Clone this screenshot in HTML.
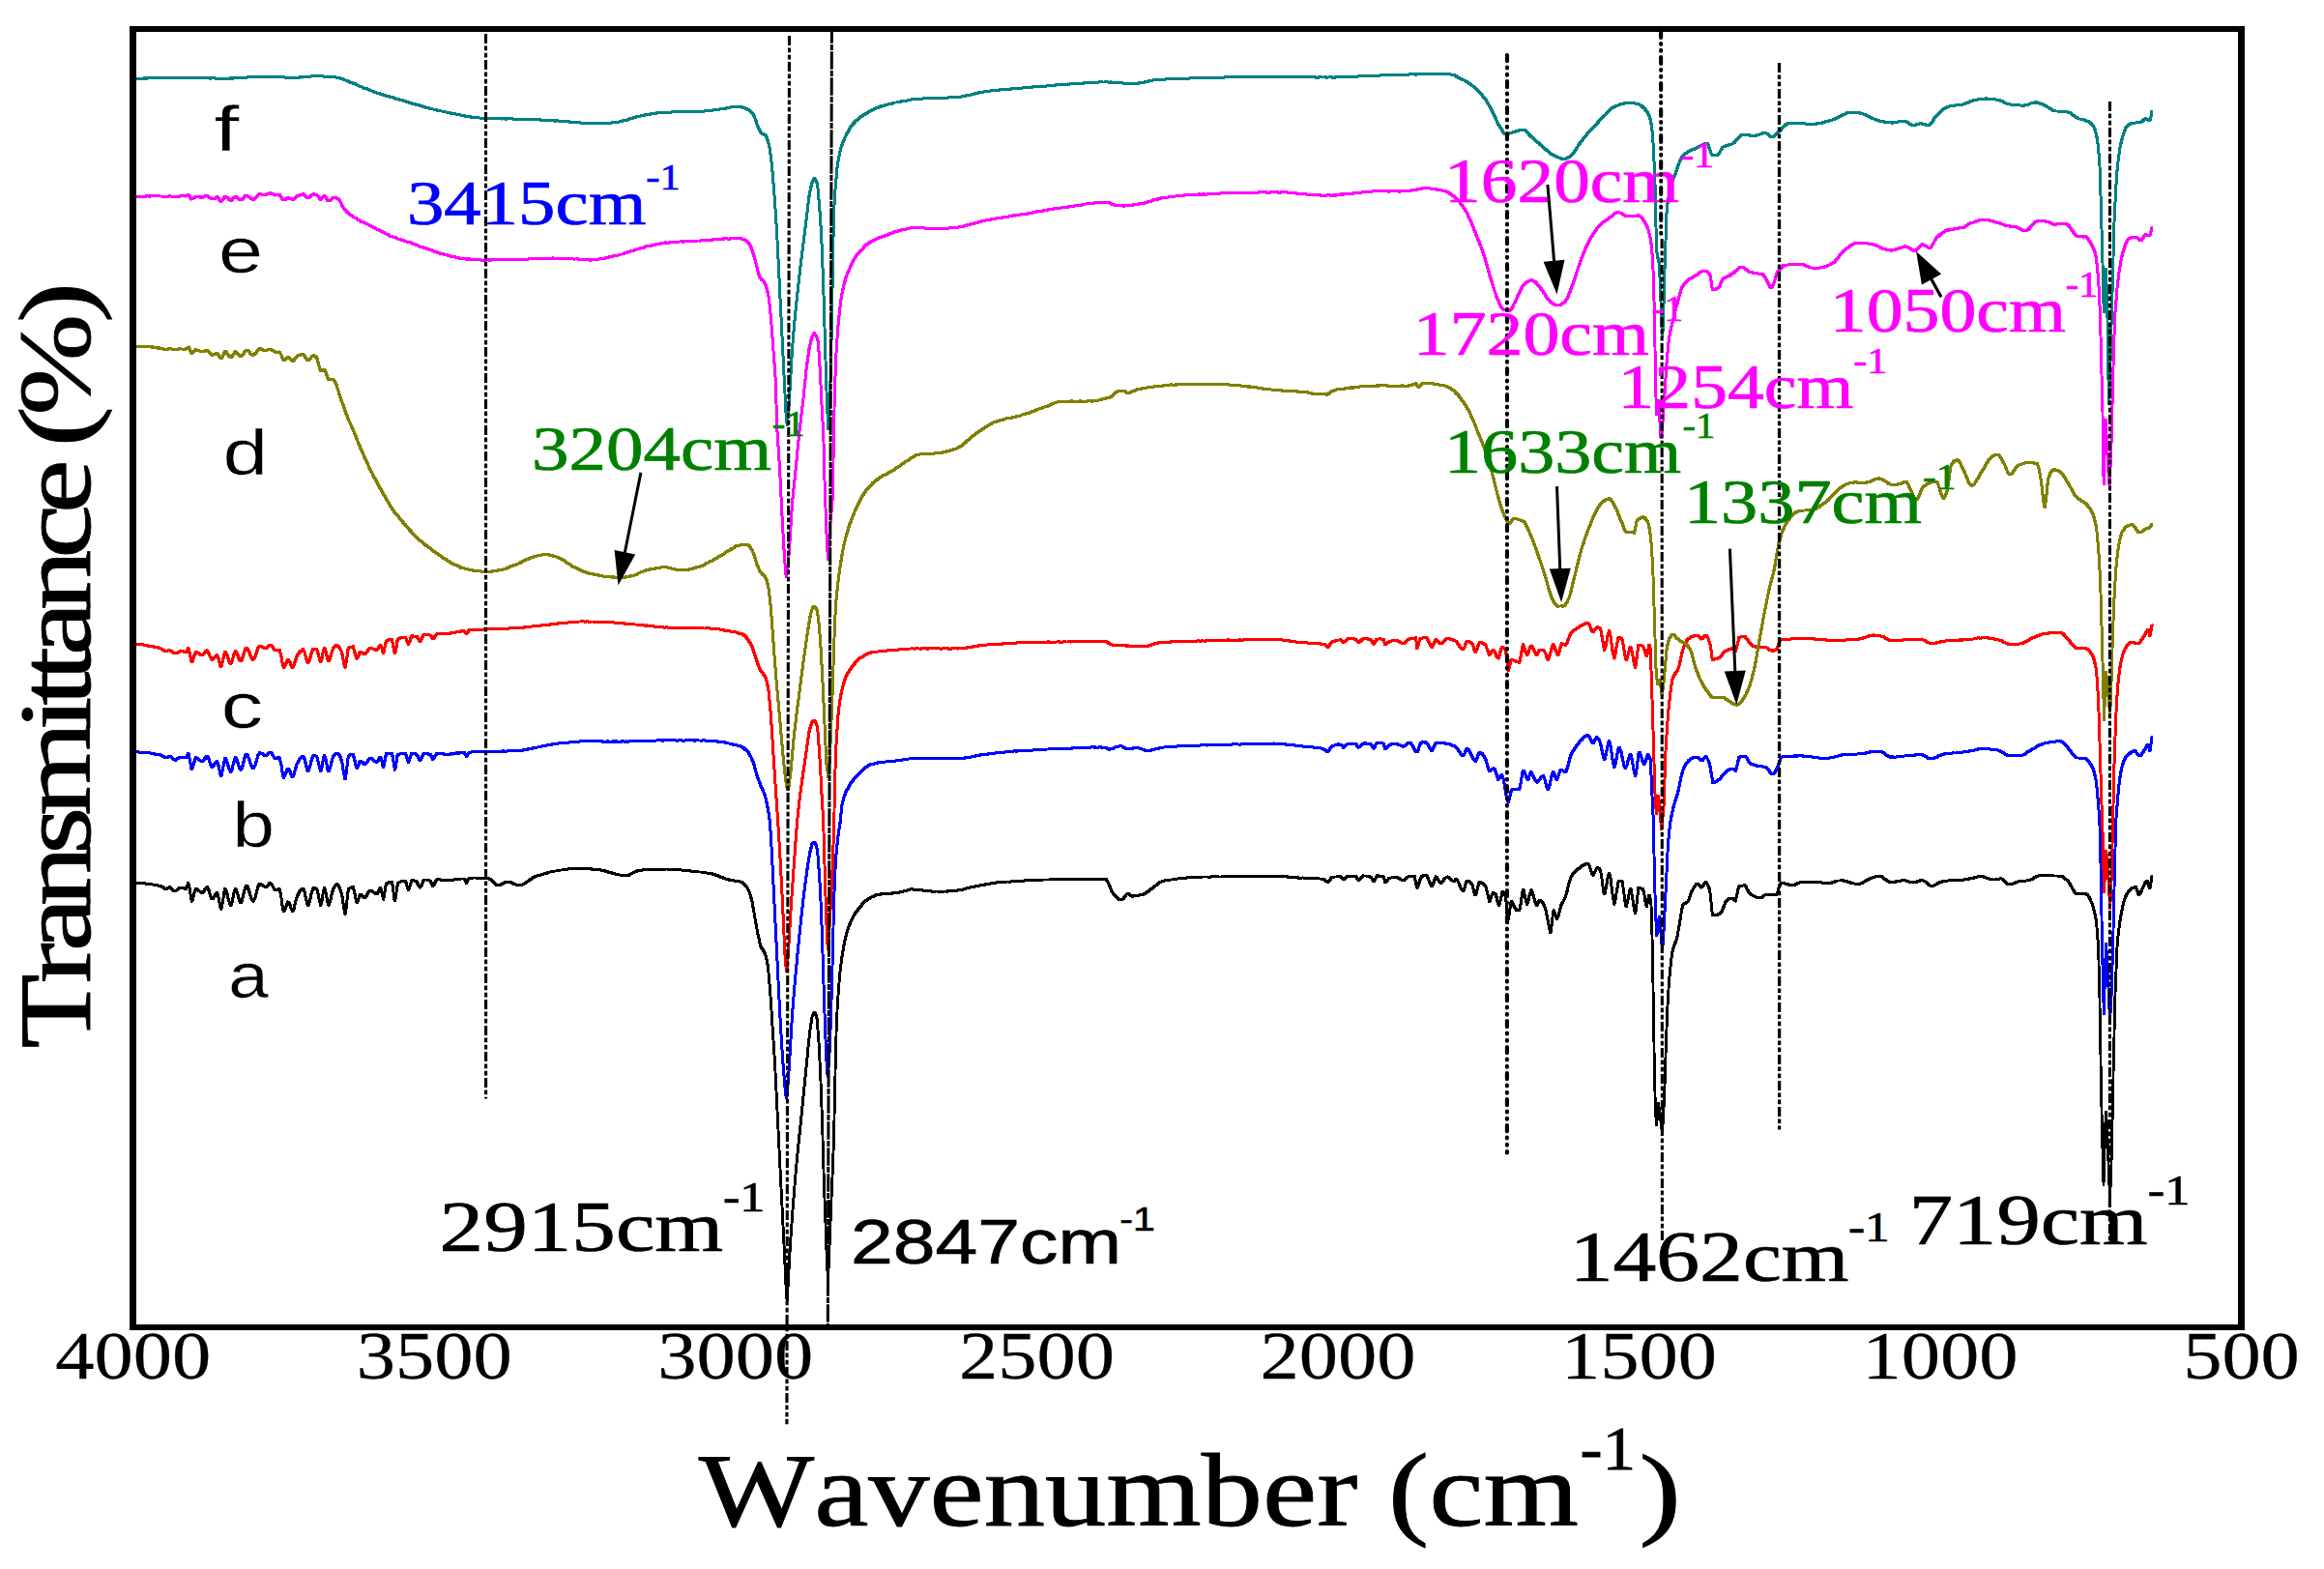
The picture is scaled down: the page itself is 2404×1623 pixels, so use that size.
<!DOCTYPE html>
<html lang="en"><head><meta charset="utf-8"><title>FTIR spectra</title>
<style>html,body{margin:0;padding:0;background:#fff}svg{display:block}text{font-kerning:none;font-variant-ligatures:none}.s{font-family:"Liberation Serif","DejaVu Serif",serif}.a{font-family:"Liberation Sans","DejaVu Sans",sans-serif}</style></head><body>
<svg width="2404" height="1623" viewBox="0 0 2404 1623">
<rect width="2404" height="1623" fill="#fff"/>
<g fill="none" stroke="#000" stroke-width="1.0" stroke-linejoin="round" stroke-linecap="butt" shape-rendering="crispEdges"><polyline id="c1" points="140.7,914.1 142.2,913.4 143.7,913.9 145.2,913.8 146.7,913.9 148.2,914.0 149.7,913.8 151.2,914.2 152.7,914.3 154.2,915.1 155.7,914.8 157.2,914.9 158.7,915.1 160.2,915.3 161.7,915.5 163.2,915.9 164.7,916.3 166.5,916.6 167.7,917.3 169.2,918.4 170.7,919.5 171.6,919.9 173.7,918.6 175.5,917.5 176.7,918.1 178.2,919.9 179.7,921.7 180.7,921.8 182.7,921.0 184.2,920.0 185.7,918.7 187.1,918.4 188.7,918.7 190.2,919.0 191.7,919.2 192.3,919.3 193.2,917.1 194.9,913.5 196.2,919.8 198.2,932.3 199.2,930.9 200.7,924.6 202.6,919.1 203.7,919.4 205.2,920.8 206.7,922.2 208.2,923.6 209.1,923.7 211.2,921.4 212.7,919.0 214.2,917.6 215.7,920.0 217.2,925.3 218.7,929.5 219.4,930.0 220.2,929.5 221.7,927.4 223.2,924.4 224.6,923.7 226.2,928.9 227.7,937.0 228.9,940.4 230.7,931.1 232.2,921.1 232.8,919.4 233.7,920.6 235.2,925.7 236.7,931.9 238.2,935.7 238.8,936.4 239.7,934.9 241.2,927.5 242.7,921.0 243.4,919.5 244.2,920.5 245.7,924.6 247.2,930.4 249.1,933.9 250.2,932.1 251.7,925.8 253.2,919.5 254.8,915.9 256.2,917.6 257.7,922.0 259.2,927.0 260.7,931.1 262.0,932.5 263.7,929.4 265.2,924.0 266.7,917.7 268.5,914.4 269.7,914.7 271.2,915.7 272.7,916.8 274.2,917.3 274.9,917.3 275.7,917.3 277.2,915.7 278.7,913.8 279.6,913.3 281.7,915.7 283.2,918.8 285.2,921.0 286.2,920.9 287.7,920.0 289.1,919.7 290.7,926.7 292.2,938.1 293.5,942.9 295.2,940.1 296.7,935.1 298.1,932.8 299.7,935.1 301.2,940.1 302.8,942.8 304.2,939.9 305.7,932.6 307.2,927.7 308.7,924.8 310.2,921.9 311.7,920.0 313.6,919.1 314.7,921.2 316.2,927.9 317.7,934.8 318.8,936.5 320.7,931.1 322.2,923.4 324.0,918.7 325.2,918.7 326.7,919.3 327.8,919.5 329.7,928.1 331.7,936.4 332.7,933.8 334.2,923.8 335.6,918.4 337.2,923.8 338.7,932.8 340.0,936.4 341.7,931.9 343.2,924.7 344.6,920.1 346.2,917.0 347.7,915.3 348.5,914.9 349.2,915.2 350.7,917.4 352.2,921.0 353.6,924.9 355.2,935.7 357.0,945.5 358.2,939.1 359.7,923.9 360.6,919.6 362.7,918.3 364.2,917.6 365.3,917.5 367.2,925.6 369.1,933.8 370.2,932.3 371.7,927.2 373.0,924.9 374.7,926.6 376.2,928.5 376.9,929.0 377.7,928.1 379.2,926.6 380.7,923.7 382.2,921.6 383.3,921.1 385.2,922.0 386.7,923.2 388.2,924.3 389.8,925.1 391.2,922.9 392.7,919.4 393.7,918.5 395.7,926.6 396.8,930.3 398.7,918.3 399.6,914.3 401.7,913.1 403.2,912.6 404.7,912.5 405.3,912.6 406.2,916.2 407.7,928.9 408.4,931.3 409.2,929.0 410.7,917.4 411.7,913.5 413.7,912.3 415.2,911.8 416.7,911.5 418.2,911.3 419.5,911.4 421.2,917.0 422.6,921.0 424.2,916.2 425.9,910.9 427.2,910.8 428.7,911.1 430.2,911.6 431.1,911.8 433.2,916.6 434.5,918.1 436.2,915.7 437.7,911.4 438.9,910.1 440.7,910.0 442.2,910.2 443.7,910.8 445.3,911.3 446.7,914.4 447.9,916.6 449.7,913.6 451.2,910.3 451.8,909.8 452.7,909.9 454.2,909.7 455.7,910.1 457.2,910.1 458.7,910.6 460.2,910.7 461.7,910.4 463.4,910.7 464.7,910.7 466.2,910.4 467.7,910.5 469.2,910.1 470.7,909.7 472.2,909.7 473.7,909.5 475.2,909.3 476.7,908.9 478.2,909.1 480.2,909.0 481.2,910.3 482.7,913.2 484.2,910.1 485.3,908.0 487.2,908.4 488.7,908.1 490.2,907.9 491.7,908.0 493.2,908.1 494.7,908.4 496.2,908.1 497.7,908.1 499.2,908.2 500.7,908.1 502.1,908.4 503.7,908.2 505.2,908.8 506.7,909.2 507.3,909.5 508.2,909.7 509.7,911.6 511.2,913.0 512.7,914.6 514.2,915.5 515.0,915.7 515.7,915.8 517.2,915.5 518.7,914.8 520.2,914.1 521.7,913.2 523.2,912.4 525.3,912.1 526.2,912.2 527.7,912.4 529.2,913.1 530.7,913.9 532.2,914.4 533.7,915.0 535.2,915.7 537.0,916.1 538.2,915.7 539.7,915.3 541.2,914.6 542.7,914.0 544.2,912.6 545.7,911.9 547.2,910.9 548.7,909.5 550.2,908.8 551.7,907.8 553.7,906.7 554.7,906.5 556.2,905.7 557.7,905.3 559.2,905.2 560.7,904.3 562.2,904.2 563.7,903.5 565.2,903.3 566.7,902.7 568.2,902.0 569.7,901.9 571.2,901.7 572.7,901.2 574.4,900.9 575.7,900.9 577.2,900.5 578.7,900.1 580.2,900.0 581.7,900.0 583.2,899.6 584.7,899.5 586.2,899.4 587.7,899.0 589.2,898.6 590.7,898.5 592.2,898.5 593.7,898.6 595.2,898.4 596.7,898.4 597.6,898.2 598.2,898.3 599.7,898.2 601.2,898.3 602.7,898.2 604.2,898.2 605.7,898.4 607.2,898.4 608.7,898.5 610.2,898.8 611.7,898.8 613.2,899.4 614.7,899.2 615.7,899.0 617.7,899.4 619.2,899.6 620.7,899.7 622.2,900.3 623.7,900.3 625.2,900.4 626.7,901.4 628.2,901.6 629.7,902.3 631.2,902.5 632.7,902.8 634.2,903.7 635.7,903.7 637.2,904.2 638.7,904.8 640.2,904.9 641.7,905.1 643.2,905.3 644.7,905.6 646.7,905.4 647.7,905.5 649.2,905.3 650.7,905.1 652.2,904.1 653.7,903.3 655.2,902.8 656.7,901.9 658.2,901.4 659.7,900.8 661.2,900.6 662.2,900.2 664.2,900.1 665.7,899.6 667.2,899.8 668.7,900.0 670.2,899.6 671.7,899.5 673.2,899.3 674.7,899.5 676.2,899.4 677.7,899.1 679.2,899.4 680.7,899.2 682.2,899.3 683.7,899.0 685.2,899.4 686.7,899.2 688.0,899.1 689.7,899.0 691.2,899.1 692.7,899.3 694.2,899.2 695.7,899.5 697.2,899.5 698.7,899.7 700.2,899.7 701.7,899.7 703.2,899.5 704.7,900.0 706.2,900.2 707.7,900.3 709.2,900.5 710.7,900.5 712.2,900.6 713.7,900.7 715.2,901.2 716.7,901.2 718.2,901.2 720.0,901.3 721.2,901.6 722.7,902.0 724.2,902.0 725.7,902.0 727.2,902.6 728.7,902.8 730.2,902.9 731.7,903.1 733.2,903.4 734.7,903.6 735.5,903.8 736.2,903.7 737.7,904.5 739.2,904.7 740.7,905.5 742.2,905.5 743.7,906.4 745.2,907.1 746.7,907.5 748.2,908.2 749.7,908.8 751.2,909.3 752.7,909.6 753.6,909.9 754.2,910.2 755.7,910.5 757.2,910.6 758.7,910.8 760.2,911.1 761.7,911.4 763.2,911.4 764.7,911.7 766.5,912.5 767.7,912.9 769.2,914.1 770.7,915.6 772.2,917.5 772.9,918.2 773.7,919.9 775.2,923.0 777.3,930.1 778.2,933.7 779.7,942.2 780.7,948.2 782.7,959.3 784.0,966.1 785.7,974.1 787.1,979.2 788.7,981.9 790.2,983.9 791.0,985.7 791.7,987.3 793.2,993.1 794.4,999.6 796.7,1025.8 797.7,1040.7 798.7,1056.7 801.3,1095.3 802.2,1112.1 803.9,1147.0 805.2,1172.6 806.5,1198.6 808.2,1232.5 809.1,1250.1 809.7,1262.0 811.5,1297.0 812.7,1325.1 814.1,1345.4 815.7,1320.9 816.7,1300.0 818.7,1269.4 819.4,1260.0 820.2,1249.3 821.7,1230.0 823.3,1211.5 824.7,1196.2 826.2,1181.4 827.7,1166.8 828.4,1159.6 829.2,1151.9 830.7,1137.1 832.2,1121.9 833.6,1108.0 835.2,1091.7 836.7,1076.5 837.5,1069.3 838.2,1063.6 840.1,1051.4 841.2,1048.9 842.6,1047.6 844.2,1050.3 845.2,1054.3 847.3,1082.6 849.1,1121.2 850.2,1151.4 850.9,1172.9 851.7,1200.8 852.4,1224.2 853.7,1258.1 854.7,1288.2 856.5,1326.2 858.0,1290.0 859.2,1260.1 860.0,1240.0 860.7,1224.4 862.4,1182.0 863.5,1134.0 864.6,1082.4 865.2,1064.0 866.1,1043.6 866.7,1033.3 868.5,1010.1 869.7,999.2 871.0,989.3 872.7,979.1 874.2,971.7 874.9,968.9 875.7,965.7 877.2,960.8 878.7,956.6 880.1,953.4 881.7,950.0 883.2,947.2 884.7,944.6 886.2,942.6 887.8,940.6 889.2,938.7 890.7,936.9 892.2,935.2 893.7,933.4 895.2,932.1 896.7,930.9 898.1,930.0 899.7,929.0 901.2,928.0 902.7,927.6 904.2,927.0 905.7,926.1 907.2,925.7 908.5,925.4 910.2,925.3 911.7,924.7 913.2,925.0 914.7,924.6 916.2,924.7 917.7,924.4 919.2,924.2 920.7,924.1 922.2,924.2 923.7,923.8 925.2,923.7 926.5,923.5 928.2,923.1 929.7,923.2 931.2,922.8 932.7,922.3 934.2,922.1 935.7,921.4 937.2,921.2 938.7,921.1 940.2,920.7 941.7,920.0 943.2,919.7 944.6,920.0 946.2,920.4 947.7,920.2 949.2,920.3 950.7,920.6 952.2,920.5 953.7,920.8 955.2,921.1 956.7,921.2 958.2,921.4 959.7,921.4 961.2,921.8 962.7,921.8 964.2,922.2 965.7,922.5 967.2,922.1 968.7,921.9 970.4,922.2 971.7,922.3 973.2,922.4 974.7,922.4 976.2,922.1 977.7,922.0 979.2,922.2 980.7,921.8 982.2,922.0 983.7,921.7 985.2,921.7 986.7,921.5 988.2,921.4 989.7,921.3 991.1,920.9 992.7,920.8 994.2,920.5 995.7,920.2 997.2,919.9 998.7,919.2 1000.2,918.8 1001.7,918.3 1003.2,918.0 1004.0,918.0 1004.7,917.6 1006.2,917.6 1007.7,917.2 1009.2,916.8 1010.7,916.3 1012.2,916.2 1013.7,916.0 1015.2,915.3 1016.7,915.5 1018.2,915.3 1019.7,914.8 1021.2,914.6 1022.7,914.6 1024.2,914.2 1025.7,913.7 1027.2,913.6 1028.7,913.4 1029.8,913.3 1031.7,912.8 1033.2,913.1 1034.7,912.7 1036.2,912.7 1037.7,912.5 1039.2,912.5 1040.7,912.2 1042.2,912.0 1043.7,912.1 1045.2,912.1 1046.7,911.8 1048.2,911.9 1049.7,911.7 1051.2,911.4 1052.7,911.7 1054.2,911.2 1055.7,911.4 1057.2,911.1 1058.7,911.1 1060.2,910.8 1061.7,910.8 1063.2,911.0 1064.7,910.8 1066.0,910.7 1067.7,910.6 1069.2,910.6 1070.7,910.3 1072.2,910.2 1073.7,910.3 1075.2,910.1 1076.7,910.1 1078.2,910.1 1079.7,910.0 1081.2,909.9 1082.7,910.1 1084.2,910.0 1085.7,910.0 1087.2,909.7 1088.7,909.6 1090.2,909.4 1091.7,909.5 1093.2,909.2 1094.7,909.4 1096.2,909.6 1097.7,909.7 1099.2,909.6 1100.7,909.3 1102.1,909.5 1103.7,909.3 1105.2,909.5 1106.7,909.4 1108.2,909.5 1109.7,909.8 1111.2,909.5 1112.7,909.7 1114.2,909.4 1115.7,909.4 1117.2,909.6 1118.7,909.7 1120.2,909.3 1121.7,909.4 1123.2,909.2 1124.7,909.4 1126.2,909.5 1127.7,909.4 1129.2,909.3 1130.7,909.2 1132.2,909.5 1133.7,909.5 1135.2,909.5 1136.7,909.4 1138.2,909.2 1139.7,909.7 1141.2,909.4 1142.7,909.4 1143.4,909.5 1144.2,909.4 1145.7,911.8 1147.2,915.1 1148.7,918.8 1150.2,922.2 1151.2,923.7 1153.2,925.8 1154.7,927.9 1156.2,929.5 1157.7,930.7 1159.7,931.1 1160.7,930.7 1162.2,929.4 1163.7,927.2 1165.2,925.2 1166.7,924.1 1168.2,925.5 1169.7,926.2 1170.5,926.8 1171.2,927.2 1172.7,926.8 1174.2,926.8 1175.7,926.4 1177.2,926.5 1178.7,925.9 1180.2,925.8 1182.1,925.4 1183.2,924.9 1184.7,924.4 1186.2,923.1 1187.7,922.1 1189.2,920.9 1190.7,919.7 1192.5,918.5 1193.7,917.7 1195.2,916.3 1196.7,915.0 1198.2,913.9 1199.7,912.8 1201.2,912.1 1202.8,911.4 1204.2,911.1 1205.7,910.7 1207.2,910.4 1208.7,910.4 1210.2,909.9 1211.7,909.9 1213.2,909.9 1214.7,909.4 1215.7,909.4 1217.7,908.9 1219.2,908.9 1220.7,908.5 1222.2,908.5 1223.7,908.3 1225.2,908.2 1226.7,908.2 1228.2,907.9 1229.7,907.8 1231.2,907.6 1232.7,907.4 1234.2,907.3 1235.7,907.0 1236.4,907.3 1237.2,907.5 1238.7,907.3 1240.2,907.1 1241.7,907.4 1243.2,907.1 1244.7,907.0 1246.2,906.9 1247.7,906.9 1249.2,907.0 1250.7,907.3 1252.2,907.0 1253.7,906.8 1255.2,906.9 1256.7,906.9 1258.2,906.7 1259.7,906.9 1261.2,907.0 1262.7,906.9 1264.2,906.9 1265.7,906.6 1267.2,906.5 1268.7,907.0 1270.2,906.9 1271.7,906.5 1273.2,906.8 1274.7,906.7 1276.2,906.8 1277.7,906.7 1279.2,906.6 1280.7,906.7 1282.2,906.7 1283.7,906.6 1285.2,906.3 1286.7,906.2 1288.2,906.5 1289.7,906.3 1291.2,906.6 1292.7,906.7 1294.2,906.6 1295.7,906.5 1297.2,906.6 1298.7,906.7 1300.2,906.4 1301.7,906.7 1303.2,906.6 1304.7,906.6 1306.2,906.7 1307.7,906.4 1309.2,906.7 1310.7,906.4 1312.2,906.4 1313.7,906.3 1315.2,906.6 1316.7,906.4 1318.2,906.5 1320.0,906.3 1321.2,906.7 1322.7,906.8 1324.2,906.6 1325.7,906.9 1327.2,906.8 1328.7,907.1 1330.2,906.9 1331.7,906.8 1333.2,907.4 1334.7,907.2 1336.2,907.2 1337.7,907.4 1339.2,907.4 1340.7,907.7 1342.2,907.7 1343.7,908.2 1345.8,908.2 1346.7,907.9 1348.2,908.0 1349.7,908.2 1351.2,908.1 1352.7,908.4 1354.2,908.4 1355.7,908.4 1357.2,908.5 1358.7,908.7 1360.2,908.9 1361.7,909.0 1363.2,908.8 1364.7,909.1 1366.2,909.0 1367.7,909.3 1369.1,909.3 1370.7,910.6 1372.2,911.9 1373.4,912.6 1375.2,911.0 1376.7,908.6 1378.1,907.1 1379.7,907.1 1381.2,907.0 1382.7,906.9 1384.2,906.7 1385.7,906.8 1387.1,906.8 1388.7,909.1 1389.7,910.0 1391.7,908.5 1393.2,906.9 1394.9,906.3 1396.2,906.5 1397.7,906.4 1399.2,906.6 1400.7,906.5 1402.6,906.6 1403.7,908.5 1405.2,910.7 1406.7,909.9 1408.2,907.6 1409.7,906.3 1410.4,905.9 1411.2,906.1 1412.7,906.0 1414.2,906.2 1415.7,906.5 1417.2,907.2 1418.1,907.3 1418.7,907.9 1420.7,911.8 1421.7,910.9 1423.2,908.0 1424.6,905.7 1426.2,905.9 1427.7,906.2 1429.2,906.3 1431.0,906.3 1432.8,912.6 1433.7,912.2 1435.2,910.5 1436.7,908.6 1437.5,908.3 1438.2,908.0 1439.7,907.9 1441.2,907.3 1442.7,907.5 1443.9,907.1 1445.7,907.5 1447.2,908.7 1448.7,909.5 1450.2,910.4 1451.7,910.5 1453.2,910.3 1454.7,908.7 1456.2,907.1 1458.1,906.3 1459.2,906.4 1460.7,906.2 1462.2,906.4 1463.3,906.6 1465.2,916.4 1465.9,918.4 1466.7,917.3 1468.2,912.3 1469.7,907.9 1471.2,906.3 1472.7,905.6 1474.2,904.9 1474.9,905.3 1475.7,905.5 1477.2,908.3 1478.7,912.4 1480.2,916.1 1481.4,917.0 1483.2,912.3 1485.2,906.8 1486.2,907.5 1487.7,909.9 1489.2,912.4 1490.4,913.5 1492.2,912.3 1493.7,909.7 1495.2,908.3 1496.9,906.8 1498.2,907.4 1499.7,908.3 1501.2,909.9 1502.7,911.2 1504.6,912.0 1505.9,909.0 1507.2,910.0 1508.7,912.6 1510.2,916.5 1511.7,920.0 1513.6,921.9 1514.7,919.7 1516.2,913.9 1517.5,911.2 1519.2,911.4 1520.7,912.4 1522.7,914.7 1523.7,917.6 1525.2,924.7 1526.0,926.1 1526.7,925.5 1528.2,919.6 1529.7,913.4 1530.4,912.6 1531.2,912.5 1532.7,913.4 1534.2,914.3 1535.7,915.6 1536.9,917.3 1538.7,924.7 1540.7,932.2 1541.7,930.8 1543.2,926.0 1544.6,923.5 1546.2,924.3 1547.2,924.9 1549.2,932.7 1550.5,936.8 1552.2,930.9 1553.7,923.9 1554.4,922.7 1555.2,923.3 1556.7,925.6 1557.5,927.5 1558.2,935.6 1559.6,954.4 1561.2,945.4 1563.2,932.5 1564.2,933.5 1565.7,936.8 1567.8,940.1 1568.7,941.3 1570.2,941.3 1571.7,941.8 1573.2,934.7 1574.7,923.2 1575.6,920.2 1576.2,920.7 1577.7,928.4 1579.5,935.3 1580.7,932.5 1582.2,925.6 1583.9,920.7 1585.2,923.1 1586.7,928.2 1588.2,933.6 1589.8,936.5 1591.2,933.6 1592.4,931.1 1594.2,932.1 1595.7,933.8 1597.5,936.6 1598.7,940.3 1600.2,947.4 1601.4,953.2 1603.2,963.1 1604.0,964.8 1604.7,961.7 1606.2,946.6 1607.1,941.6 1607.7,942.5 1609.2,947.9 1610.5,950.5 1612.2,946.4 1614.3,937.9 1615.2,935.7 1616.7,933.1 1618.2,930.3 1619.5,927.2 1621.2,921.3 1622.7,914.5 1624.7,908.2 1625.7,906.4 1627.2,904.0 1628.7,902.2 1630.2,900.8 1631.7,899.5 1633.7,897.9 1634.7,897.2 1636.2,896.0 1637.7,895.1 1639.2,894.4 1640.7,893.7 1642.7,893.4 1643.7,894.4 1645.2,898.9 1646.7,903.6 1647.9,905.4 1649.7,902.3 1651.8,898.0 1652.7,897.8 1654.2,898.6 1655.6,900.4 1657.2,910.1 1658.7,922.2 1659.5,925.1 1660.2,923.8 1661.7,916.6 1663.2,907.4 1664.7,903.0 1666.2,909.7 1667.7,923.1 1669.8,935.2 1670.7,932.7 1672.2,922.6 1674.2,911.9 1675.2,911.2 1676.7,910.9 1677.6,910.9 1678.2,912.2 1679.7,922.7 1681.2,934.3 1682.2,937.7 1684.2,929.9 1685.7,921.7 1686.6,919.4 1687.2,920.6 1688.7,928.8 1690.2,939.1 1691.8,945.0 1693.2,933.8 1694.9,918.4 1696.2,918.7 1697.7,919.0 1699.5,919.8 1700.7,924.2 1702.2,933.8 1703.4,938.0 1705.2,928.7 1706.0,926.1 1706.7,927.5 1708.0,935.1 1709.3,979.2 1710.4,1043.8 1711.4,1108.2 1712.4,1146.9 1713.5,1163.8 1714.2,1157.6 1715.5,1141.6 1717.6,1156.8 1718.7,1165.9 1719.7,1170.2 1721.7,1133.7 1723.3,1082.2 1724.8,1043.6 1726.2,1019.6 1727.4,1005.0 1729.2,989.1 1730.5,981.8 1732.2,976.7 1733.7,973.6 1734.4,971.6 1735.2,967.7 1736.7,959.3 1737.7,953.5 1739.7,940.7 1740.8,936.5 1742.7,934.6 1744.2,933.9 1746.0,932.7 1747.2,930.2 1748.7,925.5 1749.9,922.4 1751.7,919.2 1753.2,916.5 1754.7,914.6 1756.3,914.0 1757.7,915.4 1759.2,917.7 1760.2,918.2 1762.2,915.4 1764.1,912.5 1765.2,913.3 1766.7,915.4 1768.7,921.0 1769.7,930.4 1771.3,946.0 1772.7,946.8 1774.4,946.6 1775.7,946.3 1777.2,946.1 1778.7,945.1 1780.2,943.8 1780.9,942.9 1781.7,941.6 1783.2,937.3 1784.7,933.7 1786.2,932.0 1787.7,930.6 1789.2,929.3 1791.2,929.0 1792.2,929.1 1793.7,931.1 1795.0,932.3 1796.7,926.1 1798.2,918.4 1798.9,916.9 1799.7,916.7 1801.2,916.5 1802.7,916.0 1804.2,915.9 1804.9,915.7 1805.7,916.5 1807.2,919.7 1809.2,923.5 1810.2,924.3 1811.7,925.4 1813.2,926.5 1814.7,927.1 1816.2,927.8 1817.7,928.6 1819.2,928.5 1820.9,928.5 1822.2,928.5 1823.7,927.4 1825.2,926.2 1827.3,925.4 1828.2,925.4 1829.7,925.5 1831.2,925.4 1832.7,925.5 1834.2,925.2 1835.7,925.3 1837.7,925.4 1838.7,923.7 1840.2,918.0 1842.0,913.3 1843.2,913.3 1844.7,913.6 1846.2,913.9 1847.7,914.2 1849.2,914.7 1850.7,915.2 1852.2,915.5 1853.7,915.8 1854.4,915.9 1855.2,915.8 1856.7,915.4 1858.2,914.5 1859.7,913.4 1861.2,913.1 1862.2,912.9 1864.2,912.6 1865.7,912.8 1867.2,912.9 1868.7,912.7 1870.2,912.9 1871.7,912.8 1873.2,912.8 1874.7,912.7 1876.2,912.8 1877.7,912.7 1879.2,912.8 1880.7,912.5 1882.8,912.8 1883.7,912.9 1885.2,913.1 1886.7,913.4 1888.2,913.8 1889.7,913.8 1890.6,913.9 1891.2,913.9 1892.7,913.8 1894.2,913.5 1895.7,912.7 1897.2,912.4 1898.7,911.5 1900.2,911.1 1901.7,910.9 1903.5,910.9 1904.7,910.7 1906.2,910.6 1907.7,911.3 1909.2,911.6 1910.7,911.9 1912.2,912.4 1913.7,912.9 1915.2,913.5 1916.7,913.9 1918.2,913.9 1919.7,914.7 1921.5,914.5 1922.7,914.3 1924.2,914.1 1925.7,913.4 1927.2,912.9 1928.7,911.9 1930.2,910.8 1931.7,910.0 1933.1,909.3 1934.7,908.7 1936.2,908.2 1937.7,907.4 1939.2,907.1 1940.7,906.4 1942.2,906.1 1943.4,906.1 1945.2,906.1 1946.7,907.0 1948.2,908.2 1949.7,909.2 1951.2,910.4 1952.7,911.5 1954.2,912.1 1956.3,912.7 1957.2,912.5 1958.7,912.2 1960.2,912.5 1961.7,911.8 1963.2,911.5 1964.7,911.5 1966.2,911.1 1967.7,910.7 1969.2,910.6 1970.7,910.8 1972.2,911.1 1973.7,911.8 1975.2,912.2 1976.7,912.6 1978.3,912.8 1979.7,912.7 1981.2,912.6 1982.7,912.2 1984.2,911.2 1985.7,911.2 1987.2,910.6 1988.6,910.5 1990.2,911.3 1991.7,912.2 1993.2,913.6 1994.7,915.2 1996.2,915.9 1997.6,916.3 1999.2,916.3 2000.7,915.9 2002.2,915.2 2003.7,914.1 2005.2,913.4 2006.7,912.7 2008.2,912.3 2009.7,911.7 2010.5,911.5 2011.2,911.5 2012.7,911.1 2014.2,911.1 2015.7,911.0 2017.2,910.6 2018.7,910.7 2020.2,910.7 2021.7,910.4 2023.2,910.6 2024.7,910.5 2026.2,910.5 2027.7,910.1 2029.2,910.1 2031.2,910.1 2032.2,909.9 2033.7,909.4 2035.2,909.3 2036.7,909.2 2038.2,908.6 2039.7,908.3 2041.2,908.3 2042.7,907.6 2044.2,907.3 2045.7,906.9 2047.2,906.8 2048.7,907.0 2049.3,906.8 2050.2,906.7 2051.7,906.9 2053.2,907.5 2054.7,908.1 2056.2,908.4 2057.7,909.1 2059.2,909.4 2060.7,909.8 2062.2,910.0 2063.7,909.9 2065.2,909.5 2066.7,909.3 2068.2,909.1 2069.9,908.7 2071.2,909.3 2072.7,910.6 2074.2,912.3 2075.7,913.7 2077.2,914.8 2078.2,915.1 2080.2,914.7 2081.7,914.3 2083.2,913.8 2084.7,913.1 2086.2,912.3 2088.0,912.0 2089.2,911.5 2090.7,911.7 2092.2,911.4 2093.7,911.3 2095.2,911.0 2096.7,910.9 2098.3,910.8 2099.7,910.5 2101.2,909.5 2102.7,909.1 2104.2,908.1 2105.7,907.2 2107.2,906.6 2108.7,905.9 2110.2,905.5 2111.2,905.4 2113.2,905.5 2114.7,905.5 2116.2,905.5 2117.7,905.4 2119.2,905.5 2120.7,905.7 2122.2,905.9 2123.7,905.8 2125.2,906.0 2126.7,905.9 2128.2,905.9 2129.7,906.2 2131.2,906.1 2131.9,906.4 2132.7,906.6 2134.2,907.1 2135.7,908.2 2137.2,909.8 2138.6,910.7 2140.2,912.7 2141.7,915.3 2143.2,918.0 2144.7,920.8 2146.2,923.2 2147.7,924.2 2148.7,925.1 2150.7,924.7 2152.2,924.7 2153.7,925.0 2155.2,924.9 2156.7,924.7 2157.7,924.9 2159.7,926.0 2161.2,928.5 2162.7,931.5 2164.2,935.1 2165.7,939.7 2167.2,946.2 2168.0,950.7 2168.7,955.7 2170.6,979.1 2171.9,1030.6 2173.2,1108.2 2174.5,1172.9 2176.0,1225.7 2177.7,1166.2 2178.4,1150.8 2179.2,1159.5 2180.5,1190.1 2182.5,1239.9 2183.7,1215.4 2184.8,1172.6 2186.1,1108.1 2187.9,1030.8 2190.0,979.2 2191.2,966.2 2192.7,954.8 2193.8,948.0 2195.7,937.7 2197.7,930.1 2198.7,927.4 2200.2,924.8 2201.7,922.3 2203.2,920.7 2204.2,919.5 2206.2,918.3 2207.7,918.0 2209.3,917.3 2210.7,921.2 2212.4,926.0 2213.7,924.8 2215.2,921.3 2217.1,917.1 2218.2,915.0 2219.7,911.9 2221.0,910.8 2222.7,916.5 2223.5,918.6 2224.2,917.4 2226.1,905.7"/><use href="#c1" x="-0.9" y="-0.9"/><use href="#c1" x="-0.9" y="0"/><use href="#c1" x="-0.9" y="0.9"/><use href="#c1" x="0" y="-0.9"/><use href="#c1" x="0" y="0.9"/><use href="#c1" x="0.9" y="-0.9"/><use href="#c1" x="0.9" y="0"/><use href="#c1" x="0.9" y="0.9"/></g>
<g fill="none" stroke="#0000ff" stroke-width="1.1" stroke-linejoin="round" stroke-linecap="butt" shape-rendering="crispEdges"><polyline id="c2" points="139.4,777.7 140.9,778.0 142.4,777.8 143.9,778.1 145.4,778.1 146.9,778.0 148.4,778.3 149.9,778.6 151.4,778.7 152.9,778.9 154.4,778.8 155.9,779.1 157.4,779.2 158.9,779.7 160.4,780.1 161.9,780.2 163.4,780.5 164.9,780.6 166.5,781.2 167.9,781.8 169.4,782.7 170.9,783.6 171.6,784.0 172.4,783.7 173.9,783.1 175.5,782.2 176.9,782.7 178.4,784.4 179.9,786.0 180.7,785.9 181.4,786.1 182.9,785.3 184.4,784.5 185.9,783.5 187.1,783.0 188.9,783.4 190.4,783.6 192.3,784.0 193.4,782.0 194.9,779.4 196.4,786.4 198.2,796.0 199.4,793.6 200.9,787.9 202.6,783.9 203.9,784.3 205.4,785.5 206.9,786.7 208.4,787.5 209.1,787.9 209.9,787.4 211.4,785.3 212.9,783.4 214.2,782.4 215.9,784.7 217.4,789.7 219.4,793.5 220.4,793.0 221.9,790.6 223.4,788.6 224.6,787.4 226.4,793.2 227.9,800.6 228.9,802.6 230.9,793.0 232.8,784.0 233.9,785.2 235.4,790.1 236.9,795.2 238.8,798.8 239.9,796.9 241.4,789.8 243.4,783.8 244.4,784.6 245.9,788.8 247.4,793.6 249.1,796.3 250.4,794.1 251.9,788.3 253.4,782.5 254.8,780.1 256.4,781.8 257.9,785.9 259.4,790.6 260.9,793.8 262.0,794.7 263.9,791.8 265.4,786.5 266.9,781.3 268.5,778.9 269.9,779.0 271.4,779.8 272.9,781.1 274.9,781.5 275.9,781.4 277.4,779.6 278.9,778.3 279.6,778.3 280.4,778.7 281.9,780.4 283.4,783.3 285.2,784.6 286.4,784.4 287.9,783.8 289.1,783.7 290.9,790.9 292.4,801.0 293.5,804.2 295.4,800.5 296.9,796.3 298.1,794.9 299.9,797.7 301.4,801.9 302.8,803.9 304.4,800.1 305.9,794.1 307.2,790.0 308.9,787.1 310.4,784.8 311.9,782.9 313.6,782.1 314.9,784.5 316.4,790.7 317.9,796.4 318.8,797.9 320.9,792.2 322.4,785.1 324.0,781.6 325.4,781.5 326.9,782.2 327.8,782.6 329.9,791.2 331.7,797.9 332.9,794.2 334.4,785.2 335.6,781.5 337.4,787.4 338.9,795.4 340.0,797.8 341.9,793.1 343.4,786.2 344.6,782.9 346.4,780.4 347.9,779.2 348.5,779.0 349.4,779.3 350.9,781.0 352.4,784.0 353.6,787.3 355.4,798.5 357.0,805.9 358.4,797.6 359.9,784.7 360.6,782.1 361.4,781.4 362.9,780.8 364.4,780.3 365.3,780.1 367.4,788.7 369.1,794.6 370.4,792.7 371.9,788.3 373.0,787.1 374.9,788.4 376.9,790.5 377.9,790.3 379.4,788.4 380.9,786.3 382.4,784.4 383.3,784.2 385.4,785.3 386.9,786.9 388.4,787.9 389.8,788.5 391.4,786.3 392.9,783.4 393.7,783.1 394.4,784.3 395.9,791.6 396.8,793.7 398.9,782.1 399.6,779.8 400.4,779.2 401.9,779.4 403.4,779.0 405.3,779.0 406.4,783.8 408.4,796.1 409.4,792.4 410.9,782.5 411.7,780.1 412.4,780.1 413.9,779.9 415.4,779.6 416.9,779.4 418.4,779.2 419.5,779.0 421.4,785.3 422.6,788.2 424.4,783.1 425.9,779.4 427.4,779.3 428.9,779.7 430.4,780.0 431.1,780.8 431.9,781.8 433.4,785.2 434.5,786.7 436.4,783.5 437.9,780.1 438.9,779.5 440.9,779.5 442.4,779.8 443.9,780.2 445.3,780.8 446.9,784.0 447.9,785.7 449.9,782.3 451.8,779.5 452.9,779.4 454.4,779.5 455.9,779.3 457.4,779.5 458.9,780.1 460.4,780.3 461.9,780.1 463.4,780.2 464.9,780.2 466.4,779.9 467.9,780.1 469.4,779.5 470.9,779.4 472.4,778.8 473.9,779.3 475.4,778.9 476.9,778.9 478.4,778.4 480.2,778.6 481.4,780.4 482.7,782.5 484.4,779.5 485.3,778.3 487.4,778.0 488.9,777.7 490.4,777.8 491.9,777.9 493.4,777.7 494.9,777.7 496.4,777.7 497.9,777.4 499.4,777.6 500.9,777.8 502.1,777.4 503.9,777.5 505.4,777.6 506.9,777.2 508.4,777.4 509.9,777.1 511.4,777.2 512.9,777.1 514.4,777.1 515.9,777.2 517.4,777.2 518.9,777.2 520.4,776.8 521.9,777.4 523.4,777.1 524.9,776.9 526.4,776.9 527.9,777.0 529.4,776.8 530.9,776.8 532.4,776.8 533.1,776.9 533.9,776.6 535.4,776.7 536.9,776.6 538.4,776.3 539.9,776.3 541.4,775.9 542.9,775.4 544.4,775.4 545.9,775.0 547.4,774.7 548.9,774.4 550.4,774.4 551.9,773.8 553.4,773.5 554.9,773.1 556.4,773.0 557.9,772.6 558.9,772.3 560.9,771.9 562.4,771.9 563.9,771.6 565.4,771.0 566.9,770.8 568.4,770.8 569.9,770.5 571.4,769.9 572.9,769.8 574.4,769.7 575.9,769.3 577.4,769.0 578.9,768.8 580.4,768.5 581.9,768.5 583.4,768.4 584.7,768.0 586.4,768.1 587.9,768.1 589.4,767.8 590.9,767.8 592.4,767.5 593.9,767.6 595.4,767.2 596.9,767.5 598.4,767.1 599.9,766.9 601.4,766.8 602.9,766.8 604.4,766.7 605.9,766.7 607.4,766.7 608.9,766.8 610.5,766.8 611.9,766.7 613.4,766.9 614.9,766.6 616.4,766.6 617.9,766.6 619.4,766.9 620.9,766.6 622.4,766.7 623.9,767.2 625.4,767.3 626.9,767.2 628.4,766.9 629.9,767.1 631.4,767.3 632.9,767.2 634.4,766.9 636.4,767.1 637.4,766.9 638.9,767.0 640.4,767.5 641.9,767.3 643.4,766.9 644.9,766.9 646.4,767.1 647.9,766.9 649.4,767.1 650.9,766.9 652.4,766.9 653.9,766.9 655.4,766.6 656.9,766.5 658.4,766.5 659.9,766.5 661.4,766.5 662.9,766.5 664.4,766.5 665.9,766.5 667.4,766.2 668.9,766.5 670.4,766.5 671.9,766.3 673.4,766.2 674.9,766.3 676.4,766.2 677.9,766.1 679.4,766.0 680.9,765.9 682.4,765.8 683.9,766.0 685.4,766.1 686.9,765.7 688.0,765.9 689.9,765.9 691.4,765.8 692.9,765.8 694.4,765.8 695.9,765.6 697.4,765.9 698.9,765.9 700.4,766.2 701.9,766.0 703.4,765.8 704.9,765.9 706.4,766.2 707.9,766.1 709.4,765.9 710.9,765.9 712.4,765.7 713.9,765.8 715.4,765.9 716.9,765.8 718.4,766.2 720.0,765.6 721.4,765.9 722.9,766.0 724.4,766.0 725.9,766.2 727.4,765.8 728.9,765.9 730.4,766.1 731.9,766.2 733.4,766.1 734.9,766.1 736.4,766.5 738.1,766.2 739.4,766.4 740.9,766.8 742.4,767.1 743.9,767.2 745.4,767.2 746.9,767.5 748.4,767.8 749.9,768.0 751.4,768.5 752.9,769.0 753.6,769.0 754.4,769.0 755.9,769.4 757.4,769.6 758.9,770.3 760.4,770.2 761.9,770.9 763.4,771.1 764.9,771.6 766.5,772.2 767.9,773.2 769.4,773.9 770.9,775.4 772.9,776.6 773.9,777.8 775.4,780.4 776.9,783.3 778.1,785.8 779.9,790.7 781.4,796.5 783.3,802.7 784.4,805.8 785.9,809.7 787.1,813.0 788.9,816.9 790.4,820.4 791.8,824.5 793.4,831.8 794.9,839.9 796.4,849.9 797.9,873.6 798.7,888.7 799.4,902.0 801.3,940.4 802.4,962.4 803.9,991.9 805.4,1022.4 806.5,1043.9 808.4,1076.8 809.1,1087.4 809.9,1098.9 811.7,1121.1 812.9,1132.7 813.5,1135.1 814.4,1129.9 816.0,1108.0 817.4,1085.8 819.4,1051.2 820.4,1038.4 821.9,1020.3 823.3,1004.9 824.9,987.8 826.4,972.5 828.4,953.4 829.4,944.0 830.9,930.7 832.4,918.6 833.6,909.1 835.4,896.2 836.9,886.9 837.5,883.6 838.4,879.0 840.1,873.0 841.4,871.7 842.6,871.2 844.4,874.8 845.2,878.4 845.9,883.3 847.8,909.4 848.9,929.8 850.4,966.3 852.4,1030.8 853.4,1060.0 854.3,1082.4 854.9,1096.0 856.1,1113.2 857.9,1091.8 859.4,1056.5 860.9,1003.3 861.5,979.3 862.8,927.2 863.9,900.7 864.6,888.6 865.4,879.1 867.2,862.8 868.4,855.3 869.2,849.8 869.9,842.9 871.0,832.4 872.9,824.8 874.9,819.2 875.9,817.2 877.4,815.0 878.9,812.2 880.1,810.3 881.9,808.0 883.4,805.6 884.9,804.6 886.4,802.8 887.8,801.1 889.4,799.8 890.9,798.0 892.4,796.4 893.9,795.2 895.4,794.0 896.9,792.8 898.1,792.2 899.9,791.2 901.4,790.6 902.9,790.4 904.4,790.0 905.9,789.5 907.4,789.2 908.5,788.8 910.4,788.6 911.9,788.3 913.4,788.5 914.9,788.0 916.4,788.0 917.9,787.9 919.4,787.5 920.9,787.9 922.4,787.4 923.9,787.2 925.4,787.2 926.5,787.0 928.4,786.9 929.9,786.5 931.4,786.5 932.9,786.2 934.4,785.7 935.9,785.8 937.4,785.5 938.9,785.0 940.4,785.0 941.9,784.9 943.4,784.9 944.9,784.4 946.4,784.6 947.2,784.5 947.9,784.6 949.4,784.5 950.9,784.5 952.4,784.6 953.9,784.3 955.4,784.2 956.9,784.5 958.4,784.4 959.9,784.5 961.4,784.6 962.9,784.5 964.4,784.7 965.9,784.5 967.4,784.5 968.9,784.6 970.4,784.6 971.9,784.5 973.4,784.5 974.9,784.4 976.4,784.4 977.9,784.5 979.4,784.6 980.9,784.4 982.4,784.6 983.9,784.8 985.4,784.8 986.9,784.5 988.4,784.7 989.9,784.6 991.1,784.6 992.9,784.6 994.4,784.5 995.9,784.4 997.4,784.1 998.9,783.8 1000.4,783.7 1001.9,783.5 1003.4,783.3 1004.9,782.9 1006.4,782.6 1007.9,782.4 1009.4,781.7 1010.9,781.5 1012.4,781.3 1013.9,781.0 1015.4,780.6 1016.9,780.6 1018.4,780.2 1019.5,780.0 1021.4,780.2 1022.9,779.5 1024.4,779.6 1025.9,779.3 1027.4,779.3 1028.9,779.2 1030.4,778.8 1031.9,778.8 1033.4,778.6 1034.9,778.3 1036.4,778.5 1037.9,778.2 1039.4,778.0 1040.9,777.9 1042.4,777.8 1043.9,777.7 1045.4,777.5 1046.9,777.6 1048.4,777.0 1049.9,776.9 1051.4,777.1 1052.9,776.7 1054.4,776.9 1055.6,776.7 1057.4,776.8 1058.9,776.6 1060.4,776.7 1061.9,776.5 1063.4,776.5 1064.9,776.3 1066.4,776.2 1067.9,776.1 1069.4,775.8 1070.9,775.6 1072.4,775.5 1073.9,775.7 1075.4,775.2 1076.9,775.5 1078.4,775.3 1079.9,775.4 1081.4,775.2 1082.9,775.0 1084.4,775.0 1085.9,774.6 1087.4,774.9 1088.9,774.9 1090.4,774.5 1091.9,774.8 1093.4,774.6 1094.9,774.5 1096.4,774.2 1097.9,774.5 1099.4,774.4 1100.9,774.3 1102.1,774.1 1103.9,774.2 1105.4,774.3 1106.9,774.1 1108.4,774.1 1109.9,773.8 1111.4,773.8 1112.9,773.8 1114.4,773.7 1115.9,774.0 1117.4,773.6 1118.9,773.4 1120.4,773.5 1121.9,773.2 1123.4,773.3 1124.9,773.3 1126.4,773.1 1127.9,773.1 1129.4,772.9 1130.9,773.1 1132.4,772.9 1133.9,773.2 1135.4,773.1 1136.9,772.9 1138.4,772.7 1139.9,773.2 1140.8,773.1 1141.4,773.0 1142.9,773.3 1144.4,773.8 1145.9,774.3 1147.4,775.1 1148.6,774.9 1150.4,774.4 1151.9,774.0 1153.4,773.0 1154.9,772.8 1156.4,772.2 1157.9,772.0 1158.9,771.9 1160.9,772.0 1162.4,773.1 1163.9,774.1 1165.4,774.8 1166.7,774.8 1168.4,774.8 1169.9,774.4 1171.4,774.1 1172.9,773.6 1174.4,773.4 1175.9,773.4 1177.4,773.7 1178.9,774.1 1180.4,774.6 1181.9,775.2 1183.4,775.7 1184.9,776.2 1186.4,776.3 1187.3,776.3 1187.9,776.0 1189.4,776.2 1190.9,776.1 1192.4,775.5 1193.9,775.2 1195.4,774.8 1196.9,774.5 1198.4,774.2 1199.9,773.7 1201.4,773.6 1202.9,773.1 1204.4,773.0 1205.4,772.8 1207.4,772.6 1208.9,772.8 1210.4,772.5 1211.9,772.5 1213.4,772.3 1214.9,772.3 1216.4,772.2 1217.9,772.0 1219.4,771.7 1220.9,772.0 1222.4,771.9 1223.9,771.8 1225.4,771.8 1226.9,771.7 1228.4,771.6 1229.9,771.4 1231.4,771.5 1232.9,771.5 1234.4,771.3 1236.4,771.2 1237.4,771.6 1238.9,771.3 1240.4,771.1 1241.9,771.0 1243.4,770.7 1244.9,770.8 1246.4,770.9 1247.9,771.1 1249.4,770.5 1250.9,770.7 1252.4,771.0 1253.9,770.8 1255.4,770.7 1256.9,770.8 1258.4,770.5 1259.9,770.5 1261.4,770.6 1262.9,770.5 1264.4,770.2 1265.9,770.5 1267.4,770.0 1268.9,770.1 1270.4,770.6 1271.9,770.0 1273.4,770.2 1274.9,769.9 1276.4,769.9 1277.9,769.8 1279.4,769.9 1280.9,770.0 1282.4,770.1 1283.9,769.9 1285.4,770.0 1286.9,769.7 1288.4,769.9 1289.9,769.7 1291.4,769.8 1292.9,769.5 1294.4,769.5 1295.9,769.7 1297.4,769.6 1298.9,769.5 1300.4,769.4 1301.9,769.4 1303.4,769.5 1304.9,769.5 1306.4,769.3 1307.9,769.3 1309.4,769.4 1310.9,769.2 1312.4,769.5 1313.9,769.3 1315.4,769.3 1316.9,768.9 1318.4,769.1 1320.0,769.1 1321.4,769.2 1322.9,769.2 1324.4,769.5 1325.9,769.5 1327.4,769.6 1328.9,769.5 1330.4,770.1 1331.9,770.0 1333.4,770.3 1334.9,770.3 1336.4,770.6 1337.9,770.9 1339.4,771.0 1340.9,771.3 1342.4,771.4 1343.9,771.9 1345.8,771.5 1346.9,771.8 1348.4,772.2 1349.9,772.1 1351.4,772.2 1352.9,772.2 1354.4,772.7 1355.9,772.4 1357.4,772.9 1358.9,773.0 1360.4,773.3 1361.9,773.5 1363.4,773.4 1364.9,773.7 1366.4,774.0 1367.9,774.1 1369.1,774.8 1370.9,775.9 1372.4,777.2 1373.4,777.4 1375.4,775.5 1376.9,772.9 1378.1,771.8 1379.9,771.0 1381.4,771.0 1382.9,770.4 1384.4,769.9 1385.9,770.2 1387.1,770.1 1388.9,772.1 1389.7,773.2 1390.4,772.6 1391.9,771.3 1393.4,770.0 1394.9,769.5 1396.4,769.4 1397.9,769.7 1399.4,769.7 1400.9,769.5 1402.6,769.8 1403.9,771.7 1405.2,773.2 1406.9,772.1 1408.4,770.5 1410.4,769.1 1411.4,768.8 1412.9,769.0 1414.4,769.2 1415.9,769.5 1417.4,769.8 1418.1,770.3 1418.9,771.0 1420.7,774.1 1421.9,773.1 1423.4,769.7 1424.6,768.6 1426.4,768.9 1427.9,768.6 1429.4,768.7 1431.0,769.1 1432.8,774.5 1433.9,773.9 1435.4,772.3 1437.5,770.2 1438.4,770.2 1439.9,769.8 1441.4,770.0 1442.9,769.6 1443.9,769.4 1445.9,769.9 1447.4,770.6 1448.9,771.2 1450.4,771.9 1451.7,772.5 1453.4,771.3 1454.9,770.1 1456.4,769.0 1458.1,768.3 1459.4,768.7 1460.9,771.2 1462.4,773.8 1463.9,776.6 1465.9,778.1 1466.9,776.4 1468.4,771.4 1469.7,768.6 1471.4,767.9 1472.9,768.1 1474.9,767.6 1475.9,768.4 1477.4,770.6 1478.9,773.5 1480.4,776.0 1481.4,776.7 1483.4,772.4 1485.2,768.8 1486.4,768.5 1487.9,768.5 1489.4,768.4 1490.9,768.7 1492.4,768.8 1493.9,768.5 1495.6,769.2 1496.9,769.3 1498.4,769.8 1499.9,769.8 1501.4,770.6 1502.9,771.3 1504.4,771.8 1505.9,772.8 1507.4,774.2 1508.9,776.7 1510.4,779.0 1511.9,781.1 1513.6,781.8 1514.9,779.7 1516.4,775.8 1517.5,774.3 1519.4,775.8 1520.9,778.5 1522.4,781.4 1523.9,784.6 1525.4,786.4 1526.5,787.1 1528.4,782.8 1530.4,778.0 1531.4,778.3 1532.9,779.3 1534.4,781.4 1535.9,784.0 1536.9,785.6 1538.9,792.7 1540.7,797.8 1541.9,797.1 1543.4,795.9 1544.9,794.9 1545.9,795.0 1547.9,800.4 1549.8,806.4 1550.9,805.5 1552.4,802.4 1553.6,801.4 1555.4,806.5 1556.9,815.8 1558.4,824.9 1560.1,829.7 1561.4,826.4 1562.9,819.3 1564.0,817.0 1565.9,816.7 1567.4,816.7 1568.9,816.7 1570.4,816.7 1571.7,816.6 1573.4,808.6 1574.9,798.8 1575.6,797.4 1576.4,797.9 1577.9,801.1 1579.4,805.3 1580.8,806.6 1582.4,801.0 1583.3,798.6 1583.9,799.1 1585.4,801.1 1586.9,804.8 1588.4,807.8 1589.8,809.2 1591.4,807.9 1592.9,806.1 1594.4,803.6 1596.3,802.6 1597.4,804.4 1598.9,810.0 1600.4,815.1 1601.4,816.9 1603.4,810.9 1604.9,803.2 1606.6,798.6 1607.9,800.7 1609.4,804.9 1610.5,806.6 1612.4,801.3 1614.3,796.2 1615.4,796.5 1616.9,797.2 1618.4,798.4 1619.5,799.0 1621.4,794.4 1622.9,788.2 1624.7,781.8 1625.9,779.3 1627.4,776.7 1628.9,774.3 1630.4,772.0 1631.9,769.9 1633.4,768.2 1635.0,766.1 1636.4,765.1 1637.9,763.4 1639.4,762.0 1640.9,761.0 1642.7,760.4 1643.9,761.8 1645.4,764.9 1646.9,767.9 1647.9,769.0 1649.9,765.6 1651.8,762.6 1652.9,763.6 1654.4,766.1 1655.6,769.0 1657.4,778.0 1659.5,785.6 1660.4,784.3 1661.9,777.4 1663.4,769.6 1664.7,766.7 1666.4,773.3 1667.9,785.1 1669.8,793.5 1670.9,791.0 1672.4,783.1 1673.9,775.0 1675.0,772.9 1676.9,777.6 1678.4,784.7 1679.9,791.8 1681.4,794.7 1682.9,791.8 1684.4,785.7 1685.9,781.4 1686.6,780.7 1687.4,781.9 1688.9,789.6 1690.4,798.5 1691.8,802.7 1693.4,793.2 1694.9,780.3 1695.6,778.0 1696.4,778.6 1697.9,783.1 1699.4,788.6 1700.8,790.6 1702.4,787.1 1703.9,781.8 1704.7,780.4 1705.4,781.1 1707.3,785.8 1708.8,819.5 1710.4,849.9 1711.1,888.7 1712.4,940.5 1713.7,967.8 1714.4,964.1 1716.3,948.1 1717.4,957.5 1719.4,981.7 1720.4,974.0 1721.9,945.7 1722.8,927.5 1723.4,915.3 1725.3,875.9 1726.4,862.7 1727.9,850.0 1729.4,842.1 1730.9,835.6 1731.8,832.3 1732.4,830.3 1733.9,825.4 1735.7,819.5 1736.9,813.9 1738.4,806.3 1739.5,801.5 1741.4,795.0 1743.4,790.9 1744.4,789.5 1745.9,787.7 1747.4,786.1 1748.9,785.2 1749.9,784.7 1751.9,783.7 1753.4,783.4 1754.9,783.0 1756.3,783.5 1757.9,784.6 1759.4,786.7 1760.2,786.9 1760.9,786.7 1762.4,784.5 1764.1,782.5 1765.4,783.4 1766.9,786.1 1768.7,791.2 1769.9,798.3 1771.8,809.3 1772.9,809.3 1774.4,808.8 1775.9,808.0 1777.4,807.0 1778.3,806.3 1778.9,806.0 1780.4,804.3 1781.9,801.8 1783.4,800.3 1784.7,798.9 1786.4,797.2 1787.9,796.4 1789.4,795.7 1790.9,795.2 1792.5,795.0 1793.9,795.8 1795.5,797.4 1796.9,792.2 1798.9,783.3 1799.9,782.9 1801.4,782.9 1802.9,782.8 1804.4,782.8 1805.4,782.5 1807.4,784.8 1808.9,787.6 1810.5,789.6 1811.9,790.6 1813.4,790.9 1814.9,791.6 1816.4,791.7 1818.3,792.4 1819.4,792.6 1820.9,792.5 1822.4,792.9 1823.9,793.1 1826.0,793.3 1826.9,794.1 1828.4,795.5 1829.9,797.3 1831.4,799.3 1832.9,800.7 1833.8,800.8 1834.4,800.5 1835.9,799.3 1837.4,796.3 1838.9,793.5 1840.4,789.2 1841.9,784.5 1842.8,782.9 1843.4,783.0 1844.9,782.9 1846.4,782.6 1847.9,782.6 1849.4,782.4 1850.9,782.3 1852.4,782.2 1853.9,782.2 1855.4,782.2 1856.9,781.7 1858.4,782.3 1859.9,781.8 1861.4,782.0 1862.2,781.6 1862.9,781.8 1864.4,781.8 1865.9,782.2 1867.4,782.3 1868.9,782.3 1870.4,782.5 1871.9,782.8 1873.4,782.8 1874.9,783.1 1876.4,783.3 1877.9,783.7 1879.4,783.8 1880.9,783.8 1882.4,784.2 1883.9,784.4 1885.4,784.6 1886.9,784.4 1888.0,784.6 1889.9,784.7 1891.4,784.2 1892.9,783.9 1894.4,783.8 1895.9,783.3 1897.4,783.0 1898.9,782.5 1900.4,782.1 1901.9,781.9 1903.4,781.4 1904.9,781.0 1906.4,780.8 1907.9,780.6 1908.7,780.6 1909.4,780.7 1910.9,780.7 1912.4,780.2 1913.9,780.3 1915.4,780.0 1916.9,780.3 1918.4,780.3 1919.9,780.1 1921.4,780.0 1922.9,779.9 1924.4,779.7 1925.3,780.0 1925.9,780.1 1927.4,779.4 1928.9,779.5 1930.4,778.9 1931.9,778.2 1933.4,778.1 1934.9,777.8 1936.4,777.5 1938.3,777.3 1939.4,777.6 1940.9,777.3 1942.4,777.6 1943.9,777.8 1946.0,777.9 1946.9,777.9 1948.4,778.7 1949.9,779.8 1951.4,781.0 1952.9,781.7 1954.4,782.7 1956.3,783.4 1957.4,782.9 1958.9,783.2 1960.4,783.1 1961.9,783.0 1963.4,782.5 1964.9,782.7 1966.4,782.2 1967.9,782.5 1969.4,782.0 1970.9,782.0 1971.8,781.8 1972.4,781.9 1973.9,781.5 1975.4,781.6 1976.9,781.5 1978.4,781.2 1979.9,781.3 1981.4,780.9 1982.9,780.9 1984.4,780.7 1985.9,780.9 1987.3,780.5 1988.9,780.8 1990.4,781.5 1991.9,782.5 1993.4,783.4 1994.9,784.4 1996.4,784.9 1997.6,784.9 1999.4,784.8 2000.9,784.4 2002.4,783.3 2003.9,783.1 2005.4,782.0 2006.9,781.3 2008.4,780.7 2010.5,780.1 2011.4,779.7 2012.9,779.7 2014.4,779.7 2015.9,779.5 2017.4,779.4 2018.9,779.0 2020.4,778.9 2021.9,779.0 2023.4,779.0 2024.9,778.6 2026.4,778.3 2027.9,778.1 2029.4,778.4 2031.2,777.8 2032.4,777.9 2033.9,777.7 2035.4,777.8 2036.9,777.0 2038.4,776.7 2039.9,776.4 2041.4,776.1 2042.9,776.0 2044.4,775.6 2045.9,775.1 2047.4,774.7 2048.9,774.9 2050.4,774.6 2051.9,774.9 2053.4,774.5 2054.9,774.8 2056.4,774.7 2057.9,774.8 2059.4,775.4 2060.9,775.3 2062.4,775.4 2063.9,775.8 2065.4,775.8 2067.3,776.1 2068.4,776.4 2069.9,777.5 2071.4,778.1 2072.9,779.2 2074.4,780.3 2075.9,781.0 2077.4,781.6 2079.0,781.6 2080.4,782.0 2081.9,781.9 2083.4,781.8 2084.9,781.9 2086.4,781.4 2087.9,781.7 2089.4,781.3 2090.6,781.2 2092.4,781.0 2093.9,780.6 2095.4,779.4 2096.9,778.4 2098.4,777.3 2099.9,776.7 2101.4,775.5 2103.5,774.3 2104.4,774.1 2105.9,773.0 2107.4,771.8 2108.9,771.3 2110.4,770.4 2111.9,770.2 2113.4,769.1 2114.9,768.9 2116.4,768.4 2117.9,768.2 2119.4,768.0 2120.9,767.8 2122.4,767.5 2123.9,767.2 2125.4,767.1 2126.9,766.9 2128.4,766.9 2129.9,767.0 2131.9,766.9 2132.9,767.2 2134.4,768.1 2135.9,770.1 2137.4,771.5 2138.9,773.3 2139.6,774.4 2140.4,775.0 2141.9,777.0 2143.4,779.2 2144.9,781.1 2146.4,782.7 2147.9,783.9 2148.7,784.0 2149.4,784.0 2150.9,784.0 2152.4,784.2 2153.9,784.0 2155.4,784.3 2156.4,784.3 2158.4,785.5 2159.9,787.0 2161.4,788.7 2162.9,791.1 2164.2,793.3 2165.9,797.5 2168.0,806.4 2168.9,813.4 2170.6,832.4 2171.9,850.1 2173.2,901.6 2174.5,978.7 2176.3,1048.9 2178.4,976.7 2179.4,987.5 2180.5,1010.1 2182.5,1055.5 2183.9,1034.2 2185.6,979.1 2187.4,901.8 2188.7,850.1 2190.5,827.2 2191.4,817.2 2192.6,806.4 2194.4,795.7 2196.4,788.5 2197.4,786.2 2198.9,783.5 2200.4,781.5 2201.9,779.9 2202.9,779.5 2204.9,777.9 2206.4,777.2 2208.0,776.6 2209.4,777.5 2210.9,780.0 2212.4,781.5 2213.2,781.9 2213.9,782.0 2215.4,780.4 2216.9,777.9 2218.4,775.6 2219.9,773.1 2221.4,770.8 2222.3,770.6 2224.0,776.8 2226.1,762.0"/><use href="#c2" x="-0.9" y="-0.9"/><use href="#c2" x="-0.9" y="0"/><use href="#c2" x="-0.9" y="0.9"/><use href="#c2" x="0" y="-0.9"/><use href="#c2" x="0" y="0.9"/><use href="#c2" x="0.9" y="-0.9"/><use href="#c2" x="0.9" y="0"/><use href="#c2" x="0.9" y="0.9"/></g>
<g fill="none" stroke="#ff0000" stroke-width="1.1" stroke-linejoin="round" stroke-linecap="butt" shape-rendering="crispEdges"><polyline id="c3" points="139.4,666.3 140.9,666.4 142.4,666.7 143.9,666.8 145.4,666.9 146.9,666.9 148.4,667.0 149.9,667.2 151.4,667.5 152.9,668.0 154.4,668.3 155.9,668.4 157.4,668.6 158.9,668.9 160.4,669.4 161.9,669.7 163.4,669.9 164.9,670.8 166.5,671.0 167.9,671.7 169.4,672.7 170.9,673.5 171.6,673.9 172.4,673.4 173.9,672.9 175.5,672.5 176.9,673.3 178.4,674.6 179.9,675.8 180.7,675.9 181.4,676.0 182.9,675.5 184.4,674.5 185.9,674.0 187.1,673.7 188.9,673.7 190.4,674.1 192.3,674.6 193.4,673.1 194.9,670.5 196.4,676.6 198.2,684.8 199.4,683.1 200.9,678.0 202.6,674.2 203.9,674.9 205.4,675.7 206.9,677.0 208.4,677.8 209.1,677.9 209.9,677.6 211.4,675.8 212.9,673.6 214.2,672.8 215.9,675.5 217.4,679.4 219.4,682.3 220.4,681.7 221.9,680.2 223.4,678.4 224.6,677.5 226.4,682.2 227.9,688.6 228.9,689.9 230.9,681.7 232.8,674.1 233.9,675.2 235.4,678.8 236.9,684.0 238.8,686.9 239.9,685.0 241.4,678.8 243.4,673.5 244.4,674.2 245.9,677.9 247.4,682.1 249.1,684.1 250.4,682.4 251.9,677.2 253.4,672.2 254.8,670.0 256.4,671.1 257.9,675.0 259.4,679.0 260.9,681.7 262.0,682.5 263.9,679.6 265.4,674.7 266.9,670.4 268.5,668.5 269.9,668.6 271.4,669.4 272.9,670.0 274.9,670.6 275.9,670.0 277.4,668.7 278.9,667.6 279.6,667.3 280.4,667.5 281.9,669.1 283.4,671.4 285.2,673.0 286.4,672.9 287.9,672.0 289.1,672.1 290.9,678.7 292.4,687.4 293.5,690.2 295.4,687.7 296.9,683.8 298.1,682.1 299.9,684.9 301.4,688.9 302.8,690.6 304.4,687.5 305.9,682.0 307.2,678.5 308.9,676.0 310.4,674.0 311.9,672.9 313.6,671.7 314.9,674.1 316.4,679.8 317.9,684.4 318.8,685.4 320.9,680.7 322.4,674.6 324.0,671.2 325.4,671.3 326.9,671.6 327.8,671.9 329.9,679.3 331.7,684.7 332.9,681.6 334.4,673.6 335.6,670.1 337.4,675.2 338.9,682.1 340.0,684.1 341.9,679.5 343.4,674.3 344.6,671.0 346.4,668.6 347.9,667.5 348.5,667.5 349.4,668.0 350.9,669.3 352.4,672.2 353.6,674.7 355.4,684.4 357.0,690.5 358.4,683.8 359.9,672.7 360.6,670.4 361.4,670.0 362.9,669.1 364.4,669.0 365.3,668.8 367.4,676.3 369.1,681.3 370.4,679.7 371.9,675.5 373.0,674.1 374.9,675.6 376.9,676.5 377.9,676.2 379.4,674.9 380.9,672.1 382.4,670.5 383.3,670.3 385.4,671.0 386.9,671.5 388.4,672.3 389.8,672.4 391.4,670.5 392.9,667.8 393.7,667.1 394.4,668.2 395.9,674.1 396.8,675.8 398.9,665.3 399.6,663.0 400.4,662.5 401.9,662.1 403.4,661.4 405.3,661.6 406.4,665.9 408.4,675.8 409.4,672.9 410.9,663.5 411.7,661.2 412.4,660.7 413.9,660.0 415.4,659.3 416.9,659.0 418.4,659.2 419.5,659.1 421.4,664.0 422.6,666.4 424.4,661.7 425.9,657.9 427.4,658.0 428.9,658.3 430.4,658.7 431.1,658.6 431.9,659.4 433.4,662.2 434.5,663.7 436.4,660.8 437.9,657.4 438.9,656.4 440.9,656.7 442.4,656.5 443.9,656.9 445.3,657.1 446.9,659.7 447.9,661.1 449.9,658.3 451.8,656.0 452.9,655.5 454.4,655.5 455.9,655.3 457.4,655.1 458.9,655.5 460.4,655.6 461.9,655.1 463.4,655.2 464.9,655.3 466.4,655.0 467.9,654.4 469.4,654.6 470.9,654.1 472.4,653.9 473.9,653.3 475.4,653.3 476.9,653.1 478.4,652.7 480.2,652.8 481.4,654.2 482.7,655.9 484.4,653.0 485.3,651.9 487.4,651.6 488.9,651.7 490.4,651.4 491.9,651.2 493.4,651.5 494.9,651.3 496.4,651.3 497.9,651.1 499.4,651.2 500.9,651.0 502.1,650.9 503.9,650.9 505.4,650.9 506.9,650.8 508.4,650.9 509.9,650.4 511.4,650.7 512.9,650.4 514.4,650.5 515.9,650.5 517.4,650.4 518.9,650.3 520.4,650.4 521.9,650.2 523.4,650.3 524.9,650.3 526.4,650.0 527.9,649.8 529.4,649.9 530.9,650.0 532.4,649.8 533.1,649.5 533.9,649.4 535.4,649.4 536.9,649.3 538.4,649.4 539.9,649.1 541.4,649.1 542.9,648.8 544.4,648.9 545.9,648.5 547.4,648.4 548.9,648.0 550.4,648.0 551.9,647.9 553.4,647.7 554.9,647.6 556.4,647.1 557.9,647.1 558.9,647.2 560.9,646.7 562.4,646.5 563.9,646.3 565.4,646.1 566.9,646.1 568.4,646.1 569.9,645.8 571.4,645.6 572.9,645.3 574.4,645.1 575.9,645.5 577.4,644.9 578.9,644.8 580.4,644.6 581.9,644.6 583.4,644.3 584.7,644.3 586.4,644.4 587.9,643.9 589.4,644.0 590.9,643.8 592.4,643.8 593.9,643.4 595.4,643.5 596.9,643.2 598.4,643.0 599.9,643.0 601.4,642.9 602.9,642.9 604.4,643.0 605.4,643.2 607.4,642.8 608.9,643.1 610.4,643.1 611.9,643.0 613.4,643.0 614.9,643.2 616.4,643.3 617.9,643.2 619.4,643.3 620.9,643.4 622.4,643.2 623.9,643.5 625.4,643.6 626.9,643.9 628.4,643.5 629.9,643.6 631.2,643.8 632.9,643.8 634.4,643.9 635.9,644.1 637.4,644.1 638.9,644.3 640.4,644.4 641.9,644.3 643.4,644.7 644.9,644.4 646.4,645.1 647.9,645.2 649.4,645.1 650.9,645.5 652.4,645.4 653.9,645.7 655.4,645.9 656.9,646.0 658.4,646.0 659.9,646.3 661.4,646.3 662.2,646.3 662.9,646.3 664.4,646.3 665.9,647.0 667.4,647.1 668.9,646.9 670.4,647.4 671.9,647.5 673.4,647.4 674.9,647.8 676.4,648.0 677.9,648.5 679.4,648.6 680.9,648.7 682.4,648.7 683.9,648.9 685.4,648.7 686.9,649.1 688.0,649.1 689.9,648.9 691.4,649.1 692.9,649.3 694.4,649.4 695.9,649.4 697.4,649.1 698.9,649.2 700.4,649.2 701.9,649.4 703.4,649.1 704.9,649.1 706.4,649.1 707.9,649.3 709.4,649.4 710.9,649.3 712.4,649.3 713.9,649.4 715.4,649.6 716.9,649.2 718.4,649.5 720.0,649.5 721.4,649.6 722.9,649.8 724.4,649.8 725.9,649.7 727.4,650.0 728.9,650.0 730.4,649.9 731.9,650.0 733.4,649.8 734.9,650.1 736.4,650.1 738.1,650.1 739.4,650.4 740.9,650.3 742.4,650.6 743.9,650.9 745.4,651.3 746.9,651.5 748.4,651.9 749.9,652.3 751.4,652.5 752.9,652.5 753.6,652.5 754.4,652.8 755.9,653.1 757.4,653.1 758.9,653.4 760.4,653.6 761.9,654.1 763.4,654.7 764.9,655.2 766.5,655.2 767.9,656.0 769.4,656.9 770.9,658.2 772.9,660.6 773.9,661.9 775.4,664.1 776.9,667.2 778.1,669.5 779.9,674.7 781.4,679.3 783.3,685.2 784.4,687.9 785.9,691.7 787.1,694.2 788.9,696.3 790.4,698.1 791.8,700.6 793.4,705.7 794.9,713.5 796.4,727.8 797.5,741.7 799.4,771.1 800.0,780.6 800.9,794.0 802.6,819.6 803.9,838.2 804.7,850.1 805.4,861.1 806.9,885.6 807.8,901.9 808.4,912.8 810.4,953.3 811.4,976.3 812.4,994.6 813.7,1004.9 814.4,1000.1 815.5,984.2 817.4,952.2 818.1,940.6 818.9,928.4 820.4,907.6 821.2,896.6 821.9,886.5 823.4,864.8 824.6,850.0 826.4,832.6 828.4,816.8 829.4,809.3 830.9,798.7 832.4,788.7 833.6,780.7 835.4,767.2 836.9,757.6 837.5,754.7 838.4,752.0 839.9,747.5 840.6,746.5 841.4,745.8 842.6,745.3 844.4,748.4 845.2,750.9 845.9,755.5 847.8,780.9 848.9,800.2 849.9,819.4 851.7,850.0 853.2,901.4 854.8,953.3 856.3,982.0 857.9,960.9 858.5,949.8 859.4,934.1 860.9,902.7 861.5,888.9 862.8,849.8 863.6,806.4 865.1,767.7 867.2,736.9 868.4,727.3 869.9,718.3 871.0,713.3 872.9,706.3 874.9,700.3 875.9,698.4 877.4,695.6 878.9,693.5 880.1,691.8 881.9,688.7 883.4,687.2 884.9,685.5 886.4,683.7 887.8,682.4 889.4,681.0 890.9,680.0 892.4,679.1 893.9,678.2 895.4,677.4 896.9,676.5 898.1,676.0 899.9,675.7 901.4,674.8 902.9,674.7 904.4,674.7 905.9,674.7 907.4,674.0 908.5,674.0 910.4,673.6 911.9,673.5 913.4,673.4 914.9,673.1 916.4,673.1 917.9,672.9 919.4,672.9 920.9,672.6 922.4,672.3 923.9,672.4 925.4,672.4 926.5,672.1 928.4,672.2 929.9,672.0 931.4,671.7 932.9,671.7 934.4,671.5 935.9,671.3 937.4,671.4 938.9,671.3 940.4,671.0 941.9,671.0 943.4,670.9 944.9,671.0 946.4,671.1 947.2,670.8 947.9,670.9 949.4,670.9 950.9,671.0 952.4,671.1 953.9,670.8 955.4,670.6 956.9,670.9 958.4,670.7 959.9,671.2 961.4,670.8 962.9,670.9 964.4,670.9 965.9,670.9 967.4,670.8 968.9,670.9 970.4,671.0 971.9,670.9 973.4,671.2 974.9,671.0 976.4,670.5 977.9,671.0 979.4,670.6 980.9,671.0 982.4,671.2 983.9,671.1 985.4,670.7 986.9,670.8 988.4,670.9 989.9,671.1 991.1,670.8 992.9,671.0 994.4,670.8 995.9,670.6 997.4,670.5 998.9,670.6 1000.4,669.9 1001.9,669.7 1003.4,669.7 1004.9,669.5 1006.4,668.8 1007.9,668.6 1009.4,668.3 1010.9,668.3 1012.4,667.8 1013.9,667.9 1015.4,667.6 1016.9,667.3 1018.4,667.1 1019.5,667.1 1021.4,667.0 1022.9,666.7 1024.4,666.7 1025.9,666.6 1027.4,666.4 1028.9,666.5 1030.4,666.2 1031.9,666.0 1033.4,666.1 1034.9,666.2 1036.4,666.1 1037.9,665.5 1039.4,665.7 1040.9,665.5 1042.4,665.5 1043.9,665.4 1045.4,665.4 1046.9,665.3 1048.4,665.2 1049.9,665.2 1051.4,665.0 1052.9,664.9 1054.4,664.9 1055.6,664.8 1057.4,665.0 1058.9,664.7 1060.4,664.8 1061.9,664.8 1063.4,664.9 1064.9,664.7 1066.4,664.8 1067.9,664.6 1069.4,664.6 1070.9,664.7 1072.4,664.3 1073.9,664.5 1075.4,664.7 1076.9,664.4 1078.4,664.3 1079.9,664.6 1081.4,664.3 1082.9,664.4 1084.4,663.9 1085.9,664.2 1087.4,664.1 1088.9,664.2 1090.4,664.3 1091.9,664.1 1093.4,664.0 1094.9,663.6 1096.4,664.1 1097.9,664.2 1099.4,664.0 1100.9,663.8 1102.1,664.0 1103.9,664.0 1105.4,663.9 1106.9,664.1 1108.4,663.7 1109.9,663.6 1111.4,663.8 1112.9,663.9 1114.4,663.6 1115.9,663.7 1117.4,663.6 1118.9,663.4 1120.4,663.5 1121.9,663.3 1123.4,663.6 1124.9,663.6 1126.4,663.7 1127.9,663.4 1129.4,663.4 1130.9,663.2 1132.4,663.2 1133.9,663.6 1135.4,663.9 1136.9,663.3 1138.4,663.4 1139.9,663.5 1141.4,663.3 1143.4,663.5 1144.4,663.6 1145.9,664.5 1147.4,665.9 1148.9,666.7 1149.9,666.8 1151.9,667.3 1153.4,667.3 1154.9,667.3 1156.4,667.4 1157.9,667.7 1159.4,667.6 1160.9,667.8 1162.4,668.0 1163.9,667.9 1165.4,668.1 1166.9,667.8 1168.4,668.2 1169.9,668.2 1171.4,668.4 1172.9,668.2 1174.4,668.3 1175.9,668.2 1177.4,668.1 1178.9,668.1 1180.4,668.2 1181.9,668.4 1183.4,668.2 1184.7,668.3 1186.4,668.3 1187.9,668.1 1189.4,667.7 1190.9,667.3 1192.4,666.4 1193.9,666.0 1195.4,665.6 1196.9,665.3 1198.4,664.8 1200.2,664.4 1201.4,664.4 1202.9,664.1 1204.4,664.4 1205.9,663.9 1207.4,664.1 1208.9,664.2 1210.4,664.1 1211.9,663.6 1213.4,663.8 1214.9,663.7 1216.4,663.7 1217.9,663.9 1219.4,663.7 1220.9,663.4 1222.4,663.4 1223.9,663.6 1225.4,663.5 1226.9,663.3 1228.4,663.1 1229.9,663.3 1231.4,663.3 1232.9,663.4 1234.4,663.2 1236.4,663.3 1237.4,663.4 1238.9,662.9 1240.4,663.0 1241.9,663.3 1243.4,662.9 1244.9,663.0 1246.4,663.1 1247.9,662.8 1249.4,662.8 1250.9,662.6 1252.4,662.9 1253.9,662.7 1255.4,662.6 1256.9,662.3 1258.4,662.8 1259.9,662.7 1261.4,662.4 1262.9,662.7 1264.4,662.1 1265.9,662.4 1267.4,662.1 1268.9,662.7 1270.4,661.9 1271.9,662.1 1273.4,662.1 1274.9,662.3 1276.4,662.3 1277.9,662.2 1279.4,662.1 1280.9,662.4 1282.4,661.9 1283.9,662.0 1285.4,662.2 1286.9,661.8 1288.4,661.8 1289.9,662.0 1291.4,661.9 1292.9,661.6 1294.4,661.8 1295.9,662.1 1297.4,661.7 1298.9,661.9 1300.4,661.7 1301.9,661.6 1303.4,661.9 1304.9,661.8 1306.4,661.8 1307.9,661.6 1309.4,661.6 1310.9,661.7 1312.4,661.7 1313.9,661.5 1315.4,661.5 1316.9,661.8 1318.4,661.4 1320.0,661.5 1321.4,661.6 1322.9,661.6 1324.4,661.6 1325.9,661.8 1327.4,662.2 1328.9,662.2 1330.4,662.4 1331.9,663.0 1333.4,662.8 1334.9,663.4 1336.4,663.5 1337.9,663.5 1339.4,663.9 1340.9,664.1 1342.4,664.6 1343.9,664.7 1345.8,664.7 1346.9,664.6 1348.4,664.7 1349.9,665.0 1351.4,664.9 1352.9,665.1 1354.4,665.1 1355.9,665.3 1357.4,665.4 1358.9,665.4 1360.4,665.5 1361.9,665.5 1363.4,665.8 1364.9,665.8 1366.4,666.1 1367.9,666.2 1369.1,666.1 1370.9,667.2 1372.4,668.8 1373.4,669.3 1375.4,667.2 1376.9,665.2 1378.1,663.9 1379.9,663.2 1381.4,662.9 1382.9,662.3 1384.4,662.0 1385.9,662.0 1387.1,661.8 1388.9,663.9 1389.7,664.4 1390.4,663.9 1391.9,662.8 1393.4,661.5 1394.9,660.3 1396.4,660.6 1397.9,660.5 1399.4,660.5 1400.9,661.1 1402.6,661.2 1403.9,662.8 1405.2,664.5 1406.9,663.8 1408.4,662.0 1410.4,660.5 1411.4,660.6 1412.9,660.6 1414.4,660.8 1415.9,661.3 1417.4,661.5 1418.1,661.9 1418.9,662.9 1420.7,666.1 1421.9,664.9 1423.4,662.1 1424.6,661.0 1426.4,661.0 1427.9,660.8 1429.4,661.2 1431.0,661.2 1432.8,666.8 1433.9,666.4 1435.4,665.0 1437.5,663.2 1438.4,663.1 1439.9,663.0 1441.4,662.8 1442.9,662.5 1443.9,662.6 1445.9,663.0 1447.4,663.9 1448.9,664.8 1450.4,665.3 1451.7,665.4 1453.4,664.9 1454.9,663.5 1456.4,662.0 1458.1,660.9 1459.4,660.4 1460.9,660.0 1462.4,660.1 1463.9,659.9 1464.6,659.8 1465.9,670.9 1466.9,668.2 1468.5,661.5 1469.9,660.6 1471.4,660.0 1472.9,659.5 1474.9,659.4 1475.9,660.0 1477.4,662.8 1478.9,666.2 1480.4,668.9 1481.4,669.7 1483.4,665.6 1485.2,661.8 1486.4,662.3 1487.9,663.7 1489.4,665.5 1490.4,665.7 1492.4,664.7 1493.9,662.7 1495.4,661.4 1496.9,660.5 1498.4,660.6 1499.9,661.0 1501.4,661.3 1502.9,661.8 1504.4,662.6 1505.9,663.2 1507.4,664.7 1508.9,667.1 1510.4,669.1 1511.9,671.2 1513.6,672.0 1514.9,669.7 1516.4,665.0 1517.5,663.2 1519.4,663.6 1520.9,664.4 1522.7,665.6 1523.9,668.1 1525.4,673.3 1526.5,674.8 1528.4,670.0 1530.4,664.5 1531.4,664.7 1532.9,664.8 1534.4,665.5 1535.9,666.3 1536.9,667.1 1538.9,673.1 1540.7,677.5 1541.9,675.8 1543.4,673.4 1544.6,672.2 1546.4,674.8 1547.9,678.5 1549.8,681.1 1550.9,678.7 1552.4,672.3 1553.6,669.5 1555.4,670.4 1557.5,672.3 1558.4,678.8 1560.1,694.2 1561.4,690.0 1563.2,682.5 1564.4,682.6 1565.9,683.1 1567.4,683.6 1568.9,684.3 1570.4,684.8 1571.7,685.2 1573.4,677.8 1574.9,668.7 1575.6,666.9 1576.4,668.3 1577.9,673.4 1579.5,677.4 1580.9,675.2 1582.4,670.4 1583.9,667.8 1585.4,669.5 1586.9,672.8 1588.4,676.0 1589.8,677.4 1591.4,673.8 1592.4,672.2 1594.4,672.3 1595.9,672.7 1597.5,673.4 1598.9,676.2 1600.4,681.5 1601.4,682.6 1603.4,677.1 1604.9,671.0 1606.6,666.9 1607.9,668.4 1609.4,672.9 1610.9,676.7 1611.7,677.5 1612.4,676.6 1613.9,670.3 1615.6,665.7 1616.9,666.1 1618.4,666.8 1619.5,667.1 1621.4,664.0 1622.9,659.7 1624.7,655.2 1625.9,653.8 1627.4,652.9 1628.9,651.5 1630.4,650.5 1631.9,649.5 1633.4,648.5 1635.0,647.6 1636.4,646.9 1637.9,645.9 1639.4,645.2 1640.9,644.6 1642.7,644.4 1643.9,645.7 1645.4,649.5 1646.9,652.6 1647.9,653.6 1649.9,651.4 1651.8,649.1 1652.9,648.8 1654.4,649.7 1655.6,650.3 1657.4,660.3 1659.5,672.1 1660.4,670.6 1661.9,663.8 1663.4,655.9 1664.7,652.8 1666.4,660.3 1667.9,672.5 1669.8,681.1 1670.9,677.6 1672.4,667.2 1674.2,659.4 1675.4,659.5 1676.9,660.3 1677.6,660.7 1678.4,662.7 1679.9,671.8 1681.4,680.8 1682.2,682.8 1682.9,681.5 1684.4,675.9 1685.9,670.5 1686.6,669.8 1687.4,670.9 1688.9,678.0 1690.4,686.5 1691.8,690.3 1693.4,678.1 1694.9,667.2 1696.4,667.5 1697.9,667.8 1699.5,668.4 1700.9,671.7 1702.4,677.0 1703.4,678.8 1706.0,667.2 1707.3,672.3 1708.8,716.1 1710.4,767.8 1711.9,819.4 1713.3,841.5 1714.4,832.8 1715.6,823.0 1717.4,844.1 1718.7,857.2 1721.0,835.0 1721.9,809.1 1722.8,780.8 1723.4,769.2 1725.3,742.1 1726.4,729.4 1727.9,716.3 1729.4,705.5 1730.5,700.5 1732.4,697.2 1733.9,695.5 1735.7,692.7 1736.9,688.8 1738.4,682.2 1739.5,677.2 1741.4,670.2 1743.4,664.5 1744.4,663.3 1745.9,661.4 1747.4,660.1 1748.6,659.5 1750.4,658.3 1752.0,658.0 1753.4,657.4 1754.9,657.2 1756.3,657.3 1757.9,658.6 1759.4,660.8 1760.2,661.1 1760.9,660.8 1762.4,658.9 1764.1,657.2 1765.4,657.9 1766.9,660.3 1768.4,664.5 1769.2,667.1 1769.9,671.9 1771.3,682.4 1772.9,682.0 1774.4,681.8 1775.9,681.5 1777.4,680.7 1778.3,680.6 1778.9,680.1 1780.4,678.6 1781.9,676.4 1783.4,674.4 1784.7,673.5 1786.4,672.7 1787.9,671.9 1789.4,671.5 1790.9,670.9 1792.5,670.8 1793.9,672.3 1795.5,673.6 1796.9,668.2 1798.9,659.4 1799.9,659.1 1801.4,658.9 1802.9,659.0 1804.4,658.4 1805.4,658.9 1807.4,661.1 1808.9,663.6 1810.5,665.4 1811.9,666.9 1813.4,668.1 1814.9,668.7 1816.4,669.1 1818.3,669.5 1819.4,669.6 1820.9,669.6 1822.4,669.8 1823.9,669.7 1826.0,669.3 1826.9,669.7 1828.4,670.5 1829.9,671.8 1831.4,672.5 1832.9,673.1 1833.8,673.4 1834.4,673.5 1835.9,672.4 1837.4,671.5 1838.9,669.6 1840.4,664.7 1841.5,662.0 1843.4,661.7 1844.9,661.7 1846.4,661.6 1847.9,661.2 1849.4,661.1 1850.9,661.2 1852.4,661.0 1853.9,660.8 1855.4,660.8 1856.9,660.6 1858.4,660.6 1859.9,660.2 1861.4,660.7 1862.9,660.9 1864.4,660.7 1865.9,660.7 1867.4,660.6 1868.5,660.5 1870.4,660.7 1871.9,660.7 1873.4,660.7 1874.9,660.9 1876.4,660.9 1877.9,661.2 1879.4,661.4 1880.9,661.6 1882.4,661.6 1883.9,661.9 1885.4,661.9 1886.9,661.7 1888.4,661.9 1889.9,662.2 1891.4,662.2 1892.9,662.5 1894.4,662.2 1895.9,662.3 1897.4,662.3 1898.9,662.3 1900.4,662.3 1901.9,662.3 1903.4,662.3 1904.9,662.1 1906.4,662.2 1907.9,662.2 1909.4,662.0 1910.9,661.9 1912.4,661.8 1913.9,661.7 1915.4,661.6 1916.9,661.6 1918.4,661.9 1920.2,661.6 1921.4,661.3 1922.9,661.1 1924.4,660.7 1925.9,660.4 1927.4,660.0 1928.9,659.1 1930.4,659.1 1931.9,658.2 1933.4,657.9 1934.9,657.4 1936.4,657.1 1938.3,656.9 1939.4,657.5 1940.9,657.5 1942.4,657.3 1943.9,657.5 1946.0,658.2 1946.9,658.1 1948.4,658.9 1949.9,660.0 1951.4,660.7 1952.9,661.6 1954.4,662.1 1956.3,662.2 1957.4,662.3 1958.9,662.1 1960.4,662.4 1961.9,662.1 1963.4,662.3 1964.9,662.1 1966.4,662.0 1967.9,662.1 1969.4,661.9 1970.9,661.8 1971.8,662.0 1972.4,661.9 1973.9,661.6 1975.4,661.9 1976.9,661.5 1978.4,661.7 1979.9,661.7 1981.4,661.5 1982.9,661.3 1984.4,661.4 1985.9,661.4 1987.3,661.2 1988.9,661.8 1990.4,662.2 1991.9,663.1 1993.4,664.3 1994.9,664.9 1996.4,665.3 1997.6,665.7 1999.4,665.6 2000.9,665.4 2002.4,665.3 2003.9,664.6 2005.4,664.5 2006.9,664.0 2008.4,663.8 2010.5,663.2 2011.4,663.1 2012.9,662.9 2014.4,662.9 2015.9,662.9 2017.4,662.8 2018.9,662.2 2020.4,662.6 2021.9,662.4 2023.4,662.2 2024.9,662.0 2026.4,662.1 2027.9,661.7 2029.4,662.1 2030.9,661.7 2032.4,661.7 2033.9,661.6 2035.4,661.6 2036.4,661.2 2038.4,661.3 2039.9,661.1 2041.4,661.0 2042.9,660.7 2044.4,660.4 2045.9,659.9 2047.4,660.0 2048.9,660.2 2050.4,659.8 2051.9,659.7 2053.4,659.8 2054.9,660.0 2056.4,659.8 2057.9,660.5 2059.4,660.5 2060.9,660.8 2062.4,660.9 2063.9,661.5 2065.4,661.5 2067.3,662.0 2068.4,662.2 2069.9,662.6 2071.4,663.5 2072.9,664.4 2074.4,665.0 2075.9,665.6 2077.4,666.1 2079.0,666.2 2080.4,666.1 2081.9,666.3 2083.4,666.1 2084.9,666.2 2086.4,666.1 2087.9,666.1 2089.4,666.0 2090.6,665.7 2092.4,665.4 2093.9,664.6 2095.4,664.0 2096.9,663.0 2098.4,662.3 2099.9,661.1 2101.4,660.3 2103.5,659.2 2104.4,659.1 2105.9,658.5 2107.4,657.7 2108.9,657.5 2110.4,656.8 2111.9,656.1 2113.4,655.8 2114.9,655.3 2116.4,655.1 2117.9,655.3 2119.4,654.8 2120.9,655.1 2122.4,654.7 2123.9,654.8 2125.4,655.0 2126.9,654.6 2128.4,654.6 2129.9,654.8 2131.9,654.6 2132.9,654.9 2134.4,655.8 2135.9,657.5 2137.4,659.4 2138.9,661.2 2139.6,661.8 2140.4,662.7 2141.9,664.6 2143.4,666.4 2144.9,668.1 2146.4,669.3 2147.9,670.4 2148.7,670.5 2149.4,670.3 2150.9,670.1 2152.4,670.4 2153.9,670.6 2155.4,670.5 2156.4,670.2 2158.4,671.2 2159.9,671.9 2161.4,673.7 2162.9,675.4 2164.2,677.5 2165.9,681.4 2168.0,690.3 2168.9,698.0 2170.6,723.7 2172.4,780.5 2174.0,832.3 2174.8,849.9 2176.5,922.4 2177.9,894.5 2178.8,880.0 2180.7,904.9 2182.7,939.2 2183.9,916.7 2185.6,850.1 2186.9,793.5 2188.7,741.9 2189.9,720.9 2191.3,703.1 2192.9,690.6 2193.9,684.8 2195.9,676.9 2197.7,672.1 2198.9,670.0 2200.4,667.7 2201.9,665.7 2203.4,664.7 2204.2,664.4 2204.9,664.5 2206.4,664.5 2207.9,665.1 2209.4,665.5 2210.9,665.5 2211.9,665.6 2213.9,664.0 2215.4,661.9 2217.1,659.1 2218.4,657.1 2219.9,654.1 2221.4,652.0 2222.3,651.4 2224.0,657.7 2226.1,646.4"/><use href="#c3" x="-0.9" y="-0.9"/><use href="#c3" x="-0.9" y="0"/><use href="#c3" x="-0.9" y="0.9"/><use href="#c3" x="0" y="-0.9"/><use href="#c3" x="0" y="0.9"/><use href="#c3" x="0.9" y="-0.9"/><use href="#c3" x="0.9" y="0"/><use href="#c3" x="0.9" y="0.9"/></g>
<g fill="none" stroke="#808000" stroke-width="1.1" stroke-linejoin="round" stroke-linecap="butt" shape-rendering="crispEdges"><polyline id="c4" points="139.4,357.9 140.9,358.4 142.4,358.1 143.9,358.4 145.4,358.3 146.9,358.2 148.4,358.0 149.9,358.4 151.4,358.7 152.9,358.7 154.4,358.9 155.9,359.1 157.4,358.9 158.9,359.4 160.4,359.4 161.9,359.7 163.4,360.2 164.9,359.8 166.5,360.3 167.9,360.7 169.4,361.3 170.9,361.4 171.6,361.3 172.4,361.5 173.9,361.1 175.5,360.3 176.9,360.9 178.4,361.2 179.9,361.5 180.7,361.9 181.4,361.9 182.9,361.3 184.4,361.7 185.9,360.7 187.1,360.9 188.9,361.1 190.4,361.5 192.3,361.0 193.4,360.6 194.9,358.8 196.4,362.0 198.2,365.8 199.4,364.9 200.9,363.1 202.6,361.9 203.9,362.2 205.4,362.6 206.9,363.1 208.4,363.7 209.1,364.0 209.9,363.9 211.4,363.4 212.9,362.7 214.2,362.3 215.9,363.8 217.4,365.7 219.4,367.6 220.4,366.9 221.9,366.5 223.4,365.7 224.6,365.6 226.4,367.8 227.9,370.0 228.9,370.8 230.9,367.3 232.8,363.6 233.9,363.8 235.4,366.4 236.9,368.4 238.8,369.9 239.9,368.9 241.4,366.4 243.4,363.8 244.4,364.2 245.9,366.2 247.4,367.5 249.1,368.9 250.4,367.6 251.9,365.9 253.4,363.2 254.8,362.0 256.4,362.5 257.9,364.3 259.4,366.3 260.9,367.2 262.0,367.2 263.9,365.7 265.4,364.5 266.9,361.8 268.5,360.6 269.9,361.1 271.4,361.6 272.9,362.3 274.9,362.3 275.9,362.1 277.4,361.9 278.9,361.2 279.6,361.3 280.4,361.5 281.9,362.6 283.4,363.5 285.2,364.2 286.4,364.4 287.9,364.3 289.1,363.8 290.9,367.1 292.4,371.3 293.5,372.5 295.4,371.9 296.9,370.1 298.1,369.6 299.9,370.7 301.4,372.6 302.8,373.5 304.4,372.4 305.9,369.9 307.2,368.9 308.9,367.6 310.4,367.3 311.9,366.7 313.6,366.4 314.9,367.8 316.4,370.3 317.9,372.5 318.8,372.9 320.9,371.4 322.4,368.8 324.0,367.9 325.4,368.0 326.9,369.3 327.8,370.0 329.9,378.2 331.7,384.0 332.9,383.6 334.4,382.3 335.6,382.0 337.4,385.5 338.9,391.0 340.0,392.8 341.9,392.3 343.4,392.2 344.6,392.5 346.4,394.1 347.9,397.8 349.4,402.7 350.9,407.4 352.4,411.9 353.9,416.3 355.4,420.4 356.9,424.9 358.8,429.9 359.9,432.5 361.4,436.4 362.9,439.2 364.4,442.9 365.3,444.8 367.4,449.9 368.9,453.5 370.4,457.4 371.7,460.6 373.4,464.7 374.9,467.6 376.4,471.5 377.9,474.8 379.4,478.0 380.8,481.1 382.4,484.4 383.9,487.4 385.4,490.3 386.9,493.6 388.4,496.0 389.9,498.9 391.4,501.3 392.9,504.5 393.7,505.6 394.4,506.9 395.9,509.5 397.4,512.4 398.9,514.9 400.4,517.5 401.9,520.0 403.4,522.7 404.9,525.1 406.6,527.7 407.9,529.7 409.4,531.7 410.9,533.1 412.4,534.9 413.9,536.9 415.4,538.3 416.9,540.4 418.4,542.1 419.5,542.9 421.4,545.5 422.9,547.3 424.4,548.9 425.9,550.5 427.4,552.2 428.9,553.9 430.4,555.2 432.4,557.4 433.4,558.2 434.9,559.4 436.4,560.6 437.9,562.1 439.4,563.0 440.9,564.4 442.4,565.1 443.9,566.5 445.3,567.6 446.9,568.9 448.4,570.1 449.9,571.1 451.4,572.2 452.9,573.1 454.4,574.0 455.9,575.0 457.4,576.0 458.2,576.8 458.9,577.4 460.4,578.2 461.9,579.2 463.4,580.2 464.9,581.0 466.4,582.0 467.9,582.8 469.4,583.6 471.1,584.4 472.4,584.7 473.9,585.6 475.4,586.1 476.9,587.3 478.4,587.8 479.9,587.9 481.4,588.3 482.9,588.9 484.0,588.8 485.9,589.7 487.4,589.7 488.9,589.9 490.4,590.5 491.9,590.8 493.4,590.8 494.9,591.1 496.4,590.8 497.9,591.1 499.4,591.2 500.9,591.1 502.1,591.6 503.9,591.8 505.4,591.0 506.9,591.1 508.4,591.2 509.9,590.8 511.4,590.6 512.9,590.2 514.4,590.2 515.9,589.7 517.6,589.8 518.9,589.5 520.4,589.1 521.9,588.4 523.4,588.1 524.9,587.7 526.4,586.9 527.9,586.3 529.4,585.4 530.9,585.2 532.4,584.6 533.1,584.6 533.9,583.8 535.4,583.1 536.9,582.9 538.4,582.1 539.9,580.9 541.4,580.3 542.9,579.2 544.4,578.9 545.9,578.5 547.4,577.8 548.6,577.0 550.4,576.7 551.9,576.0 553.4,575.7 554.9,575.1 556.4,574.9 557.9,574.7 559.4,574.1 560.9,573.9 562.4,573.7 564.1,573.8 565.4,573.6 566.9,573.8 568.4,574.1 569.9,574.7 571.4,574.9 572.9,575.4 574.4,575.7 575.9,576.1 577.0,576.6 578.9,577.6 580.4,578.1 581.9,578.9 583.4,579.9 584.9,581.1 586.4,582.1 587.9,583.0 589.4,583.7 590.9,584.7 592.5,586.4 593.9,586.4 595.4,587.3 596.9,588.0 598.4,588.4 599.9,589.7 601.4,590.2 602.9,590.7 604.4,591.6 605.9,591.9 607.4,592.6 608.0,592.4 608.9,592.9 610.4,593.5 611.9,593.7 613.4,593.9 614.9,594.3 616.4,595.0 617.9,594.8 619.4,595.1 620.9,595.8 622.4,595.9 623.4,596.0 625.4,596.2 626.9,596.5 628.4,596.8 629.9,596.8 631.4,596.6 632.9,597.2 634.4,596.8 635.9,597.6 637.4,597.2 638.9,597.4 640.4,597.3 641.9,597.1 643.4,597.3 644.9,597.0 646.4,597.2 647.9,596.7 649.4,596.4 650.9,596.6 651.8,596.3 652.4,595.9 653.9,595.4 655.4,595.5 656.9,594.8 658.4,594.2 659.9,593.3 661.4,592.6 662.9,591.8 664.4,591.6 665.9,590.8 667.4,590.4 668.9,589.4 669.9,589.8 671.9,589.1 673.4,588.3 674.9,588.3 676.4,588.4 677.9,588.3 679.4,587.2 680.9,587.3 682.4,587.4 683.9,586.9 685.4,587.0 686.9,586.8 688.0,587.0 689.9,586.8 691.4,587.2 692.9,587.4 694.4,588.0 695.9,588.3 697.4,588.9 698.9,589.1 700.4,589.7 701.9,589.2 703.5,589.5 704.9,589.7 706.4,589.5 707.9,588.9 709.4,589.3 710.9,589.0 712.4,589.4 713.9,588.6 715.4,588.5 716.9,587.9 718.4,588.0 720.0,586.9 721.4,587.0 722.9,586.6 724.4,585.8 725.9,585.7 727.4,584.8 728.9,584.3 730.4,582.9 731.9,582.2 733.4,581.7 734.9,580.7 735.5,580.7 736.4,580.2 737.9,579.1 739.4,578.4 740.9,577.6 742.4,576.7 743.9,575.7 745.4,574.7 746.9,573.9 748.4,573.2 749.9,572.5 751.0,571.2 752.9,570.1 754.4,569.3 755.9,568.6 757.4,567.2 758.9,566.9 760.4,566.0 761.9,564.4 763.9,564.4 764.9,564.2 766.4,563.8 767.9,563.2 769.4,563.5 770.9,563.2 772.9,563.4 773.9,563.6 775.4,564.7 776.9,567.4 778.1,569.3 779.9,573.7 781.4,578.5 783.3,584.6 784.4,587.2 785.9,590.5 787.1,592.3 788.9,594.5 790.4,595.2 791.8,597.5 793.4,601.1 794.9,607.8 796.4,619.3 797.5,630.7 799.4,656.0 800.0,664.4 800.9,676.7 802.6,698.1 803.9,713.1 805.4,729.9 806.5,741.7 808.4,763.8 810.4,785.6 811.4,795.7 812.9,808.1 813.5,811.6 814.4,815.7 815.0,816.7 815.9,814.3 817.6,801.4 818.9,788.1 820.7,767.5 821.9,756.7 823.4,743.7 824.9,731.8 825.9,724.0 827.9,708.2 829.4,696.9 831.0,685.0 832.4,674.7 833.9,663.9 835.4,654.3 836.2,648.8 836.9,644.6 838.4,635.6 839.3,632.3 839.9,630.7 841.4,627.6 842.6,627.4 844.4,629.3 845.7,633.6 847.4,647.9 848.3,659.4 848.9,667.4 850.9,703.5 851.9,724.7 853.0,749.3 854.8,788.7 856.8,803.5 857.9,792.1 859.0,770.2 860.7,728.9 862.8,664.8 863.9,638.2 864.6,625.6 865.4,616.2 867.2,599.9 868.4,590.5 869.9,580.7 871.0,574.0 872.9,564.1 874.4,557.6 876.2,551.4 877.4,547.4 878.9,542.2 880.4,538.7 881.9,535.0 882.7,532.7 883.4,531.2 884.9,527.3 886.4,524.0 887.9,521.0 889.4,517.8 890.4,516.0 892.4,512.6 893.9,510.1 895.4,508.0 896.9,506.2 898.1,504.9 899.9,502.7 901.4,501.8 902.9,499.6 904.4,498.3 905.9,497.2 907.4,496.2 908.5,495.0 910.4,494.0 911.9,492.9 913.4,492.0 914.9,491.4 916.4,490.7 917.9,489.9 919.4,488.7 920.9,488.3 922.4,487.5 924.0,486.4 925.4,485.5 926.9,484.4 928.4,483.4 929.9,482.6 931.4,481.7 932.9,480.3 934.4,479.4 935.9,478.5 937.4,477.0 938.9,476.7 939.5,476.1 940.4,475.7 941.9,474.4 943.4,473.2 944.9,472.4 946.4,471.6 947.9,470.6 949.8,470.5 950.9,470.2 952.4,469.7 953.9,469.9 955.4,469.7 956.9,469.6 958.4,469.4 959.9,469.3 961.4,469.1 962.9,469.3 964.4,469.1 965.9,469.1 967.8,468.7 968.9,468.8 970.4,468.7 971.9,468.0 973.4,468.1 974.9,468.2 976.4,467.4 977.9,467.2 979.4,466.9 980.9,466.5 982.4,466.4 983.9,465.8 985.4,465.4 986.9,464.8 988.5,464.5 989.9,463.8 991.4,462.9 992.9,462.0 994.4,461.3 995.9,459.8 997.4,458.6 998.9,457.6 1000.4,456.0 1001.4,455.5 1003.4,453.5 1004.9,452.6 1006.4,450.8 1007.9,450.0 1009.4,448.6 1010.9,447.4 1012.4,446.6 1014.3,445.2 1015.4,444.4 1016.9,443.6 1018.4,442.4 1019.9,441.5 1021.4,440.4 1022.9,439.9 1024.4,438.9 1025.9,437.8 1027.4,437.1 1028.9,436.5 1029.8,436.1 1030.4,436.4 1031.9,435.7 1033.4,435.4 1034.9,434.6 1036.4,434.2 1037.9,434.2 1039.4,433.2 1040.9,433.0 1042.4,432.5 1043.9,432.5 1045.4,432.9 1046.9,431.9 1048.4,431.9 1049.9,431.7 1051.4,430.9 1052.9,430.5 1054.4,430.3 1055.6,430.0 1057.4,429.0 1058.9,428.7 1060.4,428.7 1061.9,427.7 1063.4,427.4 1064.9,427.0 1066.4,426.2 1067.9,425.7 1069.4,425.1 1070.9,424.5 1072.4,423.9 1073.9,423.2 1075.4,422.8 1076.9,422.4 1078.4,422.0 1079.9,421.2 1081.4,420.7 1082.9,420.6 1084.4,419.6 1085.9,419.0 1087.4,418.2 1088.9,417.7 1090.4,417.0 1091.9,416.5 1093.4,416.0 1094.9,415.6 1096.9,415.5 1097.9,415.3 1099.4,415.8 1100.9,415.2 1102.4,415.8 1103.9,415.4 1105.4,415.5 1106.9,415.6 1108.4,414.9 1109.9,415.6 1111.4,415.3 1112.9,415.1 1114.4,415.1 1115.9,415.3 1117.4,414.9 1118.9,415.5 1120.4,415.1 1121.9,415.3 1123.4,415.1 1124.9,414.9 1126.4,414.9 1127.9,414.7 1129.4,415.1 1130.9,414.7 1132.4,414.6 1133.9,414.4 1135.4,414.2 1136.9,413.9 1138.4,413.8 1139.9,413.0 1141.4,412.6 1142.9,412.3 1144.4,411.9 1145.9,411.5 1147.4,411.2 1148.6,410.7 1150.4,409.5 1151.9,407.9 1153.4,406.8 1154.9,405.5 1156.3,405.0 1157.9,404.4 1159.4,404.1 1161.5,404.0 1162.4,404.1 1163.9,405.0 1165.4,406.3 1166.7,406.6 1168.4,406.5 1169.9,405.7 1171.4,404.6 1172.9,404.4 1174.4,403.8 1175.9,402.9 1177.4,402.6 1178.9,402.6 1180.4,402.1 1181.9,401.5 1183.4,401.7 1184.9,401.2 1186.4,401.0 1187.9,400.9 1189.4,400.3 1190.9,400.1 1192.4,400.1 1193.9,400.0 1195.4,399.7 1196.9,399.7 1197.6,399.5 1198.4,399.5 1199.9,399.0 1201.4,399.0 1202.9,399.1 1204.4,398.6 1205.9,398.4 1207.4,398.5 1208.9,398.3 1210.4,398.0 1211.9,397.8 1213.4,398.2 1214.9,397.9 1216.4,398.1 1217.9,397.6 1219.4,397.7 1220.9,397.6 1222.4,397.6 1223.5,397.3 1225.4,397.8 1226.9,397.5 1228.4,397.6 1229.9,397.4 1231.4,397.9 1232.9,397.3 1234.4,398.0 1235.9,397.5 1237.4,397.5 1238.9,397.5 1240.4,397.9 1241.9,397.4 1243.4,397.4 1244.9,397.4 1246.4,397.7 1247.9,397.7 1249.4,397.5 1250.9,397.7 1252.4,397.9 1253.9,397.7 1255.4,397.7 1256.9,397.4 1258.4,397.9 1259.9,397.7 1261.4,397.3 1262.2,397.5 1262.9,397.1 1264.4,397.7 1265.9,397.4 1267.4,397.7 1268.9,398.1 1270.4,397.6 1271.9,398.2 1273.4,398.1 1274.9,398.1 1276.4,398.7 1277.9,398.6 1279.4,398.6 1280.9,399.0 1282.4,398.9 1283.9,399.0 1285.4,399.3 1286.9,399.7 1288.0,399.3 1289.9,399.5 1291.4,400.1 1292.9,399.8 1294.4,400.2 1295.9,400.4 1297.4,400.4 1298.9,400.7 1300.4,401.0 1301.9,401.3 1303.4,401.6 1304.9,401.7 1306.4,402.1 1307.9,402.1 1309.4,402.2 1310.9,402.6 1312.4,402.8 1313.9,403.0 1315.4,403.0 1316.9,403.2 1318.4,403.3 1320.0,403.2 1321.4,403.7 1322.9,403.6 1324.4,403.7 1325.9,403.9 1327.4,404.5 1328.9,404.0 1330.4,404.5 1331.9,403.9 1333.4,404.4 1334.9,404.9 1336.4,404.7 1337.9,404.8 1339.4,404.7 1340.9,404.5 1342.4,405.1 1343.9,405.3 1345.8,405.5 1346.9,405.8 1348.4,405.5 1349.9,405.8 1351.4,405.5 1352.9,406.0 1354.4,406.3 1355.9,406.7 1357.4,407.1 1358.9,407.2 1360.4,407.2 1361.9,407.2 1363.4,407.4 1364.9,407.6 1366.4,407.7 1367.9,408.0 1369.4,407.8 1370.9,407.6 1371.6,407.7 1372.4,408.4 1373.9,407.5 1375.4,406.2 1376.9,405.2 1378.4,404.5 1379.4,404.1 1381.4,403.6 1382.9,402.8 1384.4,402.6 1385.9,402.6 1387.4,402.4 1388.9,402.1 1390.4,402.1 1391.9,401.6 1393.4,401.4 1394.9,401.2 1396.4,401.2 1397.9,400.7 1399.4,401.1 1400.9,400.3 1402.4,400.6 1403.9,400.4 1405.2,400.5 1406.9,399.8 1408.4,399.8 1409.9,399.8 1411.4,399.9 1412.9,399.8 1414.4,399.0 1415.9,399.4 1417.4,399.4 1418.9,399.3 1420.4,399.3 1421.9,399.1 1423.4,399.1 1424.9,398.6 1426.4,399.1 1427.9,398.4 1429.4,398.9 1431.0,398.7 1432.4,399.0 1433.9,398.7 1435.4,399.1 1436.9,399.0 1438.4,399.1 1439.9,399.3 1441.4,399.3 1442.9,399.1 1444.4,399.4 1445.9,399.3 1447.4,399.4 1448.9,399.4 1450.4,398.8 1451.9,399.3 1453.4,399.4 1454.3,399.3 1454.9,399.2 1456.4,399.2 1457.9,398.6 1459.4,398.4 1460.9,398.0 1462.4,397.4 1463.9,397.3 1464.6,396.9 1465.4,397.7 1467.2,400.6 1468.4,399.9 1469.9,398.3 1471.4,396.7 1472.3,396.6 1472.9,396.2 1474.4,396.6 1475.9,396.2 1477.4,396.5 1478.9,396.9 1480.4,397.0 1481.9,396.7 1483.4,397.3 1485.2,397.7 1486.4,397.5 1487.9,397.9 1489.4,398.1 1490.9,398.5 1492.4,399.0 1493.9,398.8 1495.4,399.2 1496.9,400.1 1498.1,400.4 1499.9,401.4 1501.4,402.1 1502.9,403.6 1504.4,404.4 1505.9,406.5 1507.4,407.8 1508.5,408.9 1510.4,411.1 1511.9,413.4 1513.4,415.6 1514.9,417.4 1516.2,419.4 1517.9,422.6 1519.4,425.0 1520.9,428.2 1522.4,431.5 1524.0,435.2 1525.4,438.5 1526.9,442.1 1527.8,445.0 1528.4,446.6 1529.9,449.9 1531.4,453.3 1532.9,456.8 1534.3,460.6 1535.9,464.9 1537.4,469.2 1538.9,473.6 1540.4,478.6 1542.0,483.8 1543.4,488.9 1544.9,494.8 1546.4,501.2 1548.5,509.5 1549.4,513.0 1550.9,518.2 1552.4,523.1 1553.9,527.8 1554.9,530.3 1556.9,534.9 1558.4,538.5 1559.9,540.6 1561.4,541.8 1562.9,540.5 1564.4,537.6 1565.3,536.8 1565.9,536.9 1567.4,537.0 1568.9,536.8 1570.4,537.3 1571.9,537.7 1573.4,538.4 1574.9,539.1 1575.6,539.6 1576.4,539.7 1577.9,541.5 1579.4,544.6 1580.9,547.9 1582.4,551.4 1583.3,553.4 1583.9,554.8 1585.4,558.3 1586.9,562.4 1588.4,566.6 1589.9,570.7 1591.1,574.2 1592.9,579.1 1594.4,583.8 1595.9,588.2 1597.4,592.7 1598.8,597.3 1600.4,603.1 1601.9,608.9 1604.0,615.3 1604.9,617.7 1606.4,620.7 1607.9,623.5 1609.4,625.6 1610.9,626.8 1611.7,627.2 1612.4,627.0 1613.9,627.0 1615.4,626.9 1616.9,627.2 1618.4,626.5 1619.9,624.6 1621.4,622.1 1622.1,620.1 1622.9,618.8 1624.4,614.2 1625.9,608.2 1627.4,601.4 1628.5,597.4 1630.4,589.8 1631.9,583.4 1633.4,577.2 1635.0,571.4 1636.4,566.2 1637.9,562.1 1639.4,557.3 1640.9,553.1 1642.7,548.3 1643.9,545.2 1645.4,541.7 1646.9,537.7 1648.4,534.4 1650.5,529.8 1651.4,528.3 1652.9,525.2 1654.4,523.1 1655.9,520.9 1656.9,519.8 1658.9,518.6 1660.4,517.2 1661.9,516.6 1663.4,516.0 1664.7,515.8 1666.4,516.9 1667.9,519.0 1669.4,521.8 1671.1,524.8 1672.4,527.3 1673.9,531.5 1675.4,535.2 1676.9,538.8 1677.6,540.5 1678.4,542.2 1679.9,546.5 1681.4,549.5 1682.7,551.0 1684.4,551.0 1685.9,550.9 1687.4,551.0 1688.9,550.9 1690.5,551.2 1691.9,545.0 1693.1,538.9 1694.9,536.9 1696.4,536.2 1697.9,535.0 1699.5,534.9 1700.9,535.2 1702.4,537.0 1703.9,539.2 1704.7,540.7 1705.4,542.5 1706.9,551.2 1707.8,558.9 1708.4,565.1 1709.8,589.2 1711.4,638.9 1712.9,690.5 1714.5,708.0 1715.9,705.5 1717.1,703.3 1719.1,718.7 1720.4,711.8 1721.5,700.8 1724.0,672.0 1724.9,667.4 1726.4,661.7 1727.4,659.5 1729.4,656.6 1730.5,656.4 1732.4,657.3 1733.9,659.6 1735.7,661.1 1736.9,662.3 1738.4,663.4 1739.9,664.0 1741.4,664.2 1743.4,665.1 1744.4,666.6 1745.9,668.4 1747.4,670.2 1748.6,672.3 1750.4,677.3 1751.9,683.6 1753.7,690.0 1754.9,693.4 1756.4,697.4 1757.9,701.3 1759.4,704.3 1760.2,705.6 1760.9,707.1 1762.4,709.6 1763.9,712.1 1765.4,714.5 1766.6,715.8 1768.4,718.7 1769.9,720.5 1771.8,722.0 1772.9,721.6 1774.4,721.8 1775.9,721.6 1777.4,721.9 1778.9,721.4 1780.4,721.7 1782.1,721.6 1783.4,721.7 1784.9,722.8 1786.4,723.9 1787.9,725.0 1789.9,726.2 1790.9,726.8 1792.4,727.6 1793.9,728.6 1795.4,729.0 1796.3,729.3 1796.9,729.1 1798.4,728.6 1799.9,727.0 1801.4,725.5 1802.8,723.8 1804.4,721.5 1805.9,718.8 1807.4,715.4 1809.2,711.0 1810.4,707.6 1811.9,702.8 1813.4,696.7 1814.4,692.9 1816.4,682.9 1817.9,674.1 1819.6,664.4 1820.9,657.3 1822.4,648.9 1823.9,640.4 1824.7,636.3 1825.4,632.5 1826.9,624.9 1828.4,617.4 1829.9,610.4 1831.4,604.1 1832.9,598.4 1834.4,593.0 1835.1,589.5 1835.9,585.7 1837.4,576.5 1838.9,567.8 1840.2,561.2 1841.9,555.1 1843.4,550.2 1845.4,545.8 1846.4,543.7 1847.9,540.8 1849.4,538.5 1850.9,536.7 1851.8,535.5 1852.4,534.9 1853.9,533.1 1855.4,531.6 1856.9,530.5 1858.4,529.3 1859.6,529.2 1861.4,528.5 1862.9,528.7 1864.4,528.1 1865.9,528.0 1867.4,528.0 1868.9,527.8 1870.4,527.7 1871.9,527.6 1873.4,527.7 1875.1,527.0 1876.4,527.0 1877.9,526.4 1879.4,525.6 1880.9,524.7 1882.4,524.2 1883.9,522.3 1885.4,521.7 1886.9,520.7 1888.0,520.0 1889.9,518.4 1891.4,517.1 1892.9,515.4 1894.4,513.8 1895.9,511.8 1897.4,510.4 1898.9,509.1 1900.9,506.9 1901.9,506.3 1903.4,504.8 1904.9,504.1 1906.4,502.8 1907.9,502.1 1909.4,501.0 1911.2,500.5 1912.4,500.0 1913.9,499.7 1915.4,499.4 1916.9,499.5 1918.4,498.9 1920.0,498.8 1921.4,499.2 1922.9,499.2 1924.4,499.1 1925.9,499.7 1927.9,499.7 1928.9,499.8 1930.4,499.5 1931.9,498.6 1933.4,498.3 1934.9,498.2 1936.4,497.4 1937.9,496.4 1939.4,495.9 1940.9,495.6 1942.4,495.1 1943.4,494.7 1945.4,495.7 1946.9,495.9 1948.4,496.8 1949.9,497.6 1951.4,498.6 1952.9,499.5 1954.4,500.8 1955.9,501.1 1957.4,501.7 1958.9,501.8 1960.4,501.9 1961.9,501.4 1963.4,500.5 1964.9,500.8 1966.4,500.2 1967.9,499.5 1969.4,498.7 1970.9,499.0 1971.8,498.8 1972.4,498.8 1973.9,501.1 1975.4,504.9 1976.5,506.9 1978.4,511.2 1979.9,514.6 1981.4,517.1 1982.1,517.1 1982.9,517.0 1984.4,514.6 1985.9,511.5 1987.4,507.2 1988.9,504.3 1989.9,503.3 1991.9,501.9 1993.4,500.6 1994.9,500.1 1996.4,499.4 1997.9,498.9 1999.4,498.3 2000.9,498.3 2002.8,498.2 2003.9,498.8 2005.4,502.3 2006.9,507.4 2008.4,512.2 2010.5,515.4 2011.4,514.4 2012.9,511.4 2014.4,506.6 2015.9,497.0 2017.4,485.2 2018.3,481.5 2018.9,480.3 2020.4,478.1 2021.9,476.6 2023.4,476.2 2024.7,475.8 2026.4,476.8 2027.9,479.3 2029.4,482.5 2031.2,486.3 2032.4,489.2 2033.9,492.4 2035.4,496.2 2036.9,499.7 2038.4,501.7 2039.5,502.5 2041.4,501.2 2042.9,499.7 2044.4,497.2 2045.9,494.9 2047.4,492.0 2049.3,488.8 2050.4,487.1 2051.9,484.7 2053.4,482.4 2054.9,479.6 2056.4,477.2 2057.9,474.9 2059.6,473.1 2060.9,472.1 2062.4,471.2 2063.9,470.6 2066.0,470.0 2066.9,470.5 2068.4,471.6 2069.9,474.1 2071.4,476.7 2072.5,478.4 2074.4,482.2 2075.9,486.3 2077.4,489.8 2079.0,490.6 2080.4,490.6 2081.9,489.0 2083.4,486.6 2084.9,484.4 2086.4,482.3 2088.0,481.1 2089.4,480.8 2090.9,480.2 2092.4,479.7 2093.9,479.2 2095.4,478.8 2096.9,478.7 2098.3,478.3 2099.9,478.5 2101.4,478.7 2102.9,478.5 2104.4,479.1 2105.9,479.4 2107.4,479.9 2108.9,483.8 2110.4,491.9 2111.2,497.0 2111.9,501.2 2113.4,515.6 2115.1,524.6 2116.4,517.8 2117.9,501.8 2119.0,494.4 2120.9,489.3 2122.4,487.0 2124.1,485.6 2125.4,485.9 2126.9,486.4 2128.4,486.6 2129.9,487.6 2131.9,488.8 2132.9,489.8 2134.4,491.8 2135.9,493.7 2137.4,496.7 2138.9,499.1 2139.6,500.0 2140.4,501.6 2141.9,504.3 2143.4,507.0 2144.9,509.7 2146.4,512.4 2147.4,513.4 2149.4,515.4 2150.9,516.6 2152.4,517.3 2153.9,518.7 2155.4,519.3 2156.9,520.5 2157.7,521.0 2158.4,521.8 2159.9,523.6 2161.4,525.5 2162.9,527.8 2164.2,530.3 2165.9,534.3 2168.0,542.9 2168.9,548.9 2170.6,566.2 2171.9,587.2 2172.7,605.1 2173.4,625.1 2174.5,664.7 2175.8,715.9 2176.5,744.5 2178.4,695.0 2179.4,701.9 2180.5,715.2 2182.7,739.3 2183.9,710.4 2184.8,677.4 2186.6,625.6 2188.7,589.7 2189.9,576.9 2191.3,566.4 2192.9,558.0 2194.4,552.5 2195.1,550.3 2195.9,549.4 2197.4,546.9 2198.9,545.3 2200.3,544.5 2201.9,543.6 2203.4,543.0 2205.5,542.4 2206.4,543.0 2207.9,544.5 2209.4,546.8 2210.9,549.1 2212.4,551.0 2213.2,550.7 2213.9,550.8 2215.4,550.1 2216.9,549.1 2218.4,547.8 2219.7,546.9 2221.4,546.5 2223.5,546.0 2224.4,545.0 2226.1,541.7"/><use href="#c4" x="-0.9" y="-0.9"/><use href="#c4" x="-0.9" y="0"/><use href="#c4" x="-0.9" y="0.9"/><use href="#c4" x="0" y="-0.9"/><use href="#c4" x="0" y="0.9"/><use href="#c4" x="0.9" y="-0.9"/><use href="#c4" x="0.9" y="0"/><use href="#c4" x="0.9" y="0.9"/></g>
<g fill="none" stroke="#ff00ff" stroke-width="1.1" stroke-linejoin="round" stroke-linecap="butt" shape-rendering="crispEdges"><polyline id="c5" points="139.4,203.3 140.9,203.1 142.4,203.4 143.9,203.0 145.4,203.3 146.9,203.3 148.4,203.0 149.9,203.4 151.4,202.9 152.9,202.9 154.4,203.1 155.9,202.8 157.4,202.9 158.9,202.7 160.4,202.8 161.9,202.9 163.4,202.6 164.9,203.0 166.5,203.0 167.9,203.0 169.4,203.4 170.9,203.6 171.6,203.4 172.4,203.6 173.9,203.2 175.5,202.8 176.9,203.1 178.4,203.2 179.9,203.2 180.7,203.9 181.4,203.8 182.9,203.9 184.4,203.2 185.9,203.1 187.1,202.7 188.9,202.7 190.4,202.9 192.3,203.1 193.4,202.4 194.9,201.8 196.4,203.9 198.2,206.1 199.4,205.6 200.9,204.5 202.6,203.3 203.9,202.9 205.4,203.3 206.9,204.2 208.4,203.9 209.1,204.4 209.9,203.7 211.4,203.5 212.9,202.7 214.2,202.8 215.9,203.7 217.4,204.9 219.4,206.0 220.4,205.9 221.9,205.4 223.4,204.6 224.6,203.9 226.4,205.6 227.9,208.1 228.9,208.6 230.9,206.1 232.8,203.3 233.9,203.6 235.4,204.7 236.9,206.4 238.8,207.6 239.9,206.9 241.4,204.8 243.4,203.7 244.4,203.7 245.9,204.9 247.4,206.2 249.1,207.0 250.4,206.1 251.9,204.9 253.4,202.9 254.8,202.1 256.4,203.0 257.9,203.8 259.4,205.1 260.9,205.4 262.0,206.4 263.9,204.9 265.4,203.2 266.9,201.7 268.5,200.9 269.9,200.9 271.4,201.3 272.9,201.6 274.9,201.3 275.9,201.2 277.4,200.6 278.9,200.1 279.6,199.7 280.4,200.4 281.9,200.3 283.4,201.1 285.2,202.1 286.4,201.6 287.9,201.2 289.1,201.3 290.9,203.9 292.4,206.2 293.5,206.8 295.4,206.1 296.9,204.9 298.1,204.3 299.9,205.3 301.4,205.9 302.8,207.0 304.4,205.9 305.9,204.1 307.2,202.8 308.9,202.4 310.4,201.6 311.9,201.3 313.6,200.7 314.9,201.6 316.4,203.6 317.9,205.1 318.8,205.0 320.9,203.7 322.4,201.8 324.0,200.9 325.4,201.0 326.9,201.7 327.8,201.9 329.9,204.3 331.7,206.6 332.9,205.4 334.4,203.2 335.6,202.3 337.4,204.4 338.9,207.5 340.0,208.0 341.9,206.9 343.4,205.4 344.6,204.3 346.4,204.7 347.9,204.9 348.5,205.3 349.4,205.5 350.9,206.7 352.4,209.1 353.9,212.4 355.4,215.2 356.9,217.1 357.5,217.8 358.4,219.0 359.9,220.0 361.4,221.5 362.9,222.5 364.4,223.5 365.9,224.9 367.4,225.3 368.9,226.1 370.4,227.1 371.9,227.6 373.4,229.0 374.9,229.7 376.4,230.3 377.9,231.0 379.4,231.7 380.9,232.1 382.4,233.1 383.3,233.6 385.4,234.8 386.9,235.5 388.4,236.4 389.9,237.2 391.4,237.4 392.9,238.5 394.4,239.5 395.9,240.1 397.4,240.9 398.9,241.9 400.4,242.2 401.9,243.1 403.4,244.1 404.0,244.0 404.9,244.2 406.4,245.0 407.9,245.5 409.4,245.9 410.9,246.8 412.4,247.2 413.9,247.3 415.4,248.4 416.9,248.5 418.4,249.2 419.9,249.8 421.4,250.2 422.9,250.4 424.4,250.7 425.9,251.6 427.4,252.2 428.9,252.4 429.8,252.9 431.9,254.0 433.4,254.1 434.9,255.6 436.4,255.4 437.9,255.7 439.4,256.6 440.9,257.0 442.4,257.8 443.9,257.9 445.4,258.8 446.9,259.0 448.4,259.8 449.9,260.5 451.4,260.7 452.9,261.5 454.4,261.6 455.6,262.2 457.4,262.4 458.9,262.9 460.4,263.4 461.9,263.6 463.4,264.1 464.9,264.6 466.4,265.5 467.9,265.6 469.4,265.7 470.9,266.0 472.4,266.6 473.9,266.6 475.4,267.1 476.3,267.0 478.4,267.2 479.9,267.8 481.4,267.4 482.9,268.4 484.4,267.9 485.9,267.9 487.4,268.4 488.9,268.7 490.4,268.8 491.9,268.8 493.4,268.6 494.9,268.8 496.4,268.9 497.9,269.1 499.4,269.2 500.9,269.1 502.1,269.2 503.9,268.5 505.4,268.9 506.9,269.2 508.4,268.9 509.9,268.9 511.4,268.8 512.9,268.9 514.4,268.8 515.9,268.4 517.4,268.9 518.9,268.9 520.4,268.6 521.9,268.3 523.4,268.6 524.9,268.4 526.4,268.8 527.9,268.6 529.4,268.2 530.9,268.4 532.4,268.9 533.1,268.4 533.9,268.3 535.4,268.4 536.9,268.1 538.4,268.5 539.9,268.0 541.4,268.3 542.9,268.4 544.4,268.3 545.9,268.0 547.4,267.9 548.9,267.9 550.4,267.9 551.9,267.9 553.4,267.7 554.9,267.7 556.4,267.5 557.9,267.3 559.4,267.7 560.9,267.5 562.4,267.5 563.9,267.6 565.4,267.1 566.9,267.1 568.4,267.1 569.9,267.4 571.8,266.9 572.9,267.1 574.4,267.4 575.9,266.9 577.4,267.4 578.9,267.6 580.4,267.4 581.9,267.2 583.4,267.4 584.9,267.3 586.4,267.6 587.9,267.9 589.4,268.0 590.9,267.4 592.4,267.8 593.9,268.1 595.4,268.0 596.9,267.6 598.4,268.2 599.9,268.4 601.4,268.3 602.9,268.4 604.4,268.6 605.9,268.2 607.4,268.4 608.9,268.6 610.5,269.2 611.9,268.3 613.4,268.6 614.9,268.7 616.4,268.3 617.9,268.2 619.4,268.1 620.9,267.3 622.4,267.5 623.9,267.0 625.4,267.2 626.9,266.6 628.4,266.3 629.9,266.0 631.4,265.4 632.9,265.5 634.4,264.7 636.4,264.6 637.4,264.3 638.9,264.2 640.4,263.7 641.9,263.1 643.4,263.0 644.9,262.7 646.4,261.7 647.9,261.7 649.4,260.8 650.9,260.3 652.4,259.8 653.9,259.2 655.4,259.2 656.9,258.6 658.4,258.1 659.9,257.2 661.4,257.2 662.2,256.7 662.9,257.0 664.4,256.0 665.9,256.1 667.4,255.2 668.9,254.8 670.4,254.8 671.9,254.5 673.4,254.2 674.9,253.5 676.4,253.1 677.9,253.1 679.4,252.4 680.9,252.1 682.4,252.1 683.9,251.8 685.4,251.5 686.9,251.6 688.0,250.9 689.9,251.1 691.4,251.3 692.9,250.7 694.4,250.4 695.9,250.8 697.4,250.5 698.9,250.6 700.4,250.4 701.9,250.0 703.4,250.0 704.9,249.7 706.4,250.4 707.9,249.6 709.4,249.7 710.9,249.5 712.4,249.7 713.9,249.8 715.4,249.3 716.9,249.4 718.4,249.4 720.0,249.6 721.4,249.0 722.9,249.0 724.4,249.1 725.9,248.4 727.4,248.6 728.9,248.5 730.4,248.1 731.9,248.2 733.4,248.2 734.9,248.2 736.4,248.1 737.9,247.7 739.4,247.5 740.9,247.8 742.4,247.2 743.9,247.3 745.8,247.1 746.9,246.9 748.4,247.2 749.9,246.8 751.4,246.9 752.9,247.1 754.4,247.1 755.9,246.5 757.4,246.5 758.9,246.4 760.4,246.3 761.9,246.8 763.9,246.7 764.9,246.6 766.4,246.6 767.9,247.3 769.4,247.7 770.9,248.3 771.6,248.7 772.4,249.4 773.9,250.7 775.4,253.0 776.8,255.4 778.4,260.0 779.9,264.9 781.4,269.8 782.0,272.4 782.9,276.1 784.4,282.0 785.8,286.3 787.4,289.1 788.9,290.2 790.4,291.7 791.0,293.0 791.9,295.0 793.4,299.3 794.9,305.7 796.4,317.6 797.5,329.2 799.4,354.7 800.0,363.0 800.9,373.9 802.1,391.3 803.9,444.9 805.4,467.5 806.5,483.7 808.4,521.6 809.1,535.3 809.9,550.1 811.7,579.6 813.2,596.6 814.4,591.2 816.0,574.2 817.4,553.9 819.4,522.4 820.4,511.7 821.9,497.2 823.3,484.1 824.9,467.0 826.4,451.5 827.1,444.9 827.9,438.0 829.4,425.6 831.0,412.2 832.4,398.2 833.9,383.5 834.9,375.8 836.9,361.7 838.8,352.5 839.9,349.6 841.4,346.0 842.6,344.9 844.4,347.8 846.0,352.5 847.4,367.6 848.6,388.7 850.4,427.8 851.7,445.0 853.0,497.0 854.8,548.3 856.4,578.4 857.9,559.6 859.0,540.2 860.9,520.3 861.5,509.6 862.5,445.0 863.5,401.4 865.1,362.7 866.9,337.7 867.7,329.2 868.4,322.4 869.9,310.3 871.0,303.6 872.9,294.7 874.9,287.7 875.9,284.8 877.4,281.0 878.9,277.8 880.1,274.7 881.9,271.6 883.4,268.6 884.9,265.9 886.4,263.7 887.8,262.2 889.4,260.0 890.9,258.8 892.4,257.4 893.9,255.4 895.4,254.0 896.9,252.7 898.4,252.0 899.9,250.7 900.7,250.3 901.4,249.8 902.9,249.4 904.4,248.4 905.9,247.7 907.4,246.5 908.9,246.0 910.4,245.5 911.9,244.9 913.4,244.4 914.9,244.2 916.2,243.5 917.9,243.0 919.4,242.3 920.9,241.7 922.4,241.2 923.9,240.7 925.4,239.9 926.9,239.6 928.4,239.3 929.9,238.7 931.4,238.3 932.9,237.5 934.4,237.4 935.9,237.2 937.4,237.0 938.9,236.5 940.4,236.2 941.9,235.9 943.4,235.9 944.9,235.7 946.4,235.8 947.2,235.6 947.9,235.8 949.4,235.6 950.9,235.5 952.4,235.6 953.9,236.1 955.4,235.9 956.9,236.0 958.4,236.8 959.9,236.1 961.4,236.5 962.9,236.3 964.4,236.5 965.9,236.8 967.8,236.6 968.9,237.1 970.4,236.5 971.9,236.5 973.4,236.3 974.9,236.5 976.4,236.2 977.9,236.3 979.4,236.0 980.9,236.2 982.4,235.8 983.9,235.8 985.4,235.7 986.9,235.4 988.5,235.4 989.9,235.2 991.4,235.1 992.9,234.4 994.4,234.8 995.9,234.2 997.4,233.9 998.9,233.6 1000.4,232.8 1001.9,232.8 1003.4,232.3 1004.9,231.7 1006.4,231.6 1007.9,230.9 1009.4,230.3 1010.9,230.3 1012.4,229.8 1013.9,229.4 1015.4,228.9 1016.9,228.9 1018.4,228.1 1019.5,228.0 1021.4,227.6 1022.9,227.3 1024.4,227.2 1025.9,226.6 1027.4,226.6 1028.9,226.3 1030.4,226.0 1031.9,225.6 1033.4,225.2 1034.9,225.3 1036.4,225.4 1037.9,224.7 1039.4,224.4 1040.9,224.2 1042.4,224.1 1043.9,224.0 1045.4,223.7 1046.9,223.4 1048.4,222.9 1049.9,223.1 1051.4,222.6 1052.9,222.5 1054.4,222.2 1055.6,222.0 1057.4,221.9 1058.9,221.5 1060.4,221.6 1061.9,221.2 1063.4,220.9 1064.9,220.4 1066.4,220.3 1067.9,220.0 1069.4,219.8 1070.9,219.4 1072.4,218.9 1073.9,218.7 1075.4,218.6 1076.9,218.5 1078.4,218.1 1079.9,217.7 1081.4,217.5 1082.9,217.4 1084.4,216.9 1085.9,216.7 1087.4,216.6 1088.9,216.4 1090.4,215.8 1091.9,215.7 1093.4,215.6 1094.9,215.2 1096.4,215.2 1097.9,215.0 1099.4,214.5 1100.9,214.9 1102.4,214.3 1103.9,214.3 1105.4,213.9 1107.3,213.1 1108.4,213.1 1109.9,213.2 1111.4,213.0 1112.9,212.8 1114.4,212.1 1115.9,212.1 1117.4,212.1 1118.9,212.1 1120.4,211.7 1121.9,211.1 1123.4,211.0 1124.9,210.9 1126.4,210.6 1127.9,210.7 1129.4,210.6 1130.9,210.4 1132.4,209.8 1133.9,209.6 1135.4,209.4 1136.9,209.6 1138.4,209.6 1139.9,209.2 1141.4,209.5 1143.4,209.5 1144.4,209.4 1145.9,209.7 1147.4,209.8 1148.9,210.2 1150.4,211.2 1151.9,211.4 1153.4,212.2 1154.9,212.3 1156.4,212.3 1157.9,213.1 1158.9,212.8 1160.9,212.8 1162.4,213.1 1163.9,212.5 1165.4,212.7 1166.9,212.8 1168.4,212.8 1169.9,212.1 1171.4,212.1 1172.9,211.7 1174.4,211.9 1175.9,211.3 1177.4,211.4 1178.9,210.7 1180.4,210.8 1182.1,210.7 1183.4,210.3 1184.9,209.8 1186.4,209.2 1187.9,208.5 1189.4,208.5 1190.9,207.9 1192.4,207.3 1193.9,206.5 1195.4,206.1 1196.9,205.9 1197.6,206.1 1198.4,206.0 1199.9,205.6 1201.4,204.9 1202.9,204.5 1204.4,204.7 1205.9,204.5 1207.4,204.6 1208.9,203.8 1210.4,204.0 1211.9,203.5 1213.4,203.5 1214.9,203.1 1216.4,203.0 1217.9,202.8 1219.4,202.7 1220.9,202.4 1222.4,202.3 1223.9,202.3 1225.4,201.9 1226.9,201.9 1228.4,201.8 1229.9,201.7 1231.4,201.9 1232.9,201.4 1234.4,201.8 1236.4,201.0 1237.4,201.2 1238.9,201.4 1240.4,200.7 1241.9,201.1 1243.4,201.1 1244.9,200.7 1246.4,201.2 1247.9,201.2 1249.4,200.8 1250.9,200.7 1252.4,200.8 1253.9,200.7 1255.4,200.4 1256.9,200.3 1258.4,200.7 1259.9,200.3 1261.4,200.2 1262.9,200.0 1264.4,199.5 1265.9,200.0 1267.4,200.0 1268.9,199.9 1270.4,199.8 1271.9,199.9 1273.4,199.8 1274.9,199.7 1276.4,199.6 1277.9,199.5 1279.4,199.5 1280.9,199.3 1282.4,199.6 1283.9,199.4 1285.4,199.3 1286.9,199.7 1288.4,199.4 1289.9,199.0 1291.4,199.0 1292.9,199.1 1294.4,199.0 1295.9,199.3 1297.4,199.2 1298.9,199.2 1300.4,199.2 1301.9,199.1 1303.4,198.6 1304.9,198.6 1306.4,198.7 1307.9,199.0 1309.4,198.9 1310.9,199.2 1312.4,199.1 1313.9,199.1 1315.4,198.7 1316.9,198.8 1318.4,199.0 1320.0,198.6 1321.4,198.7 1322.9,199.2 1324.4,199.3 1325.9,198.6 1327.4,199.0 1328.9,198.8 1330.4,198.7 1331.9,199.1 1333.4,199.5 1334.9,199.6 1336.4,199.6 1337.9,200.0 1339.4,199.7 1340.9,199.9 1342.4,200.4 1343.9,200.4 1345.4,200.2 1346.9,200.3 1348.4,200.7 1349.9,200.9 1351.4,201.0 1352.9,201.1 1354.4,201.3 1355.9,201.2 1357.4,201.5 1358.9,201.5 1360.4,201.4 1361.9,201.8 1363.4,201.7 1364.9,201.8 1366.4,202.1 1367.9,202.1 1369.4,202.5 1370.9,202.4 1371.6,202.0 1372.4,202.0 1373.9,201.9 1375.4,201.8 1376.9,202.3 1378.4,202.1 1379.9,201.7 1381.4,202.1 1382.9,201.8 1384.4,201.7 1385.9,201.3 1387.4,200.8 1388.9,201.3 1390.4,200.8 1391.9,200.5 1393.4,200.8 1394.9,200.6 1396.4,200.1 1397.9,200.1 1399.4,200.1 1400.9,199.8 1402.4,199.5 1403.9,199.8 1405.4,199.3 1406.9,199.4 1408.4,199.0 1409.9,198.8 1411.4,199.0 1412.9,198.5 1414.4,198.5 1415.9,198.5 1417.4,198.5 1418.9,198.2 1420.4,197.8 1421.9,197.7 1423.3,197.6 1424.9,197.7 1426.4,197.9 1427.9,197.8 1429.4,197.8 1430.9,197.8 1432.4,197.7 1433.9,197.8 1435.4,197.8 1436.9,198.2 1438.4,197.7 1439.9,197.7 1441.4,197.7 1442.9,197.5 1444.4,197.9 1445.9,197.4 1447.4,198.1 1448.9,197.3 1450.4,197.6 1451.9,197.8 1453.4,197.6 1454.3,197.6 1454.9,197.2 1456.4,197.5 1457.9,197.3 1459.4,197.3 1460.9,196.8 1462.4,196.5 1463.9,195.9 1465.4,196.1 1466.9,195.5 1468.4,195.5 1469.9,195.6 1471.4,194.9 1472.9,195.0 1474.9,194.8 1475.9,194.8 1477.4,194.6 1478.9,194.9 1480.4,195.2 1481.9,195.6 1483.4,195.8 1484.9,195.7 1486.4,196.1 1487.9,196.2 1489.4,196.3 1490.9,196.7 1492.4,197.4 1493.9,197.7 1495.6,197.6 1496.9,198.6 1498.4,199.1 1499.9,200.3 1501.4,201.3 1502.9,202.3 1504.4,203.6 1505.9,205.2 1507.4,206.6 1508.9,208.2 1510.4,209.7 1511.9,212.1 1513.4,213.4 1514.9,216.3 1516.2,218.1 1517.9,221.0 1519.4,224.6 1520.9,227.6 1522.4,231.2 1523.9,234.8 1525.4,238.8 1526.5,241.5 1528.4,246.4 1529.9,250.1 1531.4,253.8 1532.9,257.8 1534.3,261.9 1535.9,266.9 1537.4,272.0 1538.9,277.3 1540.4,282.7 1542.0,287.9 1543.4,292.3 1544.9,297.3 1546.4,301.5 1547.9,306.4 1549.8,310.6 1550.9,313.5 1552.4,317.0 1553.9,319.3 1554.9,319.9 1556.9,320.7 1558.4,321.1 1559.9,321.2 1561.4,321.4 1562.9,320.3 1564.4,317.9 1565.9,314.7 1567.8,311.2 1568.9,308.7 1570.4,305.3 1571.9,302.3 1573.4,298.7 1574.9,296.1 1575.6,295.7 1576.4,294.7 1577.9,293.3 1579.4,292.0 1580.9,291.2 1582.4,290.5 1583.9,290.1 1584.6,289.7 1585.4,290.5 1586.9,290.6 1588.4,291.8 1589.9,293.6 1591.4,295.1 1592.9,297.1 1593.7,298.1 1594.4,299.0 1595.9,301.3 1597.4,303.5 1598.9,305.8 1600.4,308.2 1601.9,310.0 1604.0,312.7 1604.9,313.1 1606.4,314.2 1607.9,314.9 1609.4,315.6 1610.9,315.9 1611.7,316.0 1612.4,316.0 1613.9,315.8 1615.4,314.6 1616.9,313.7 1618.4,312.4 1619.5,311.2 1621.4,308.3 1622.9,304.3 1624.4,300.8 1625.9,296.4 1627.2,293.3 1628.9,288.3 1630.4,283.5 1631.9,278.8 1633.4,274.3 1635.0,270.2 1636.4,266.1 1637.9,262.5 1639.4,258.7 1640.9,255.4 1642.4,252.1 1643.9,249.1 1645.3,246.5 1646.9,244.1 1648.4,241.7 1649.9,239.3 1651.4,237.0 1652.9,235.3 1654.4,233.6 1655.6,232.5 1657.4,230.8 1658.9,229.4 1660.4,228.5 1661.9,227.7 1663.4,226.5 1664.9,225.2 1666.0,224.5 1667.9,223.3 1669.4,222.0 1670.9,220.2 1672.4,219.9 1673.7,219.8 1675.4,220.0 1676.9,220.2 1678.4,221.3 1679.9,222.6 1681.4,223.3 1682.9,223.6 1684.0,223.6 1685.9,223.7 1687.4,223.7 1688.9,223.2 1690.4,223.1 1691.9,223.2 1693.4,223.1 1694.4,222.9 1696.4,223.9 1697.9,224.9 1699.4,226.7 1700.9,229.0 1702.1,230.8 1703.9,234.4 1705.4,238.7 1707.3,246.9 1708.4,254.6 1709.8,272.9 1711.4,323.8 1712.7,401.7 1713.6,428.9 1714.4,423.5 1715.6,414.1 1718.0,452.9 1718.9,448.6 1720.6,428.5 1721.9,408.8 1724.0,375.6 1724.9,365.1 1726.6,349.5 1727.9,342.6 1729.4,336.0 1730.5,331.7 1732.4,323.6 1733.9,317.8 1735.7,311.2 1736.9,307.1 1738.4,301.3 1739.9,297.1 1740.8,295.9 1741.4,295.0 1742.9,292.9 1744.4,292.0 1745.9,289.7 1747.4,289.0 1748.9,288.1 1750.4,287.3 1751.9,286.1 1753.7,285.3 1754.9,284.6 1756.4,283.8 1757.9,282.2 1759.4,281.5 1760.9,280.7 1762.4,280.5 1764.1,280.5 1765.4,280.8 1766.9,281.6 1768.4,283.9 1769.2,285.3 1769.9,289.6 1771.3,299.4 1772.9,299.4 1774.4,299.1 1775.9,298.7 1777.0,298.2 1778.9,296.0 1780.4,291.7 1782.1,289.0 1783.4,287.8 1784.9,286.9 1786.4,286.2 1787.9,285.2 1789.4,285.1 1790.9,283.7 1792.5,283.0 1793.9,281.6 1795.4,280.1 1796.9,279.3 1798.4,277.4 1799.9,276.3 1801.5,276.1 1802.9,276.5 1804.4,277.6 1805.9,278.3 1807.4,279.5 1808.9,280.7 1810.5,281.6 1811.9,281.6 1813.4,282.2 1814.9,282.2 1816.4,282.6 1817.9,282.8 1819.4,283.2 1820.9,283.6 1822.4,283.6 1823.4,283.8 1825.4,286.1 1826.9,288.9 1828.4,292.1 1829.9,295.1 1831.4,297.0 1832.5,297.6 1834.4,294.6 1835.9,289.8 1837.4,284.7 1838.9,281.6 1840.4,279.4 1841.9,277.8 1843.4,276.1 1844.9,274.7 1846.7,274.3 1847.9,274.1 1849.4,274.0 1850.9,273.7 1852.4,273.9 1853.9,273.9 1855.4,273.6 1856.9,273.8 1858.4,273.8 1859.9,273.5 1861.4,273.5 1862.2,273.8 1862.9,273.9 1864.4,274.0 1865.9,273.9 1867.4,274.5 1868.9,275.3 1870.4,275.6 1871.9,276.5 1873.4,277.0 1874.9,277.0 1876.4,277.5 1877.7,277.6 1879.4,277.5 1880.9,277.2 1882.4,277.0 1883.9,276.8 1885.4,276.7 1886.9,276.1 1888.4,275.7 1889.9,275.0 1891.4,274.4 1892.9,273.9 1894.4,273.0 1895.7,272.3 1897.4,271.3 1898.9,269.6 1900.4,267.8 1901.9,265.7 1903.4,263.6 1904.9,262.0 1906.4,260.1 1907.3,259.3 1907.9,259.0 1909.4,257.6 1910.9,256.7 1912.4,255.5 1913.9,254.0 1915.4,253.2 1916.9,252.4 1918.4,251.9 1920.2,251.7 1921.4,251.8 1922.9,251.6 1924.4,251.8 1925.9,251.3 1927.4,251.5 1928.9,251.9 1930.5,251.6 1931.9,251.8 1933.4,252.2 1934.9,252.6 1936.4,252.4 1937.9,253.0 1939.4,253.5 1940.9,254.1 1942.4,254.9 1943.9,255.1 1945.4,256.2 1946.9,256.7 1948.4,257.6 1949.9,257.5 1951.4,258.3 1952.9,258.5 1954.4,258.7 1956.3,259.1 1957.4,259.0 1958.9,258.3 1960.4,258.4 1961.9,257.7 1963.4,257.2 1964.9,256.6 1966.4,256.1 1967.9,255.6 1969.4,255.4 1970.9,254.7 1971.8,255.3 1972.4,255.2 1973.9,255.6 1975.4,256.7 1976.9,257.7 1978.4,258.8 1979.9,259.6 1980.9,259.6 1982.9,257.8 1984.4,256.9 1985.9,254.8 1987.4,253.6 1988.6,252.8 1990.4,253.4 1991.9,254.3 1993.4,255.4 1994.9,256.2 1996.3,256.5 1997.9,255.2 1999.4,252.8 2000.9,249.7 2002.8,246.6 2003.9,245.3 2005.4,244.1 2006.9,242.5 2008.4,241.5 2009.9,240.7 2011.4,239.2 2013.1,238.6 2014.4,237.9 2015.9,238.3 2017.4,237.6 2018.9,237.4 2020.4,237.1 2021.9,236.8 2023.4,236.4 2024.9,236.3 2026.4,235.9 2027.9,235.9 2029.4,235.7 2031.2,235.3 2032.4,234.3 2033.9,233.7 2035.4,232.7 2036.9,231.7 2038.4,231.0 2039.9,230.4 2041.5,230.0 2042.9,229.5 2044.4,228.6 2045.9,228.4 2047.4,227.8 2048.9,227.5 2050.4,227.5 2051.9,227.4 2053.4,227.4 2054.9,227.4 2056.4,227.7 2057.9,228.0 2059.4,228.4 2060.9,228.6 2062.4,229.2 2063.9,229.5 2065.4,230.2 2067.3,230.3 2068.4,230.7 2069.9,231.4 2071.4,232.0 2072.9,232.2 2074.4,233.4 2075.9,234.0 2077.7,233.8 2078.9,234.0 2080.4,234.6 2081.9,234.2 2083.4,234.7 2085.4,234.9 2086.4,235.1 2087.9,235.9 2089.4,236.5 2090.9,237.3 2092.4,238.2 2094.5,238.7 2095.4,238.7 2096.9,238.2 2098.4,237.2 2099.9,235.6 2101.4,233.8 2102.9,232.3 2104.4,230.5 2105.9,229.4 2107.4,228.6 2108.7,228.2 2110.4,228.7 2111.9,228.3 2113.4,228.4 2114.9,228.5 2116.4,229.2 2117.9,229.3 2119.0,229.2 2120.9,230.4 2122.4,231.2 2124.1,232.1 2125.4,232.3 2126.9,232.0 2128.4,231.8 2129.9,231.8 2131.4,232.0 2132.9,232.0 2134.4,231.4 2135.9,231.9 2137.0,231.3 2138.9,232.4 2140.4,233.8 2141.9,235.7 2143.4,238.3 2144.9,240.4 2146.4,242.2 2147.9,244.0 2150.0,244.5 2150.9,244.8 2152.4,245.0 2153.9,244.8 2155.4,245.1 2156.4,244.5 2158.4,245.3 2159.9,247.1 2161.4,249.3 2162.9,251.8 2164.2,254.6 2165.9,257.9 2167.4,262.3 2168.5,267.1 2170.6,288.0 2172.4,323.7 2173.7,375.7 2175.0,427.1 2176.1,501.0 2178.2,434.0 2180.0,469.7 2180.9,487.7 2182.2,503.6 2184.0,460.0 2184.8,427.4 2186.1,375.6 2186.9,348.9 2187.9,323.9 2190.0,298.0 2191.4,285.8 2192.6,277.7 2194.4,267.7 2196.4,259.7 2197.4,256.5 2198.9,252.3 2200.4,249.2 2201.9,247.2 2202.9,246.4 2204.9,245.6 2206.4,245.5 2207.9,245.6 2209.3,245.2 2210.9,246.1 2212.4,247.8 2214.5,248.5 2215.4,248.3 2216.9,245.7 2218.4,243.4 2219.7,242.7 2221.4,243.4 2223.5,244.0 2224.4,242.4 2226.1,235.0"/><use href="#c5" x="-0.9" y="-0.9"/><use href="#c5" x="-0.9" y="0"/><use href="#c5" x="-0.9" y="0.9"/><use href="#c5" x="0" y="-0.9"/><use href="#c5" x="0" y="0.9"/><use href="#c5" x="0.9" y="-0.9"/><use href="#c5" x="0.9" y="0"/><use href="#c5" x="0.9" y="0.9"/></g>
<g fill="none" stroke="#008080" stroke-width="1.1" stroke-linejoin="round" stroke-linecap="butt" shape-rendering="crispEdges"><polyline id="c6" points="139.4,81.5 140.9,81.4 142.4,81.0 143.9,81.2 145.4,81.0 146.9,81.1 148.4,81.1 149.9,80.7 151.4,81.1 152.9,80.5 154.4,80.8 155.9,80.4 157.4,80.6 158.9,80.9 160.4,80.8 161.9,80.8 163.4,80.5 164.9,80.4 166.4,80.3 167.9,80.9 169.4,80.6 170.9,80.3 172.4,80.4 173.9,80.4 175.4,80.5 176.9,80.3 178.4,80.1 179.9,80.2 181.4,80.4 182.9,80.3 184.4,80.2 185.9,80.1 187.4,80.5 188.9,80.4 190.4,80.2 191.9,80.2 193.4,80.6 194.9,80.3 196.4,80.5 197.5,80.3 199.4,80.3 200.9,80.3 202.4,80.4 203.9,80.5 205.4,80.3 206.9,80.7 208.4,80.5 209.9,80.5 211.4,80.8 212.9,80.6 214.4,80.8 215.9,80.9 217.4,81.1 218.9,80.8 220.4,80.9 221.9,80.8 223.4,81.2 224.9,81.3 226.4,81.3 227.9,81.3 229.4,81.2 231.0,81.4 232.4,81.1 233.9,81.1 235.4,81.2 236.9,81.3 238.4,80.9 239.9,81.5 241.4,80.9 242.9,80.7 244.4,80.8 245.9,80.6 247.4,80.7 248.9,80.7 250.4,80.3 251.9,80.4 253.4,80.1 254.9,80.1 256.4,79.9 257.9,79.9 259.4,79.8 260.9,79.9 262.4,79.5 263.9,79.6 265.4,79.7 266.9,79.3 268.4,79.5 269.9,79.2 271.4,79.3 272.9,79.3 274.9,79.2 275.9,79.4 277.4,79.4 278.9,79.3 280.4,79.3 281.9,79.4 283.4,79.6 284.9,79.6 286.4,79.5 287.9,79.9 289.4,79.9 290.9,79.9 292.4,80.0 293.9,79.9 295.4,80.3 296.9,80.2 298.4,80.3 299.9,80.8 301.4,80.3 303.3,80.2 304.4,80.6 305.9,80.2 307.4,80.3 308.9,80.2 310.4,79.9 311.9,80.1 313.4,79.8 314.9,79.6 316.4,79.3 317.9,79.1 319.4,79.0 320.9,79.2 322.4,78.8 323.9,78.8 325.4,78.8 326.5,78.5 328.4,78.8 329.9,78.6 331.4,78.5 332.9,78.6 334.4,79.0 335.9,79.3 337.4,79.2 338.9,79.4 340.4,79.1 341.9,79.0 343.4,79.9 344.9,79.9 346.4,79.7 347.2,80.0 347.9,80.1 349.4,80.3 350.9,80.6 352.4,81.2 353.9,81.8 355.4,82.1 356.9,82.9 358.4,83.2 359.9,84.2 361.4,84.7 362.7,85.3 364.4,85.9 365.9,86.2 367.4,86.9 368.9,87.7 370.4,88.4 371.9,89.2 373.4,89.4 374.9,90.2 376.4,91.2 378.2,91.6 379.4,91.9 380.9,92.4 382.4,93.3 383.9,93.9 385.4,94.2 386.9,95.0 388.4,95.6 389.9,96.2 391.4,96.6 392.9,97.0 393.7,97.2 394.4,97.7 395.9,97.8 397.4,98.7 398.9,99.0 400.4,99.3 401.9,99.5 403.4,100.1 404.9,100.4 406.4,100.9 407.9,101.5 409.4,102.2 410.9,102.1 412.4,102.6 413.9,103.4 415.4,103.6 416.9,104.0 418.4,104.3 419.9,105.1 421.4,105.4 422.9,105.9 424.4,106.4 425.9,107.0 427.4,107.3 428.9,107.6 430.4,108.3 431.9,108.7 433.4,108.9 434.9,109.5 436.4,109.8 437.9,110.5 439.4,110.8 440.9,111.3 442.7,111.5 443.9,112.2 445.4,112.5 446.9,113.0 448.4,113.0 449.9,113.5 451.4,113.8 452.9,114.3 454.4,114.4 455.9,115.0 457.4,115.0 458.9,115.6 460.4,115.9 461.9,116.1 463.4,116.4 464.9,116.7 466.4,117.2 467.9,117.5 468.5,117.6 469.4,117.7 470.9,117.9 472.4,118.2 473.9,118.5 475.4,118.9 476.9,119.1 478.4,119.3 479.9,119.6 481.4,120.2 482.9,120.2 484.4,120.6 485.9,120.8 487.4,121.1 489.2,121.2 490.4,121.6 491.9,121.7 493.4,121.7 494.9,122.0 496.4,122.0 497.9,122.3 499.4,122.6 500.9,122.3 502.1,122.7 503.9,122.6 505.4,122.8 506.9,122.7 508.4,122.9 509.9,122.8 511.4,123.0 512.9,122.8 514.4,122.7 515.9,122.9 517.4,122.9 518.9,123.1 520.4,122.8 521.9,122.7 523.4,123.1 524.9,122.9 526.4,122.7 527.9,122.8 529.4,122.9 530.9,123.0 532.4,123.4 533.1,123.0 533.9,123.2 535.4,123.2 536.9,123.1 538.4,123.0 539.9,123.5 541.4,123.2 542.9,123.2 544.4,123.5 545.9,123.3 547.4,123.4 548.9,123.7 550.4,123.6 551.9,123.7 553.4,123.7 554.9,124.1 556.4,123.7 557.9,123.6 559.4,124.1 560.9,124.1 562.4,124.6 563.9,124.3 565.4,124.4 566.9,124.5 568.4,124.5 569.9,124.7 571.8,124.5 572.9,124.7 574.4,125.1 575.9,124.8 577.4,125.0 578.9,125.2 580.4,125.4 581.9,125.4 583.4,125.6 584.9,125.8 586.4,125.8 587.9,125.8 589.4,126.1 590.9,126.1 592.4,126.2 593.9,126.6 595.4,126.6 596.9,126.5 597.6,126.4 598.4,126.6 599.9,126.9 601.4,127.1 602.9,127.1 604.4,127.5 605.9,127.3 607.4,127.3 608.9,127.5 610.4,127.8 611.9,127.8 613.4,127.8 614.9,128.0 615.7,127.9 616.4,128.0 617.9,127.7 619.4,127.8 620.9,127.7 622.4,127.6 623.9,127.8 625.4,127.5 626.9,127.4 628.4,127.1 629.9,127.1 631.4,127.1 632.9,126.9 634.4,126.6 636.4,126.6 637.4,126.4 638.9,126.3 640.4,126.0 641.9,125.7 643.4,125.1 644.9,124.7 646.4,124.5 647.9,124.4 649.4,123.6 650.9,123.1 652.4,122.5 653.9,122.4 655.4,121.7 656.9,121.3 658.4,120.9 659.9,120.4 661.4,120.3 662.2,120.1 662.9,119.9 664.4,119.4 665.9,119.2 667.4,119.0 668.9,118.4 670.4,118.4 671.9,118.2 673.4,117.9 674.9,118.0 676.4,117.2 677.9,117.2 679.4,116.9 680.9,116.9 682.4,116.6 683.9,116.4 685.4,116.4 686.9,116.2 688.0,116.5 689.9,116.1 691.4,116.1 692.9,116.2 694.4,116.0 695.9,115.9 697.4,115.9 698.9,115.9 700.4,115.7 701.9,115.8 703.4,116.0 704.9,116.0 706.4,115.6 707.9,115.9 709.4,115.7 710.9,115.7 712.4,115.6 713.9,115.7 715.4,115.4 716.9,115.4 718.4,115.7 720.0,115.1 721.4,115.3 722.9,115.3 724.4,115.1 725.9,115.0 727.4,115.2 728.9,115.0 730.4,114.7 731.9,114.6 733.4,114.3 734.9,114.1 736.4,114.1 737.9,114.0 739.4,113.4 740.9,113.6 742.4,113.5 743.9,113.2 745.8,112.6 746.9,112.8 748.4,112.4 749.9,112.4 751.4,111.9 752.9,111.6 754.4,111.2 755.9,111.0 757.4,110.8 758.9,110.4 760.4,110.3 761.9,110.1 763.9,110.4 764.9,110.3 766.4,110.4 767.9,111.0 769.4,111.4 770.9,111.9 772.9,112.8 773.9,113.5 775.4,114.4 776.9,115.4 778.4,117.3 779.4,118.7 781.4,123.3 783.3,129.3 784.4,131.9 785.9,134.8 787.1,137.0 788.9,138.3 790.4,139.1 792.3,140.6 793.4,143.1 794.9,147.9 796.2,153.5 797.9,166.7 798.7,174.3 799.4,181.5 801.3,205.3 802.4,221.4 803.9,246.2 805.4,275.7 806.5,298.3 808.4,336.0 809.1,350.0 809.9,365.8 811.7,401.6 813.3,432.2 814.3,440.0 815.6,427.2 817.4,397.8 819.4,362.9 820.4,349.9 821.9,332.8 823.3,318.9 824.9,303.4 826.4,289.6 828.4,272.2 829.4,264.2 830.9,252.0 832.4,240.4 833.6,231.0 835.4,215.8 836.9,203.7 837.5,200.3 838.4,195.3 840.1,188.8 841.4,185.6 842.6,184.3 844.4,187.3 845.2,189.5 845.9,193.8 847.8,215.3 848.9,231.4 850.4,259.5 852.2,311.2 853.7,362.7 855.3,414.2 856.8,443.2 858.3,414.2 859.6,375.8 860.9,306.7 861.5,272.4 862.5,220.8 864.1,194.8 865.9,174.3 866.9,167.3 868.4,159.1 869.7,153.3 871.4,148.7 872.9,144.9 874.9,140.7 875.9,138.6 877.4,136.0 878.9,133.3 880.4,130.8 881.9,128.9 882.7,127.7 883.4,127.2 884.9,125.4 886.4,124.1 887.9,123.1 889.4,121.6 890.9,120.4 892.4,119.5 893.9,118.6 895.6,117.6 896.9,116.8 898.4,115.9 899.9,115.1 901.4,114.7 902.9,113.3 904.4,112.9 905.9,112.3 907.4,111.4 908.9,111.1 910.4,110.5 911.0,109.8 911.9,110.2 913.4,109.6 914.9,109.1 916.4,108.5 917.9,108.2 919.4,107.7 920.9,107.3 922.4,107.2 923.9,106.4 925.4,106.0 926.9,106.0 928.4,105.9 929.9,105.3 931.7,105.2 932.9,104.8 934.4,104.6 935.9,104.3 937.4,104.1 938.9,103.9 940.4,103.5 941.9,103.1 943.4,102.8 944.9,103.0 946.4,102.7 947.9,102.6 949.4,102.2 950.9,102.2 952.4,102.2 953.9,102.1 955.4,101.9 956.9,102.0 958.4,101.5 959.9,101.6 961.4,101.5 962.9,101.4 964.4,101.5 965.9,101.6 967.4,101.3 968.9,101.3 970.4,101.3 971.9,101.3 973.4,101.4 974.9,101.4 976.4,101.0 977.9,101.3 979.4,101.2 980.9,101.0 982.4,100.8 983.9,100.9 985.4,100.7 986.9,100.9 988.5,100.8 989.9,100.8 991.4,100.4 992.9,100.3 994.4,100.0 995.9,99.8 997.4,99.4 998.9,99.1 1000.4,98.7 1001.9,98.5 1003.4,98.2 1004.9,98.0 1006.4,97.5 1007.9,97.0 1009.4,96.8 1010.9,96.5 1012.4,95.9 1013.9,95.7 1015.4,95.3 1016.9,95.1 1018.4,94.9 1019.5,94.7 1021.4,94.4 1022.9,94.3 1024.4,94.0 1025.9,93.6 1027.4,93.7 1028.9,93.7 1030.4,93.5 1031.9,93.4 1033.4,93.1 1034.9,92.8 1036.4,92.6 1037.9,92.5 1039.4,92.5 1040.9,92.4 1042.4,92.3 1043.9,92.0 1045.4,92.3 1046.9,91.7 1048.4,91.9 1049.9,91.6 1051.4,91.7 1052.9,91.6 1054.4,91.5 1055.6,91.3 1057.4,91.0 1058.9,90.6 1060.4,90.4 1061.9,90.6 1063.4,90.6 1064.9,90.1 1066.4,90.3 1067.9,90.0 1069.4,89.7 1070.9,89.8 1072.4,90.0 1073.9,89.4 1075.4,89.5 1076.9,89.3 1078.4,89.1 1079.9,89.2 1081.4,89.1 1082.9,88.9 1084.4,88.9 1085.9,88.6 1087.4,88.6 1088.9,88.2 1090.4,88.4 1091.9,88.1 1093.4,87.7 1094.9,87.9 1096.4,87.5 1097.9,87.5 1099.4,87.7 1100.9,87.6 1102.4,87.2 1103.9,86.9 1105.4,87.2 1107.3,86.8 1108.4,87.0 1109.9,86.9 1111.4,86.8 1112.9,86.9 1114.4,86.6 1115.9,86.3 1117.4,86.2 1118.9,86.1 1120.4,86.1 1121.9,85.7 1123.4,85.7 1124.9,85.7 1126.4,85.3 1127.9,85.3 1129.4,85.4 1130.9,85.1 1132.4,85.4 1133.9,85.2 1135.4,85.1 1136.9,84.9 1138.4,84.8 1139.9,85.0 1141.4,85.0 1143.4,85.0 1144.4,84.5 1145.9,85.0 1147.4,85.1 1148.9,84.9 1150.4,85.2 1151.9,85.1 1153.4,85.3 1154.9,85.2 1156.4,85.7 1157.9,85.7 1159.4,85.8 1160.9,85.9 1162.4,86.1 1163.9,86.4 1165.4,86.5 1166.9,86.4 1168.4,86.3 1169.9,86.6 1171.8,86.2 1172.9,86.7 1174.4,86.5 1175.9,86.2 1177.4,86.1 1178.9,85.8 1180.4,85.7 1181.9,85.2 1183.4,85.1 1184.9,84.6 1186.4,84.1 1187.9,84.1 1189.4,83.7 1190.9,83.4 1192.4,83.0 1193.9,82.9 1195.4,82.7 1196.9,82.5 1197.6,82.5 1198.4,82.5 1199.9,82.3 1201.4,82.4 1202.9,82.3 1204.4,82.2 1205.9,81.9 1207.4,81.9 1208.9,81.9 1210.4,81.8 1211.9,81.6 1213.4,81.5 1214.9,81.7 1216.4,81.6 1217.9,81.7 1219.4,81.3 1220.9,81.4 1222.4,81.4 1223.9,81.2 1225.4,81.2 1226.9,81.1 1228.4,81.2 1229.9,81.1 1231.4,80.8 1232.9,80.9 1234.4,80.7 1236.4,80.8 1237.4,80.7 1238.9,80.8 1240.4,80.9 1241.9,80.6 1243.4,80.8 1244.9,80.6 1246.4,80.5 1247.9,80.5 1249.4,80.4 1250.9,80.5 1252.4,80.6 1253.9,80.3 1255.4,80.2 1256.9,80.4 1258.4,80.3 1259.9,80.0 1261.4,80.2 1262.9,80.0 1264.4,80.1 1265.9,80.1 1267.4,79.9 1268.9,79.9 1270.4,80.0 1271.9,79.6 1273.4,79.8 1274.9,79.5 1276.4,79.8 1277.9,79.7 1279.4,79.5 1280.9,79.5 1282.4,79.3 1283.9,79.6 1285.4,79.4 1286.9,79.5 1288.4,79.6 1289.9,79.4 1291.4,79.3 1292.9,79.6 1294.4,79.3 1295.9,79.5 1297.4,79.4 1298.9,79.5 1300.4,79.2 1301.9,79.0 1303.4,79.2 1304.9,79.3 1306.4,79.5 1307.9,79.1 1309.4,79.3 1310.9,79.0 1312.4,79.2 1313.9,79.4 1315.4,79.3 1316.9,79.3 1318.4,79.2 1320.0,79.3 1321.4,79.3 1322.9,79.2 1324.4,79.2 1325.9,79.2 1327.4,79.3 1328.9,79.0 1330.4,79.2 1331.9,79.3 1333.4,79.3 1334.9,79.3 1336.4,79.5 1337.9,79.5 1339.4,79.5 1340.9,79.9 1342.4,79.6 1343.9,79.7 1345.4,79.6 1346.9,79.7 1348.4,79.8 1349.9,79.6 1351.4,79.5 1352.9,80.1 1354.4,79.5 1355.9,79.6 1357.4,79.8 1358.9,79.8 1360.4,79.9 1361.9,80.2 1363.4,80.1 1364.9,79.7 1366.4,79.9 1367.9,80.0 1369.4,80.0 1370.9,79.7 1371.6,79.9 1372.4,80.2 1373.9,80.0 1375.4,79.9 1376.9,79.8 1378.4,80.1 1379.9,80.3 1381.4,79.8 1382.9,80.0 1384.4,79.8 1385.9,79.6 1387.4,79.5 1388.9,79.7 1390.4,79.6 1391.9,79.4 1393.4,79.5 1394.9,79.5 1396.4,79.7 1397.9,79.3 1399.4,79.1 1400.9,79.0 1402.4,79.2 1403.9,79.1 1405.4,78.9 1406.9,79.0 1408.4,78.8 1409.9,78.7 1411.4,78.6 1412.9,78.6 1414.4,78.6 1415.9,78.4 1417.4,78.3 1418.9,78.2 1420.4,78.5 1421.9,78.2 1423.3,78.5 1424.9,77.9 1426.4,78.1 1427.9,78.0 1429.4,77.8 1430.9,77.7 1432.4,77.7 1433.9,78.0 1435.4,77.6 1436.9,77.7 1438.4,77.7 1439.9,77.7 1441.4,77.2 1442.9,77.4 1444.4,77.1 1445.9,77.4 1447.4,77.4 1448.9,77.4 1450.4,77.3 1451.9,77.3 1453.4,77.3 1454.9,77.1 1456.4,77.2 1457.9,76.9 1459.4,77.0 1460.9,76.8 1462.4,76.8 1463.9,76.9 1464.6,77.1 1465.4,76.9 1466.9,77.0 1468.4,76.9 1469.9,77.0 1471.4,76.9 1472.9,76.7 1474.4,77.0 1475.9,76.8 1477.4,76.8 1478.9,77.0 1480.4,76.8 1481.9,76.7 1483.4,76.4 1484.9,76.5 1486.4,76.9 1487.9,76.2 1489.4,76.9 1490.9,76.5 1492.4,76.5 1493.9,76.8 1495.4,76.4 1496.9,76.6 1498.1,76.6 1499.9,76.8 1501.4,77.3 1502.9,77.8 1504.4,77.8 1505.9,78.5 1507.4,79.8 1508.9,80.3 1510.4,81.3 1511.9,82.0 1513.6,82.6 1514.9,83.2 1516.4,84.3 1517.9,85.1 1519.4,86.3 1520.9,87.2 1522.4,88.6 1523.9,89.2 1525.4,90.4 1526.5,91.5 1528.4,93.2 1529.9,94.8 1531.4,96.3 1532.9,98.3 1534.4,100.0 1535.9,102.0 1536.9,103.2 1538.9,106.5 1540.4,109.2 1541.9,112.0 1543.4,115.2 1544.6,117.2 1546.4,121.1 1547.9,124.2 1549.4,127.6 1551.1,130.4 1552.4,132.3 1553.9,135.1 1555.4,137.3 1557.5,138.7 1558.4,138.7 1559.9,138.4 1561.4,138.0 1562.9,137.7 1564.4,137.0 1565.3,136.9 1565.9,136.7 1567.4,136.3 1568.9,135.8 1570.4,135.2 1571.9,134.7 1573.4,134.4 1574.9,133.9 1575.6,134.3 1576.4,134.5 1577.9,135.1 1579.4,136.5 1580.9,138.2 1582.4,140.0 1583.3,140.6 1583.9,141.4 1585.4,142.3 1586.9,143.8 1588.4,145.5 1589.9,146.6 1591.4,147.8 1592.9,149.4 1594.4,150.6 1596.3,152.3 1597.4,153.3 1598.9,154.4 1600.4,155.9 1601.9,157.0 1603.4,158.3 1604.9,159.4 1606.4,160.2 1607.9,161.2 1609.2,161.8 1610.9,162.7 1612.4,163.0 1613.9,163.5 1615.4,164.1 1616.9,164.4 1618.2,164.4 1619.9,164.0 1621.4,163.2 1622.9,162.6 1624.7,161.5 1625.9,160.2 1627.4,158.6 1628.9,156.3 1630.4,154.0 1631.9,151.7 1633.4,149.3 1635.0,147.2 1636.4,145.4 1637.9,143.4 1639.4,141.6 1640.9,140.0 1642.4,137.9 1643.9,136.5 1645.4,134.6 1646.9,132.8 1648.4,131.2 1649.9,129.7 1651.4,128.5 1653.0,126.5 1654.4,124.8 1655.9,123.5 1657.4,121.5 1658.9,119.8 1660.4,118.4 1661.9,116.9 1663.4,115.5 1664.9,113.8 1666.4,112.3 1667.9,111.4 1669.4,110.6 1671.1,109.9 1672.4,109.1 1673.9,109.0 1675.4,108.3 1676.9,107.7 1678.4,107.6 1679.9,107.2 1681.4,106.6 1682.9,106.5 1684.4,106.5 1685.9,106.5 1686.6,106.2 1687.4,106.6 1688.9,106.4 1690.4,106.6 1691.9,107.1 1693.4,107.5 1694.4,107.5 1696.4,108.4 1697.9,109.5 1699.4,110.9 1700.9,112.2 1702.1,113.6 1703.9,115.9 1705.4,118.4 1707.3,124.0 1708.4,129.9 1709.8,143.4 1711.9,184.5 1712.9,231.5 1713.7,259.5 1714.4,264.3 1716.3,272.2 1717.4,294.7 1718.9,337.8 1719.7,347.5 1720.4,337.1 1722.2,272.3 1724.0,220.4 1724.9,211.5 1726.4,201.9 1727.9,194.8 1729.4,189.5 1730.9,184.8 1732.4,181.3 1733.1,179.6 1733.9,177.3 1735.4,172.9 1736.9,168.7 1738.4,165.3 1739.9,162.3 1740.8,161.1 1741.4,160.7 1742.9,159.2 1744.4,158.1 1745.9,157.2 1747.4,156.3 1748.9,155.4 1750.4,154.8 1751.9,154.4 1753.4,153.7 1754.9,153.1 1756.3,152.4 1757.9,151.5 1759.4,150.8 1760.9,149.9 1762.4,149.2 1763.9,148.7 1765.4,148.3 1766.6,148.7 1768.4,153.8 1770.5,159.9 1771.4,160.2 1772.9,160.1 1774.4,160.2 1775.9,160.2 1777.0,160.2 1778.9,157.8 1780.4,154.7 1782.1,152.2 1783.4,151.7 1784.9,150.9 1786.4,150.4 1787.9,150.0 1789.4,149.7 1790.9,149.2 1792.5,148.6 1793.9,147.7 1795.4,146.0 1796.9,144.0 1798.4,142.2 1799.9,140.8 1801.4,139.8 1802.8,139.4 1804.4,139.5 1805.9,139.5 1807.4,139.8 1808.9,139.8 1810.4,140.1 1811.9,140.1 1813.4,140.1 1814.9,140.2 1815.7,140.1 1816.4,140.2 1817.9,139.5 1819.4,139.4 1820.9,138.9 1822.4,138.3 1823.9,137.5 1826.0,137.1 1826.9,137.7 1828.4,138.5 1829.9,140.3 1831.4,141.6 1832.5,142.0 1834.4,141.5 1835.9,140.4 1837.4,138.6 1838.9,137.5 1840.4,136.0 1841.9,134.7 1843.4,133.0 1844.9,131.5 1846.4,130.0 1847.9,128.7 1849.4,127.8 1850.9,127.1 1851.8,127.1 1852.4,127.2 1853.9,127.0 1855.4,127.1 1856.9,127.0 1858.4,127.1 1859.9,127.5 1861.4,127.7 1862.9,127.6 1864.4,127.5 1865.9,127.7 1867.4,128.0 1868.9,128.1 1870.4,128.0 1871.9,128.2 1873.4,128.3 1875.1,128.1 1876.4,128.1 1877.9,128.2 1879.4,127.9 1880.9,127.7 1882.4,127.7 1883.9,127.3 1885.4,126.9 1886.9,126.2 1888.4,125.9 1889.9,125.6 1891.4,125.1 1892.9,124.8 1894.4,124.4 1895.7,124.0 1897.4,123.5 1898.9,122.7 1900.4,121.8 1901.9,121.4 1903.4,120.4 1904.9,119.6 1906.4,118.8 1907.9,118.1 1909.4,117.8 1910.9,116.6 1912.4,116.6 1913.9,116.3 1915.0,116.3 1916.9,116.2 1918.4,116.3 1919.9,116.4 1921.4,116.5 1922.8,116.6 1924.4,117.2 1925.9,117.5 1927.4,118.0 1928.9,118.6 1930.4,119.1 1931.9,119.8 1933.4,120.8 1934.9,121.4 1936.4,122.2 1937.9,122.8 1939.4,123.4 1940.8,123.8 1942.4,124.5 1943.9,125.0 1945.4,125.2 1946.9,125.6 1948.4,125.9 1949.9,126.3 1951.4,126.5 1952.9,126.8 1954.4,126.7 1956.3,126.6 1957.4,127.2 1958.9,126.8 1960.4,126.6 1961.9,126.4 1963.4,126.0 1964.9,125.8 1966.4,125.2 1967.9,125.1 1969.2,125.4 1970.9,125.6 1972.4,126.1 1973.9,126.9 1975.4,128.3 1976.9,129.0 1978.4,129.5 1979.6,129.4 1981.4,129.3 1982.9,128.7 1984.4,128.1 1985.9,127.9 1987.3,127.7 1988.9,128.3 1990.4,128.2 1991.9,129.1 1993.4,129.4 1995.0,129.7 1996.4,129.0 1997.9,127.4 1999.4,124.9 2000.9,122.6 2002.8,120.1 2003.9,118.8 2005.4,117.5 2006.9,116.4 2008.4,115.0 2009.9,113.3 2011.4,112.4 2012.9,111.7 2014.4,110.7 2015.7,110.1 2017.4,109.9 2018.9,109.5 2020.4,109.0 2021.9,109.1 2023.4,108.9 2024.9,108.7 2026.4,108.7 2027.9,108.5 2029.4,108.2 2031.2,107.9 2032.4,107.1 2033.9,106.6 2035.4,106.1 2036.9,105.4 2038.4,104.9 2039.9,104.2 2041.5,103.9 2042.9,103.8 2044.4,103.2 2045.9,102.9 2047.4,102.6 2048.9,102.1 2050.4,102.2 2051.9,102.1 2053.4,102.1 2054.4,101.9 2056.4,102.3 2057.9,102.3 2059.4,102.5 2060.9,102.0 2062.4,102.5 2063.9,102.9 2065.4,103.1 2067.3,103.4 2068.4,103.6 2069.9,104.3 2071.4,104.8 2072.9,105.6 2074.4,106.8 2075.9,107.1 2077.7,107.8 2078.9,107.8 2080.4,108.2 2081.9,108.3 2083.4,108.6 2084.9,108.9 2086.4,108.8 2087.9,108.9 2089.4,109.0 2090.9,109.0 2092.4,109.4 2093.2,109.5 2093.9,108.9 2095.4,108.8 2096.9,108.6 2098.4,108.1 2099.9,107.2 2101.4,106.8 2102.9,106.4 2104.4,106.1 2106.1,105.7 2107.4,106.1 2108.9,106.2 2110.4,107.1 2111.9,107.5 2113.8,108.4 2114.9,109.0 2116.4,109.7 2117.9,110.7 2119.4,111.5 2120.9,112.4 2122.4,113.5 2123.9,114.3 2125.4,114.7 2126.7,115.0 2128.4,115.0 2129.9,115.6 2131.4,115.4 2132.9,115.6 2134.4,115.8 2135.9,115.3 2137.4,115.8 2138.9,115.9 2139.6,116.1 2140.4,116.4 2141.9,116.9 2143.4,118.3 2144.9,119.6 2146.4,120.4 2147.9,121.5 2150.0,122.9 2150.9,123.0 2152.4,123.1 2153.9,123.7 2155.4,123.9 2156.9,124.6 2157.7,124.6 2158.4,125.2 2159.9,125.5 2161.4,126.5 2162.9,127.3 2164.4,129.5 2165.5,130.4 2167.4,134.9 2169.3,143.4 2170.4,151.0 2171.9,169.2 2173.2,208.2 2175.0,272.7 2176.2,322.9 2177.9,287.3 2178.6,278.0 2180.0,330.1 2180.9,389.7 2181.6,418.0 2182.4,400.3 2183.6,350.1 2185.5,286.9 2186.8,233.9 2188.7,194.9 2189.9,177.9 2191.3,164.2 2192.9,153.0 2194.4,146.4 2195.1,143.6 2195.9,140.8 2197.4,136.2 2198.9,132.6 2200.3,130.4 2201.9,129.1 2203.4,128.4 2204.9,127.4 2206.8,127.4 2207.9,127.1 2209.4,127.0 2210.9,126.8 2212.4,126.6 2214.5,126.5 2215.4,126.0 2216.9,124.6 2218.4,123.2 2219.7,122.7 2221.4,123.9 2223.5,125.0 2224.4,123.6 2226.1,114.6"/><use href="#c6" x="-0.9" y="-0.9"/><use href="#c6" x="-0.9" y="0"/><use href="#c6" x="-0.9" y="0.9"/><use href="#c6" x="0" y="-0.9"/><use href="#c6" x="0" y="0.9"/><use href="#c6" x="0.9" y="-0.9"/><use href="#c6" x="0.9" y="0"/><use href="#c6" x="0.9" y="0.9"/></g>
<line x1="502.5" y1="33" x2="502.6" y2="1136.6" stroke="#000" stroke-width="3.1" stroke-dasharray="10 2.5 4.7 2.5 4.7 2.6" stroke-dashoffset="-2" stroke-linecap="butt"/>
<line x1="816.5" y1="36" x2="813.9" y2="1473.3" stroke="#000" stroke-width="3.1" stroke-dasharray="10 2.5 4.7 2.5 4.7 2.6" stroke-dashoffset="-1.1" stroke-linecap="butt"/>
<line x1="860.4" y1="33" x2="856.3" y2="1370" stroke="#000" stroke-width="3.0" stroke-dasharray="18.6 1.3 5.8 1.3" stroke-dashoffset="-20.2" stroke-linecap="butt"/>
<line x1="1559" y1="57" x2="1558.9" y2="1192.5" stroke="#000" stroke-width="4.1" stroke-dasharray="6.2 6.3 1 6.3 1 6.2" stroke-dashoffset="0" stroke-linecap="round"/>
<line x1="1719.1" y1="247" x2="1719.4" y2="1285" stroke="#000" stroke-width="3.1" stroke-dasharray="10 2.5 4.7 2.5 4.7 2.6" stroke-dashoffset="0" stroke-linecap="butt"/>
<line x1="1840.5" y1="64.9" x2="1840.6" y2="1168.5" stroke="#000" stroke-width="3.3" stroke-dasharray="10 2.5 4.7 2.5 4.7 2.6" stroke-dashoffset="0" stroke-linecap="butt"/>
<line x1="2182.5" y1="105" x2="2182.4" y2="1285" stroke="#000" stroke-width="3.1" stroke-dasharray="10 2.5 4.7 2.5 4.7 2.6" stroke-dashoffset="0" stroke-linecap="butt"/>
<rect x="134" y="27" width="7" height="1349" fill="#000"/>
<rect x="2315" y="27" width="7" height="1349" fill="#000"/>
<rect x="134" y="27" width="2188" height="6" fill="#000"/>
<rect x="134" y="1370" width="2188" height="6" fill="#000"/>
<text class="s" transform="translate(137.7,1425.8) scale(1.17,1)" font-size="68.8" fill="#000" text-anchor="middle" stroke="#000" stroke-width="0.25">4000</text>
<text class="s" transform="translate(449.2,1425.8) scale(1.17,1)" font-size="68.8" fill="#000" text-anchor="middle" stroke="#000" stroke-width="0.25">3500</text>
<text class="s" transform="translate(760.8,1425.8) scale(1.17,1)" font-size="68.8" fill="#000" text-anchor="middle" stroke="#000" stroke-width="0.25">3000</text>
<text class="s" transform="translate(1072.4,1425.8) scale(1.17,1)" font-size="68.8" fill="#000" text-anchor="middle" stroke="#000" stroke-width="0.25">2500</text>
<text class="s" transform="translate(1383.9,1425.8) scale(1.17,1)" font-size="68.8" fill="#000" text-anchor="middle" stroke="#000" stroke-width="0.25">2000</text>
<text class="s" transform="translate(1695.5,1425.8) scale(1.17,1)" font-size="68.8" fill="#000" text-anchor="middle" stroke="#000" stroke-width="0.25">1500</text>
<text class="s" transform="translate(2007.0,1425.8) scale(1.17,1)" font-size="68.8" fill="#000" text-anchor="middle" stroke="#000" stroke-width="0.25">1000</text>
<text class="s" transform="translate(2318.5,1425.8) scale(1.17,1)" font-size="68.8" fill="#000" text-anchor="middle" stroke="#000" stroke-width="0.25">500</text>
<text class="a" transform="translate(221.5,156.4) scale(1.39,1)" font-size="67" fill="#000" text-anchor="start" stroke="#fff" stroke-width="0.4">f</text>
<text class="a" transform="translate(226,282.3) scale(1.235,1)" font-size="67" fill="#000" text-anchor="start" stroke="#fff" stroke-width="0.4">e</text>
<text class="a" transform="translate(230.5,491.3) scale(1.25,1)" font-size="67" fill="#000" text-anchor="start" stroke="#fff" stroke-width="0.4">d</text>
<text class="a" transform="translate(228.5,753.3) scale(1.3,1)" font-size="67" fill="#000" text-anchor="start" stroke="#fff" stroke-width="0.4">c</text>
<text class="a" transform="translate(240.4,875.6) scale(1.165,1)" font-size="67" fill="#000" text-anchor="start" stroke="#fff" stroke-width="0.4">b</text>
<text class="a" transform="translate(236.3,1031.8) scale(1.115,1)" font-size="67" fill="#000" text-anchor="start" stroke="#fff" stroke-width="0.4">a</text>
<text class="s" transform="translate(420.9,231.6) scale(1.164,1)" font-size="66" fill="#0000ff" text-anchor="start" stroke="#0000ff" stroke-width="0.7">3415cm</text>
<text class="s" transform="translate(668.3,195.7) scale(1.157,1)" font-size="37" fill="#0000ff" text-anchor="start" stroke="#0000ff" stroke-width="0.7">-1</text>
<text class="s" transform="translate(550.0,485.6) scale(1.167,1)" font-size="66" fill="#008000" text-anchor="start" stroke="#008000" stroke-width="0.7">3204cm</text>
<text class="s" transform="translate(798.7,450.5) scale(1.102,1)" font-size="37" fill="#008000" text-anchor="start" stroke="#008000" stroke-width="0.7">-1</text>
<text class="s" transform="translate(1494.1,209.1) scale(1.142,1)" font-size="66" fill="#ff00ff" text-anchor="start" stroke="#ff00ff" stroke-width="0.7">1620cm</text>
<text class="s" transform="translate(1737.9,173) scale(1.139,1)" font-size="37" fill="#ff00ff" text-anchor="start" stroke="#ff00ff" stroke-width="0.7">-1</text>
<text class="s" transform="translate(1461.8,367.4) scale(1.148,1)" font-size="66" fill="#ff00ff" text-anchor="start" stroke="#ff00ff" stroke-width="0.7">1720cm</text>
<text class="s" transform="translate(1708.4,331.7) scale(1.06,1)" font-size="37" fill="#ff00ff" text-anchor="start" stroke="#ff00ff" stroke-width="0.7">-1</text>
<text class="s" transform="translate(1673.5,421.6) scale(1.147,1)" font-size="66" fill="#ff00ff" text-anchor="start" stroke="#ff00ff" stroke-width="0.7">1254cm</text>
<text class="s" transform="translate(1917.3,386) scale(1.139,1)" font-size="37" fill="#ff00ff" text-anchor="start" stroke="#ff00ff" stroke-width="0.7">-1</text>
<text class="s" transform="translate(1892.8,342.6) scale(1.148,1)" font-size="66" fill="#ff00ff" text-anchor="start" stroke="#ff00ff" stroke-width="0.7">1050cm</text>
<text class="s" transform="translate(2136.8,307.2) scale(1.091,1)" font-size="37" fill="#ff00ff" text-anchor="start" stroke="#ff00ff" stroke-width="0.7">-1</text>
<text class="s" transform="translate(1494.0,488.9) scale(1.154,1)" font-size="66" fill="#008000" text-anchor="start" stroke="#008000" stroke-width="0.7">1633cm</text>
<text class="s" transform="translate(1740.5,452.7) scale(1.095,1)" font-size="37" fill="#008000" text-anchor="start" stroke="#008000" stroke-width="0.7">-1</text>
<text class="s" transform="translate(1741.9,540.8) scale(1.157,1)" font-size="66" fill="#008000" text-anchor="start" stroke="#008000" stroke-width="0.7">1337cm</text>
<text class="s" transform="translate(1988.9,505.7) scale(1.12,1)" font-size="37" fill="#008000" text-anchor="start" stroke="#008000" stroke-width="0.7">-1</text>
<text class="s" transform="translate(454.6,1293.6) scale(1.232,1)" font-size="74" fill="#000" text-anchor="start" stroke="#000" stroke-width="0.7">2915cm</text>
<text class="s" transform="translate(747.9,1253.3) scale(1.168,1)" font-size="44.8" fill="#000" text-anchor="start" stroke="#000" stroke-width="0.7">-1</text>
<text class="a" transform="translate(880.0,1307.4) scale(1.23,1)" font-size="64" fill="#000" text-anchor="start" stroke="#000" stroke-width="0.7">2847cm</text>
<text class="a" transform="translate(1158.3,1272.9) scale(1.141,1)" font-size="36" fill="#000" text-anchor="start" stroke="#000" stroke-width="0.7">-1</text>
<text class="s" transform="translate(1623.7,1325.2) scale(1.211,1)" font-size="74" fill="#000" text-anchor="start" stroke="#000" stroke-width="0.7">1462cm</text>
<text class="s" transform="translate(1912.0,1283.9) scale(1.147,1)" font-size="44.8" fill="#000" text-anchor="start" stroke="#000" stroke-width="0.7">-1</text>
<text class="s" transform="translate(1974.7,1287.3) scale(1.226,1)" font-size="74" fill="#000" text-anchor="start" stroke="#000" stroke-width="0.7">719cm</text>
<text class="s" transform="translate(2221.8,1246) scale(1.168,1)" font-size="44.8" fill="#000" text-anchor="start" stroke="#000" stroke-width="0.7">-1</text>
<line x1="1718.1" y1="33" x2="1718.2" y2="243" stroke="#000" stroke-width="4.1" stroke-dasharray="6.9 6.05 0.9 6.05 0.9 6.2" stroke-dashoffset="-26" stroke-linecap="round"/>
<line x1="662.9" y1="488.9" x2="646.0" y2="573.2" stroke="#000" stroke-width="3"/><polygon points="639.5,605.6 635.6,569.1 657.2,573.4" fill="#000"/>
<line x1="1600.9" y1="191" x2="1607.7" y2="271.7" stroke="#000" stroke-width="3"/><polygon points="1610.5,304.6 1596.6,270.7 1618.5,268.8" fill="#000"/>
<line x1="1610.5" y1="503.1" x2="1613.8" y2="590.1" stroke="#000" stroke-width="3"/><polygon points="1615.1,623.1 1602.8,588.5 1624.8,587.7" fill="#000"/>
<line x1="1789.4" y1="567.6" x2="1794.9" y2="696.0" stroke="#000" stroke-width="3"/><polygon points="1796.3,729 1783.8,694.5 1805.8,693.6" fill="#000"/>
<line x1="2008" y1="307.2" x2="1997.0" y2="287.2" stroke="#000" stroke-width="3.2"/><polygon points="1982.1,260 2008.1,283.4 1987.9,294.5" fill="#000"/>
<text class="s" transform="translate(722.7,1578) scale(1.183,1)" font-size="107" fill="#000" text-anchor="start" stroke="#000" stroke-width="0.8">Wavenumber (cm</text>
<text class="s" transform="translate(1634.4,1519.9) scale(1.086,1)" font-size="63.7" fill="#000" text-anchor="start" stroke="#000" stroke-width="0.8">-1</text>
<text class="s" transform="translate(1695.6,1578) scale(1.241,1)" font-size="105" fill="#000" text-anchor="start" stroke="#000" stroke-width="0.8">)</text>
<text class="s" transform="translate(93.2,1084.6) rotate(-90) scale(1.2,1)" font-size="105" letter-spacing="-7.73" fill="#000" stroke="#000" stroke-width="0.8">Transmittance (%)</text>
</svg></body></html>
